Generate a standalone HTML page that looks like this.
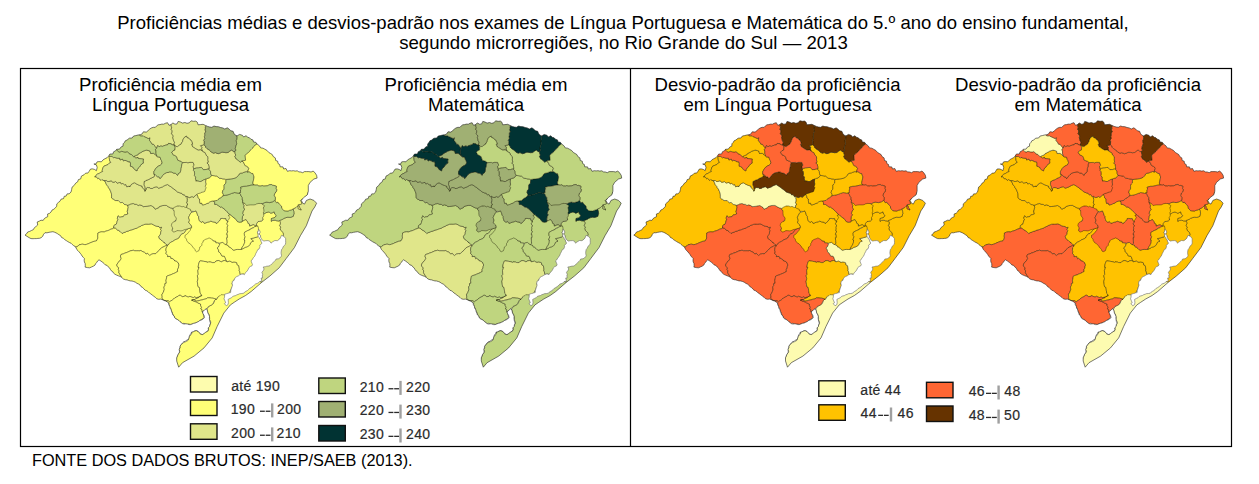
<!DOCTYPE html><html><head><meta charset="utf-8"><style>html,body{margin:0;padding:0;background:#fff;width:1259px;height:484px;overflow:hidden}svg{display:block}</style></head><body>
<svg width="1259" height="484" viewBox="0 0 1259 484">
<g font-family="Liberation Sans, sans-serif" fill="#000" font-size="18.6" text-anchor="middle">
<text x="623" y="28.8" font-size="18.5">Proficiências médias e desvios-padrão nos exames de Língua Portuguesa e Matemática do 5.º ano do ensino fundamental,</text>
<text x="623.5" y="49.4">segundo microrregiões, no Rio Grande do Sul — 2013</text>
<text x="170.5" y="90.9">Proficiência média em</text><text x="170.5" y="110.9">Língua Portuguesa</text>
<text x="476" y="90.9">Proficiência média em</text><text x="476" y="110.9">Matemática</text>
<text x="777.5" y="91">Desvio-padrão da proficiência</text><text x="777.5" y="111">em Língua Portuguesa</text>
<text x="1078" y="91">Desvio-padrão da proficiência</text><text x="1078" y="111">em Matemática</text>
</g>
<rect x="20.5" y="68.5" width="1211" height="378" fill="none" stroke="#000" stroke-width="1.2"/>
<line x1="630.5" y1="68.5" x2="630.5" y2="446.5" stroke="#000" stroke-width="1.2"/>
<clipPath id="clip1"><polygon points="25.0,235.1 26.6,233.8 27.7,232.0 29.7,231.4 31.4,230.5 33.3,229.7 34.4,227.7 36.1,226.4 37.7,225.0 37.2,222.0 39.4,221.1 41.0,220.2 43.2,220.4 44.3,218.6 45.9,217.5 47.7,216.7 47.6,214.0 49.6,213.3 51.0,212.0 52.0,210.1 53.9,209.2 55.4,207.8 56.7,206.2 56.8,203.9 58.3,202.5 60.0,201.2 61.0,199.2 63.6,198.6 64.2,196.3 66.1,196.1 67.1,193.9 69.1,193.8 71.0,192.1 71.6,189.7 72.1,187.1 74.1,185.5 75.7,183.1 77.6,181.9 78.4,179.6 80.7,178.9 81.4,176.1 84.0,174.8 85.7,173.1 87.8,173.1 89.0,171.5 90.6,169.0 92.7,168.9 94.7,169.5 96.4,170.7 97.2,167.4 96.4,164.9 93.9,164.0 96.0,164.0 97.0,161.9 98.9,161.6 101.4,161.8 103.0,159.9 105.0,158.7 107.1,157.7 108.7,156.0 109.9,154.0 112.8,154.0 113.7,151.7 115.5,150.9 116.7,149.3 119.5,149.1 121.1,146.9 123.0,146.2 123.1,143.8 124.4,142.5 125.3,140.8 127.1,140.0 129.3,138.2 132.1,138.0 133.6,136.0 135.8,135.6 138.0,135.0 140.1,134.8 142.0,134.0 143.4,131.8 146.3,132.1 148.1,130.6 149.6,129.2 151.3,128.0 153.3,127.3 155.3,127.4 156.6,125.9 158.2,124.8 160.0,124.6 161.8,124.1 163.7,124.2 165.3,123.3 167.5,122.7 169.0,125.3 171.2,124.6 172.7,122.9 175.0,124.2 177.0,123.9 178.2,121.4 180.4,122.0 182.5,123.1 184.9,122.5 187.0,123.3 189.3,122.8 191.0,120.8 193.6,121.3 195.8,121.1 197.3,122.2 198.1,124.8 200.3,124.6 203.1,124.3 205.6,125.5 207.6,126.4 209.7,127.0 211.8,127.3 214.0,126.0 216.1,126.6 218.4,126.7 220.5,127.5 222.7,127.9 224.8,129.0 227.3,127.8 229.3,129.2 230.9,130.8 233.1,131.3 233.9,133.3 235.1,135.0 237.1,135.9 239.6,134.4 242.4,135.3 243.7,137.0 246.2,135.7 247.6,137.3 249.5,137.8 251.0,139.3 252.9,139.9 253.5,142.0 255.8,142.3 256.9,143.9 259.5,145.9 260.7,147.9 263.0,148.2 264.8,149.2 267.1,150.5 268.8,152.5 270.6,153.5 272.3,154.6 273.2,156.5 275.3,157.9 275.7,160.5 277.7,161.2 278.0,163.5 279.7,164.5 280.1,166.8 283.0,166.9 283.7,169.0 286.0,168.5 287.4,171.3 289.7,170.7 291.5,170.9 293.4,170.7 295.2,171.1 297.2,170.8 298.9,171.9 300.8,172.0 302.7,172.7 304.5,171.6 306.4,171.6 308.8,171.6 311.1,172.0 313.1,171.1 314.8,172.5 316.6,175.3 317.1,178.1 313.9,179.0 310.1,182.3 308.3,185.5 308.3,191.1 307.3,194.8 303.6,197.6 301.3,200.4 302.7,203.2 304.5,204.1 306.4,200.4 310.1,199.0 313.9,200.4 316.6,203.2 314.8,206.9 312.0,211.0 306.3,225.8 300.4,235.7 294.4,247.6 286.2,258.5 279.2,267.8 269.9,276.0 261.9,282.2 251.2,291.5 245.6,295.5 239.2,299.0 234.2,302.3 230.4,304.9 223.8,313.1 217.2,326.4 212.2,337.9 204.0,347.9 194.1,356.1 182.5,362.7 178.7,367.2 176.7,361.0 176.7,357.8 177.4,356.1 178.1,354.3 179.2,352.8 179.5,351.2 179.2,349.5 179.8,347.9 180.0,346.2 181.2,344.5 182.5,342.9 183.8,341.7 185.4,341.3 186.6,340.1 188.3,339.6 188.9,338.1 189.3,336.4 189.9,335.0 190.9,333.6 191.6,332.1 193.3,331.8 194.8,330.7 196.5,330.5 198.1,331.3 199.3,332.6 200.6,333.9 202.3,334.6 204.0,333.6 205.6,332.3 207.3,331.3 208.4,329.8 208.2,327.9 209.6,326.5 209.8,324.7 210.6,323.1 209.9,321.5 209.6,319.8 209.4,318.2 209.5,316.4 208.9,314.8 207.9,313.0 207.5,310.9 206.7,309.0 206.3,308.7 204.9,309.6 203.8,310.8 202.4,311.7 203.0,313.7 204.1,315.6 204.4,317.7 203.1,319.0 201.5,319.9 199.8,320.5 198.4,321.6 196.8,322.3 195.3,323.0 193.6,323.3 192.1,324.0 190.5,324.6 188.9,324.6 187.3,323.9 185.7,323.8 184.1,324.0 182.5,323.6 181.2,322.6 179.9,321.6 178.8,320.4 177.4,319.5 175.8,318.8 174.6,317.7 174.2,316.0 172.8,314.9 172.3,313.2 171.6,311.7 171.2,309.8 170.1,308.2 169.8,306.4 168.8,304.7 168.6,302.8 167.2,301.9 165.8,301.1 164.2,300.5 162.7,299.8 160.8,299.1 158.7,299.3 156.8,298.8 155.4,297.4 153.9,296.3 152.3,295.1 150.8,293.9 149.4,293.0 148.2,291.8 146.8,290.8 145.2,290.2 143.9,288.9 142.7,287.5 141.0,286.6 140.0,285.0 138.5,284.0 136.9,283.3 135.4,282.2 133.7,281.5 132.0,281.0 130.3,280.9 128.7,280.5 127.1,279.9 125.4,279.7 123.4,279.0 121.8,277.5 120.1,276.4 118.3,275.8 116.6,275.1 115.0,274.3 113.5,273.1 112.7,271.6 111.2,270.7 110.3,269.3 109.5,267.8 108.1,266.8 107.1,265.4 105.3,264.9 104.2,263.6 102.9,262.5 101.0,261.1 99.0,259.8 97.7,260.9 96.8,262.3 95.7,263.6 95.0,265.1 93.3,266.2 91.5,267.0 89.7,267.8 87.4,267.6 85.1,267.1 85.3,265.4 85.2,263.6 84.4,262.0 84.2,260.2 84.4,258.5 83.2,257.3 82.1,256.0 81.2,254.5 80.2,253.2 79.1,251.9 78.0,250.7 76.8,249.5 76.1,247.9 75.2,246.5 73.6,245.6 72.3,244.5 71.0,243.2 69.4,242.5 67.8,241.6 66.3,240.6 64.8,239.7 63.4,238.3 61.6,237.5 60.6,235.7 58.9,234.7 57.5,233.7 56.1,232.9 54.5,232.2 52.9,231.7 50.9,232.0 49.0,232.3 47.0,232.8 45.0,232.7 43.6,234.3 42.7,236.3 41.1,237.7 39.5,238.3 37.9,238.4 36.3,238.6 34.7,238.6 33.1,238.7 31.0,238.6 29.2,237.7"/></clipPath>
<g clip-path="url(#clip1)" stroke="#1a1a00" stroke-opacity="0.52" stroke-width="0.8" stroke-linejoin="round">
<polygon fill="#FFFF77" points="-8.7,249.5 -8.8,249.1 -9.0,246.2 -8.7,246.2 -8.4,243.2 -9.5,243.0 -8.3,240.4 -8.7,239.6 -9.4,237.8 -8.3,236.1 -8.9,235.1 -8.8,232.8 -8.9,232.3 -8.5,229.7 -8.9,229.2 -9.3,226.8 -8.0,226.0 -9.3,224.0 -8.9,222.7 -8.3,221.1 -9.2,219.4 -8.7,218.2 -8.8,216.3 -8.5,215.2 -9.2,213.3 -8.7,212.0 -8.3,210.4 -9.6,208.9 -8.3,207.4 -8.7,205.9 -9.2,204.3 -8.6,202.9 -8.8,201.1 -8.7,200.0 -9.2,198.0 -8.3,197.0 -8.9,194.9 -9.4,193.9 -8.0,192.0 -9.2,190.7 -8.9,189.3 -8.5,187.3 -8.9,186.5 -8.8,184.0 -9.0,183.7 -8.2,180.9 -9.4,180.6 -6.7,179.7 -5.7,178.9 -4.8,178.3 -3.1,178.0 -2.1,177.6 0.3,177.1 1.7,176.3 2.1,175.5 4.1,175.0 5.4,174.8 7.2,174.8 9.0,174.8 9.2,174.4 11.1,173.7 12.9,172.8 14.2,172.0 16.1,171.5 16.5,171.2 18.0,170.8 20.4,170.2 21.3,169.4 23.0,168.6 23.9,168.2 25.0,168.1 27.6,168.1 28.6,168.0 29.8,167.5 31.2,166.7 32.2,165.9 34.7,165.2 36.0,164.7 36.7,164.4 38.5,164.0 39.5,163.3 41.7,162.5 43.3,161.8 43.6,161.4 45.6,161.3 47.0,161.4 48.7,161.2 50.6,160.6 50.8,159.8 52.5,159.0 54.5,158.3 55.7,158.0 57.6,157.6 58.1,157.1 59.5,156.4 61.9,155.6 62.9,154.9 64.5,154.6 65.5,154.6 66.5,154.6 69.2,154.4 70.2,153.7 71.3,152.9 72.8,152.1 73.7,151.5 76.2,151.2 77.6,150.9 78.2,150.3 80.0,149.5 81.1,148.7 83.2,148.1 85.0,147.9 85.2,147.9 87.1,147.9 88.6,147.5 90.1,146.8 92.1,146.0 92.4,145.2 94.0,144.8 96.1,144.4 97.2,144.0 99.1,143.4 99.8,142.6 100.9,141.8 103.5,141.3 104.5,141.2 106.0,141.2 107.2,141.1 108.0,140.7 109.3,140.9 108.5,143.9 108.7,144.3 108.7,146.7 109.0,147.9 108.4,149.6 108.7,151.2 109.2,152.9 107.9,154.1 109.3,156.5 109.2,157.3 109.4,159.1 109.7,160.8 110.8,162.4 108.8,163.5 107.8,164.7 105.9,165.4 103.9,166.2 102.9,167.9 102.2,170.3 102.7,171.5 100.4,172.5 99.4,173.3 97.4,174.1 96.0,175.3 94.8,177.0 96.2,176.6 97.9,178.8 98.5,178.3 101.1,180.3 101.9,179.5 103.7,180.5 105.3,181.5 105.7,182.8 106.6,184.9 108.1,186.5 108.3,187.4 109.6,189.1 110.6,191.3 111.3,193.2 111.5,194.2 111.6,196.2 111.5,197.8 113.0,199.1 113.5,199.2 115.3,200.5 118.3,200.6 118.7,201.0 120.7,202.7 122.4,202.4 124.6,204.5 126.3,204.7 127.5,205.3 128.3,207.2 128.0,208.0 127.6,210.7 127.1,210.9 127.9,214.0 125.9,214.7 124.4,215.0 123.8,215.5 123.3,216.6 120.8,217.0 119.9,217.4 118.1,215.8 117.2,218.4 118.1,219.2 117.2,221.0 116.9,222.4 116.3,224.2 114.9,224.9 113.9,225.6 113.7,228.0 112.7,228.7 110.4,229.4 109.3,230.1 107.3,230.8 105.2,231.4 104.3,232.0 102.5,231.9 101.9,231.8 99.9,232.2 97.9,233.0 97.9,234.9 97.7,235.9 97.9,238.0 97.3,239.4 96.4,240.9 95.8,241.1 93.7,241.4 92.7,241.9 90.5,242.7 88.9,243.5 86.8,244.3 85.1,244.7 84.6,244.6 82.6,244.2 81.6,244.3 79.0,244.9 78.1,245.9 77.1,246.7 75.3,247.1 74.2,247.3 75.3,250.3 74.4,250.7 74.3,253.0 73.2,254.4 73.8,255.6 73.7,257.8 73.0,258.8 72.6,260.6 72.2,262.3 73.0,263.6 71.8,265.3 71.8,267.1 70.9,267.9 71.8,270.7 69.5,269.6 68.1,269.3 66.5,270.4 65.7,270.6 63.1,269.5 62.3,269.4 60.8,270.6 59.2,270.5 57.1,269.4 56.7,269.6 54.4,270.7 52.9,270.3 51.6,269.3 50.5,269.8 48.0,270.7 47.2,270.1 45.8,269.3 43.9,270.0 42.2,270.7 41.5,270.0 39.4,269.3 37.7,270.1 36.7,270.7 35.2,269.8 33.0,269.4 32.1,270.3 30.8,270.6 28.7,269.7 27.3,269.5 26.3,270.4 24.3,270.4 22.6,269.6 21.7,269.6 20.0,270.4 18.0,270.3 16.9,269.6 15.7,269.8 13.4,270.4 12.4,270.1 11.1,269.6 9.2,269.9 7.4,270.4 6.8,270.0 4.7,269.7 3.0,270.0 1.8,270.3 0.7,270.0 -1.8,269.8 -2.5,270.1 -4.1,270.2 -5.8,269.9 -7.7,269.9 -8.2,270.1 -8.9,268.5 -9.1,266.7 -8.6,265.8 -8.8,263.3 -8.8,262.9 -9.2,260.1 -8.2,259.9 -9.2,257.1 -9.0,256.6 -8.1,254.4 -9.4,253.0 -8.6,251.8"/>
<polygon fill="#FFFF77" points="75.3,247.1 77.1,246.7 78.1,245.9 79.0,244.9 81.6,244.3 82.6,244.2 84.6,244.6 85.1,244.7 86.8,244.3 88.9,243.5 90.5,242.7 92.7,241.9 93.7,241.4 95.8,241.1 96.4,240.9 97.3,239.4 97.9,238.0 97.7,235.9 97.9,234.9 97.9,233.0 99.9,232.2 101.9,231.8 102.5,231.9 104.3,232.0 105.2,231.4 107.3,230.8 109.3,230.1 110.4,229.4 112.7,228.7 113.7,228.0 115.3,228.0 117.6,230.1 118.1,230.1 120.1,231.4 122.2,233.5 123.1,232.8 125.4,232.1 126.3,231.5 128.2,231.1 129.3,230.6 130.5,230.1 133.0,229.5 134.1,228.9 136.4,228.3 137.6,227.7 138.6,227.0 140.6,226.3 141.4,225.6 143.3,224.9 145.1,224.2 146.8,224.1 148.7,224.2 149.0,224.1 151.4,223.8 153.9,225.0 154.8,225.6 156.5,226.2 159.0,226.6 159.6,227.7 161.7,227.2 160.6,229.6 161.4,230.7 160.7,232.0 160.6,234.1 159.8,235.1 158.8,236.6 159.4,238.7 160.0,239.0 161.4,240.1 162.4,241.1 164.4,242.7 164.3,242.3 166.0,244.4 167.7,245.1 165.7,245.8 164.4,246.4 163.2,247.0 161.6,247.7 160.2,249.2 159.4,250.2 158.5,251.0 157.1,252.2 155.4,253.9 153.9,253.6 151.8,254.1 150.5,255.0 149.8,255.6 147.5,253.4 146.0,254.1 144.1,251.8 143.6,252.1 140.7,250.5 139.7,250.9 138.5,250.8 136.4,250.8 134.7,250.8 133.2,250.2 132.2,250.5 130.3,250.9 128.6,251.7 126.8,252.5 124.7,253.2 123.5,253.8 121.0,254.5 120.4,256.1 121.2,258.5 120.5,259.8 119.3,261.5 118.0,262.5 116.8,264.9 117.0,266.3 118.7,267.7 118.3,269.5 119.1,270.8 118.9,272.7 120.3,275.0 121.5,276.8 120.5,278.9 120.7,279.5 120.5,282.3 121.1,282.4 120.2,285.5 120.4,285.4 121.2,288.5 119.9,288.6 120.6,291.3 120.4,292.0 120.6,294.1 119.8,295.4 120.5,296.8 120.6,298.7 119.5,299.8 118.9,299.6 117.2,300.3 115.9,300.3 113.4,299.7 113.3,299.8 110.9,300.2 109.6,300.2 107.9,299.8 107.2,299.9 104.4,300.2 103.8,300.1 102.1,299.9 100.7,300.0 98.4,300.1 98.2,300.0 95.8,300.0 94.4,300.0 92.9,300.0 92.0,300.0 89.3,300.1 88.6,300.0 87.1,299.9 85.4,300.0 83.4,300.2 82.9,299.9 80.7,299.8 79.1,300.1 77.9,300.2 76.7,299.8 74.3,299.7 73.4,300.3 72.1,300.3 70.1,299.7 68.5,299.7 67.7,300.4 65.7,300.2 63.9,299.5 62.9,299.8 61.4,300.5 61.2,298.3 61.5,296.8 62.8,296.0 62.7,293.7 63.8,292.6 63.1,291.2 63.6,289.5 64.3,287.9 64.6,287.2 65.9,284.4 65.2,284.3 65.8,281.8 65.8,280.7 66.5,279.2 67.7,278.0 67.4,275.7 68.2,275.5 67.5,272.7 68.4,272.0 69.2,270.4 69.5,268.6 70.4,267.4 69.6,266.0 70.4,264.0 70.6,263.1 71.5,261.5 72.3,259.4 71.8,259.0 72.6,256.4 72.2,255.6 73.4,254.0 74.1,252.5 74.1,250.6 74.7,250.2 74.0,247.2"/>
<polygon fill="#FFFF77" points="121.5,276.8 120.3,275.0 118.9,272.7 119.1,270.8 118.3,269.5 118.7,267.7 117.0,266.3 116.8,264.9 118.0,262.5 119.3,261.5 120.5,259.8 121.2,258.5 120.4,256.1 121.0,254.5 123.5,253.8 124.7,253.2 126.8,252.5 128.6,251.7 130.3,250.9 132.2,250.5 133.2,250.2 134.7,250.8 136.4,250.8 138.5,250.8 139.7,250.9 140.7,250.5 143.6,252.1 144.1,251.8 146.0,254.1 147.5,253.4 149.8,255.6 150.5,255.0 151.8,254.1 153.9,253.6 155.4,253.9 157.1,252.2 158.5,251.0 159.4,250.2 160.2,249.2 161.6,247.7 163.2,247.0 164.4,246.4 165.7,245.8 167.7,245.1 167.0,246.9 166.2,247.7 165.9,250.3 166.4,251.7 166.0,253.5 167.7,255.3 167.6,256.6 170.3,256.4 171.1,258.7 171.8,258.1 174.5,260.0 174.5,260.6 176.3,261.1 178.3,262.8 178.2,262.8 179.1,265.0 178.6,266.4 178.4,268.0 177.5,269.5 177.6,271.6 176.1,272.2 175.4,272.9 173.4,273.6 171.8,274.3 170.6,274.9 168.1,275.6 166.7,276.4 166.6,277.7 166.1,280.0 166.0,280.2 166.3,283.2 164.9,283.6 164.9,285.6 163.9,287.0 164.2,288.7 164.3,289.4 163.3,292.3 163.2,292.4 161.8,294.9 162.2,296.1 162.1,297.6 162.8,300.2 162.7,300.9 162.8,303.3 162.2,304.1 162.7,306.3 163.0,307.5 161.7,309.0 162.9,310.9 162.3,311.8 162.3,314.3 162.1,314.8 162.7,317.5 162.2,317.9 161.7,320.4 160.8,320.7 159.3,319.5 157.9,319.4 155.6,320.6 155.3,320.5 153.0,319.3 151.6,319.6 150.1,320.7 149.2,320.3 146.6,319.2 146.0,319.8 144.3,320.8 142.7,320.1 140.7,319.2 140.4,320.0 137.8,320.8 136.7,319.9 135.2,319.2 134.1,320.2 131.5,320.7 131.2,319.6 129.2,319.3 127.6,320.4 125.9,320.6 125.4,319.5 122.6,319.5 121.8,320.6 120.3,320.5 118.9,319.3 116.6,319.6 116.3,320.7 114.0,320.3 112.6,319.2 111.1,319.8 110.9,318.4 112.3,317.3 112.2,315.3 113.1,314.2 112.2,312.8 113.1,310.6 113.5,310.3 114.2,307.5 114.5,307.1 114.0,305.0 114.8,303.7 114.8,302.2 116.3,300.9 115.7,298.8 116.2,298.4 116.0,295.5 116.8,295.5 117.6,292.8 117.5,292.0 118.0,290.3 117.4,288.8 118.8,287.3 118.8,286.2 119.7,283.8 119.2,283.6 119.5,280.9 120.1,280.3 120.6,278.5"/>
<polygon fill="#E0E68A" points="127.5,205.3 129.9,204.5 130.8,203.9 133.3,203.5 134.9,204.3 136.8,204.4 138.2,205.5 139.8,204.8 142.1,205.6 143.3,206.6 144.9,206.5 147.5,206.2 148.0,206.0 149.4,205.8 151.1,205.5 152.5,206.4 153.8,207.1 155.2,209.2 156.7,208.5 158.8,207.6 159.2,206.7 161.0,206.0 162.4,205.6 164.2,205.4 166.4,205.4 167.1,206.0 168.9,207.0 170.4,207.8 172.9,208.4 173.6,210.4 175.5,210.1 176.6,212.3 177.6,213.7 177.6,215.6 177.2,216.8 178.3,219.7 175.1,220.6 175.2,222.4 175.3,224.4 174.2,224.6 174.2,227.1 172.9,228.1 172.3,229.6 172.3,230.7 174.7,229.9 175.3,229.3 177.2,228.8 178.2,228.4 179.7,228.2 182.0,228.6 183.4,228.5 184.9,227.8 185.5,227.1 188.3,227.2 189.3,227.7 191.1,227.6 190.0,228.1 188.4,228.6 186.9,229.5 185.8,230.7 184.9,232.1 183.8,233.3 182.1,233.9 180.8,234.8 179.9,236.4 179.0,238.0 177.3,239.0 175.3,239.7 174.1,240.5 172.9,241.3 170.8,242.3 169.4,243.3 169.0,244.2 167.7,245.1 166.0,244.4 164.3,242.3 164.4,242.7 162.4,241.1 161.4,240.1 160.0,239.0 159.4,238.7 158.8,236.6 159.8,235.1 160.6,234.1 160.7,232.0 161.4,230.7 160.6,229.6 161.7,227.2 159.6,227.7 159.0,226.6 156.5,226.2 154.8,225.6 153.9,225.0 151.4,223.8 149.0,224.1 148.7,224.2 146.8,224.1 145.1,224.2 143.3,224.9 141.4,225.6 140.6,226.3 138.6,227.0 137.6,227.7 136.4,228.3 134.1,228.9 133.0,229.5 130.5,230.1 129.3,230.6 128.2,231.1 126.3,231.5 125.4,232.1 123.1,232.8 122.2,233.5 120.1,231.4 118.1,230.1 117.6,230.1 115.3,228.0 113.7,228.0 113.9,225.6 114.9,224.9 116.3,224.2 116.9,222.4 117.2,221.0 118.1,219.2 117.2,218.4 118.1,215.8 119.9,217.4 120.8,217.0 123.3,216.6 123.8,215.5 124.4,215.0 125.9,214.7 127.9,214.0 127.1,210.9 127.6,210.7 128.0,208.0 128.3,207.2"/>
<polygon fill="#FFFF77" points="261.8,281.9 263.5,283.1 264.7,282.5 266.4,283.7 267.7,283.8 269.2,283.9 270.7,285.0 272.1,284.5 273.7,285.6 275.0,285.7 276.6,285.8 278.0,286.9 279.5,286.5 281.0,287.5 282.4,287.7 284.0,287.8 285.3,288.8 286.9,288.5 288.2,289.4 289.8,289.7 291.2,289.7 289.8,291.3 288.7,292.5 288.0,293.3 287.3,293.9 285.9,294.8 284.0,295.9 282.6,297.1 282.1,298.1 281.8,299.1 280.6,300.1 278.6,301.3 276.9,302.4 276.2,303.2 275.9,303.8 275.0,304.7 273.3,306.0 271.7,307.5 270.6,308.9 269.9,309.6 269.0,309.9 267.7,310.5 266.5,311.7 265.4,313.4 264.3,315.0 262.9,315.9 261.7,316.3 261.0,316.7 260.3,317.7 259.0,319.2 257.1,320.8 255.7,321.9 255.1,322.5 254.8,323.1 253.7,324.0 251.7,325.3 250.0,326.5 249.2,327.5 248.9,328.4 248.0,329.5 246.4,330.6 244.7,331.6 243.6,332.5 242.9,333.2 242.0,334.1 240.7,335.4 239.5,337.0 238.5,338.1 237.3,338.7 235.9,339.1 234.7,339.8 234.0,341.2 233.3,343.0 232.0,344.4 230.2,345.1 228.7,345.4 228.1,345.9 227.8,347.1 226.7,348.7 224.8,350.2 223.0,351.2 222.2,351.7 221.9,352.3 221.1,353.3 219.5,354.6 217.8,355.9 216.7,356.9 216.0,357.8 215.0,358.8 213.8,359.9 212.5,360.9 211.5,361.7 210.3,362.5 209.0,363.5 207.7,364.9 207.0,366.3 206.3,367.4 205.1,367.9 203.3,368.3 201.7,369.2 201.1,370.7 200.8,372.4 199.8,373.7 197.9,374.3 196.1,374.5 195.2,375.2 194.9,376.5 194.1,378.2 192.5,379.7 190.8,380.5 190.4,378.8 187.6,379.1 187.5,377.3 185.2,377.7 183.9,375.9 183.0,376.3 180.9,374.4 179.9,374.9 178.5,373.0 176.8,373.4 175.5,371.6 174.4,372.0 172.0,370.2 172.0,370.5 172.2,368.6 172.4,367.2 173.4,365.1 174.1,363.5 174.0,362.8 174.7,360.9 176.0,359.8 176.7,357.1 177.3,356.1 178.1,353.9 179.3,352.8 179.9,351.2 178.9,349.5 180.1,347.8 180.0,346.4 181.2,344.3 182.3,343.6 183.2,342.8 185.3,341.9 187.2,341.0 188.3,340.1 188.9,337.4 189.2,336.7 190.5,335.1 191.7,334.1 191.8,332.0 192.5,331.6 194.7,331.1 196.2,330.6 198.3,331.7 199.5,332.1 200.2,334.1 203.0,334.3 204.0,332.8 206.0,331.8 208.0,331.2 208.6,329.2 208.5,327.8 208.9,326.6 209.9,325.1 210.5,323.3 210.9,322.0 209.2,319.0 209.9,318.4 209.4,317.0 208.9,314.0 207.8,313.3 207.6,312.2 207.2,310.5 207.0,309.6 207.5,308.4 208.4,306.9 210.1,305.8 211.8,304.9 213.3,303.8 214.1,302.2 214.6,300.6 215.4,299.5 216.3,299.3 217.7,297.8 218.0,296.1 218.4,295.0 219.8,293.1 222.0,292.1 223.6,291.1 224.7,290.2 226.9,291.0 227.4,291.7 229.6,291.1 231.6,290.8 233.2,291.0 234.7,290.6 235.8,290.0 237.8,289.9 239.6,290.3 241.3,289.5 243.5,288.7 244.5,287.9 246.9,287.1 248.0,286.4 248.4,285.6 249.7,284.7 251.6,283.7 252.9,282.6 254.4,281.9 256.7,281.2 257.7,280.5 259.7,279.8 260.1,281.6"/>
<polygon fill="#FFFF77" points="167.7,245.1 169.0,244.2 169.4,243.3 170.8,242.3 172.9,241.3 174.1,240.5 175.3,239.7 177.3,239.0 179.0,238.0 179.9,236.4 180.8,234.8 182.1,233.9 183.8,233.3 184.9,232.1 185.8,230.7 186.9,229.5 188.4,228.6 190.0,228.1 191.1,227.6 192.5,227.9 193.4,229.0 196.0,230.0 197.2,231.3 198.3,231.7 200.0,233.0 200.4,233.9 201.7,235.5 204.0,235.3 204.1,236.8 206.5,236.6 207.9,236.0 209.2,237.2 211.7,238.2 212.8,240.0 213.1,240.7 215.8,241.3 215.9,242.7 217.7,242.7 219.6,244.1 219.4,245.5 218.2,246.9 217.2,248.0 218.6,249.9 218.7,251.9 220.2,252.9 221.0,254.2 221.9,256.0 224.3,256.2 224.9,257.1 225.7,259.3 227.1,261.8 226.8,261.5 224.7,260.5 223.1,260.9 221.3,261.9 220.6,261.5 218.4,260.5 216.7,260.9 215.0,261.9 214.5,262.6 212.2,262.6 210.9,262.1 208.5,261.9 208.1,262.4 205.9,261.7 203.6,261.3 202.9,261.2 200.6,260.9 199.6,261.3 198.6,264.1 198.6,264.2 198.1,267.3 199.1,267.3 198.0,270.3 197.9,270.5 198.1,273.1 198.3,274.3 197.3,275.8 197.9,278.2 198.0,278.7 197.3,281.6 197.4,282.1 197.7,284.6 198.0,286.6 199.4,287.4 199.6,288.5 199.9,290.8 200.3,293.4 201.0,294.0 201.9,295.7 199.8,296.5 198.6,297.2 196.2,297.6 194.5,297.0 193.3,297.6 191.8,297.2 189.9,296.3 188.7,297.0 187.5,296.8 184.9,295.6 184.6,296.3 182.2,296.7 180.4,295.3 179.0,295.3 178.4,296.1 176.6,297.0 174.8,297.9 173.7,299.0 172.4,300.0 170.7,301.0 169.7,301.9 168.1,300.7 166.3,300.7 164.3,300.4 162.8,300.2 162.1,297.6 162.2,296.1 161.8,294.9 163.2,292.4 163.3,292.3 164.3,289.4 164.2,288.7 163.9,287.0 164.9,285.6 164.9,283.6 166.3,283.2 166.0,280.2 166.1,280.0 166.6,277.7 166.7,276.4 168.1,275.6 170.6,274.9 171.8,274.3 173.4,273.6 175.4,272.9 176.1,272.2 177.6,271.6 177.5,269.5 178.4,268.0 178.6,266.4 179.1,265.0 178.2,262.8 178.3,262.8 176.3,261.1 174.5,260.6 174.5,260.0 171.8,258.1 171.1,258.7 170.3,256.4 167.6,256.6 167.7,255.3 166.0,253.5 166.4,251.7 165.9,250.3 166.2,247.7 167.0,246.9"/>
<polygon fill="#FFFF77" points="169.7,301.9 170.7,301.0 172.4,300.0 173.7,299.0 174.8,297.9 176.6,297.0 178.4,296.1 179.0,295.3 180.4,295.3 182.2,296.7 184.6,296.3 184.9,295.6 187.5,296.8 188.7,297.0 189.9,296.3 191.8,297.2 193.3,297.6 194.5,297.0 196.2,297.6 198.6,297.2 199.8,296.5 201.9,295.7 199.6,296.7 198.6,297.7 196.1,298.7 194.6,299.7 191.7,300.2 193.8,301.1 196.5,302.0 198.1,303.0 200.6,304.0 200.6,305.4 201.6,307.4 200.8,308.8 202.0,309.4 202.3,312.0 203.5,313.8 203.4,314.4 203.8,316.2 203.9,317.4 202.9,318.6 200.8,319.9 199.3,321.0 198.5,322.0 196.6,322.5 195.4,323.0 194.3,323.5 192.0,324.0 191.0,324.4 188.1,323.9 187.8,324.9 185.8,324.1 183.7,323.1 182.7,324.1 180.4,321.9 180.5,322.3 178.5,320.5 176.6,319.2 176.7,319.4 174.3,317.1 173.9,316.4 173.4,315.1 172.4,313.2 172.3,312.2 171.1,310.5 170.8,308.0 169.5,307.3 169.5,305.9 169.1,304.4 169.1,303.3 166.4,301.6 166.4,301.8 163.7,300.1 162.8,300.2 164.3,300.4 166.3,300.7 168.1,300.7"/>
<polygon fill="#FFFF77" points="199.6,261.3 200.6,260.9 202.9,261.2 203.6,261.3 205.9,261.7 208.1,262.4 208.5,261.9 210.9,262.1 212.2,262.6 214.5,262.6 215.0,261.9 216.7,260.9 218.4,260.5 220.6,261.5 221.3,261.9 223.1,260.9 224.7,260.5 226.8,261.5 227.1,261.8 229.9,260.9 230.8,261.6 232.4,262.3 234.0,261.9 235.7,262.3 236.8,262.7 237.3,265.0 238.8,265.7 239.0,266.9 239.4,269.2 239.2,270.6 239.8,271.8 240.2,274.3 241.3,274.2 243.2,275.0 242.5,275.6 240.3,276.4 238.4,277.1 237.3,277.9 235.2,278.8 233.9,279.6 233.7,281.0 232.7,282.8 232.0,283.5 232.9,286.0 231.8,287.3 231.2,289.0 230.8,289.9 229.6,292.1 228.4,293.9 227.4,294.4 224.9,295.0 223.5,294.8 221.1,294.7 220.2,295.6 218.7,296.3 217.3,297.6 216.4,299.4 214.3,298.5 212.9,298.2 211.4,298.1 210.0,297.9 207.7,297.8 206.1,298.9 203.6,299.4 202.3,299.9 199.9,300.3 198.9,300.7 196.9,301.1 196.1,301.1 193.9,299.7 191.7,300.2 194.6,299.7 196.1,298.7 198.6,297.7 199.6,296.7 201.9,295.7 201.0,294.0 200.3,293.4 199.9,290.8 199.6,288.5 199.4,287.4 198.0,286.6 197.7,284.6 197.4,282.1 197.3,281.6 198.0,278.7 197.9,278.2 197.3,275.8 198.3,274.3 198.1,273.1 197.9,270.5 198.0,270.3 199.1,267.3 198.1,267.3 198.6,264.2 198.6,264.1"/>
<polygon fill="#FFFF77" points="191.7,300.2 193.9,299.7 196.1,301.1 196.9,301.1 198.9,300.7 199.9,300.3 202.3,299.9 203.6,299.4 206.1,298.9 207.7,297.8 210.0,297.9 211.4,298.1 212.9,298.2 214.3,298.5 216.4,299.4 215.4,299.5 214.2,300.9 213.3,303.0 212.4,304.4 211.0,305.3 209.4,305.9 208.2,306.7 207.4,307.7 205.8,309.4 203.8,310.9 202.3,312.0 202.0,309.4 200.8,308.8 201.6,307.4 200.6,305.4 200.6,304.0 198.1,303.0 196.5,302.0 193.8,301.1"/>
<polygon fill="#FFFF77" points="217.2,248.0 218.6,246.9 219.6,244.5 219.8,243.2 220.5,242.8 222.9,242.4 224.3,243.7 225.7,244.5 227.7,245.0 229.1,247.2 229.7,247.0 231.6,248.5 232.8,249.8 233.8,250.2 235.9,249.6 237.6,249.4 239.9,249.5 241.3,249.3 243.7,248.3 245.0,247.4 247.3,246.7 248.8,245.9 249.9,244.5 250.6,242.7 251.8,241.7 253.4,241.1 250.7,238.7 253.4,238.0 254.9,237.6 257.4,236.9 258.5,236.1 259.9,238.1 260.1,238.7 261.2,240.4 261.6,241.9 262.3,242.4 263.0,244.2 263.5,245.5 264.7,246.3 264.9,248.5 266.4,249.8 265.5,251.2 265.4,252.4 264.4,254.4 263.2,255.4 263.0,255.7 262.4,258.0 261.0,259.7 260.5,260.1 260.2,261.6 258.8,263.0 258.0,264.3 257.8,266.1 256.7,266.6 255.5,267.6 255.3,270.2 254.5,271.0 253.1,271.6 252.7,273.5 252.3,274.7 250.9,276.1 249.3,275.4 248.7,275.4 245.7,275.1 244.9,275.1 243.5,273.9 241.0,274.3 240.2,274.3 239.8,271.8 239.2,270.6 239.4,269.2 239.0,266.9 238.8,265.7 237.3,265.0 236.8,262.7 235.7,262.3 234.0,261.9 232.4,262.3 230.8,261.6 229.9,260.9 227.1,261.8 225.7,259.3 224.9,257.1 224.3,256.2 221.9,256.0 221.0,254.2 220.2,252.9 218.7,251.9 218.6,249.9"/>
<polygon fill="#E0E68A" points="292.9,209.0 295.8,207.6 297.2,206.2 298.2,205.3 298.2,207.3 298.2,208.7 301.2,210.0 299.7,207.6 299.3,206.2 298.2,204.7 300.5,204.3 301.8,203.7 301.2,201.8 300.3,200.8 301.8,199.3 304.7,198.4 305.2,196.8 306.2,196.2 307.6,194.7 307.8,193.6 308.3,192.0 309.6,191.9 311.9,191.7 312.2,191.6 314.4,191.6 315.9,191.4 317.9,191.0 318.4,190.9 320.5,191.1 322.2,191.1 323.9,190.6 324.6,190.1 326.5,190.2 328.5,190.6 329.8,190.5 330.9,189.8 331.1,191.8 331.4,192.7 331.2,194.9 331.1,195.7 330.9,197.9 331.9,198.8 330.7,200.7 331.1,202.1 331.9,203.4 330.6,205.3 331.4,206.2 331.4,208.6 331.1,209.1 331.1,211.6 331.2,212.1 331.7,214.5 330.5,215.4 331.5,217.2 331.5,218.7 330.5,219.9 331.7,222.1 331.2,222.6 331.1,225.3 331.1,225.5 331.4,228.3 331.4,228.7 330.6,231.0 331.9,232.0 331.1,233.7 330.7,235.5 331.8,236.3 330.9,238.8 331.1,239.0 331.2,242.0 331.4,242.0 331.1,244.9 330.9,245.3 331.9,247.5 330.6,248.7 331.1,250.1 331.8,252.2 330.7,252.7 331.3,255.5 331.3,255.5 331.3,258.6 330.9,258.6 331.2,261.4 331.7,261.9 330.4,264.0 331.6,265.4 331.5,266.5 330.6,268.9 331.6,269.2 331.2,272.1 331.2,272.1 331.0,275.1 331.5,275.3 331.4,277.9 330.5,278.7 331.9,280.4 331.0,282.1 330.8,283.0 331.7,285.5 331.0,285.7 331.2,288.7 331.1,288.7 331.6,291.6 331.0,292.0 330.9,294.3 332.0,295.4 330.6,296.9 331.2,298.8 331.7,299.5 329.5,299.8 328.2,299.4 327.1,298.5 324.8,299.0 324.4,297.8 321.8,297.8 321.2,297.6 319.3,296.6 317.8,296.9 316.8,296.0 314.5,295.8 314.0,295.7 311.6,294.8 310.8,294.9 309.0,294.3 307.5,293.9 306.4,293.7 304.3,293.0 303.6,292.9 301.4,292.4 300.4,292.0 298.8,291.7 297.1,291.3 296.1,290.9 294.1,290.5 293.1,290.2 291.2,289.7 290.0,289.5 288.5,289.0 286.8,288.6 285.7,288.4 283.9,287.7 282.7,287.6 281.0,287.1 279.6,286.6 278.1,286.6 276.6,285.7 275.2,285.7 273.7,285.3 272.2,284.5 270.7,284.9 269.3,283.8 267.8,283.8 266.4,283.6 264.8,282.5 263.5,283.0 261.8,281.9 260.3,281.8 258.5,280.4 257.9,280.4 257.0,278.1 257.0,277.3 257.3,275.3 257.3,274.1 257.2,272.5 256.8,270.9 257.9,269.7 256.9,267.7 258.9,266.5 260.4,265.6 260.9,265.1 261.3,264.6 262.6,263.8 264.6,262.4 266.4,260.8 267.2,259.3 267.6,258.3 268.5,257.7 269.7,257.0 271.1,255.3 271.8,254.4 272.2,253.0 273.2,250.6 274.7,249.7 275.7,248.9 276.2,247.2 276.9,246.4 278.2,245.1 279.2,242.7 279.5,241.9 280.3,241.3 281.7,239.5 282.4,238.2 282.6,236.8 283.4,234.7 283.0,232.6 281.5,231.2 280.6,230.3 280.0,228.1 280.6,227.4 279.4,225.2 280.4,224.0 280.2,222.2 279.4,220.6 281.1,219.9 282.9,219.2 283.9,218.4 286.1,217.6 287.8,217.2 290.2,217.4 291.0,217.2 293.3,216.3 293.5,215.0 294.0,213.8 293.8,211.5"/>
<polygon fill="#FFFF77" points="262.0,215.2 263.1,214.3 265.0,213.4 265.9,212.7 268.3,212.0 269.7,212.4 270.8,213.2 272.2,212.9 274.2,211.8 274.8,214.1 276.3,215.5 275.2,217.1 274.0,217.9 271.4,218.5 271.3,221.3 272.8,220.4 275.2,220.2 276.8,220.8 278.9,221.0 279.4,220.6 280.2,222.2 280.4,224.0 279.4,225.2 280.6,227.4 280.0,228.1 280.6,230.3 281.5,231.2 283.0,232.6 283.4,234.7 282.6,236.8 281.1,238.0 279.9,238.7 279.2,239.7 278.5,241.2 277.2,242.8 275.4,243.9 273.6,244.3 271.6,243.6 271.3,243.5 268.3,243.4 267.5,243.2 265.9,243.4 264.3,242.9 263.5,241.6 262.3,240.2 261.9,239.9 259.9,238.2 260.6,235.9 258.9,235.0 259.5,233.2 259.2,230.9 258.6,230.2 257.5,228.2 257.1,227.3 256.0,226.2 256.7,223.4 258.2,221.5 259.6,221.4 261.7,220.9 262.9,220.0 263.0,218.8 261.8,217.7"/>
<polygon fill="#BFD57F" points="260.9,204.3 263.1,203.5 264.5,202.7 266.7,202.1 268.2,202.4 269.7,202.6 271.8,202.0 272.8,201.7 274.9,200.4 276.5,202.7 277.8,202.0 279.3,204.0 280.4,205.0 281.6,206.2 281.8,208.3 283.5,209.9 284.1,210.7 286.0,210.9 288.1,211.0 289.3,210.4 291.8,209.7 292.9,209.0 293.8,211.5 294.0,213.8 293.5,215.0 293.3,216.3 291.0,217.2 290.2,217.4 287.8,217.2 286.1,217.6 283.9,218.4 282.9,219.2 281.1,219.9 279.4,220.6 278.9,221.0 276.8,220.8 275.2,220.2 272.8,220.4 271.3,221.3 271.4,218.5 274.0,217.9 275.2,217.1 276.3,215.5 274.8,214.1 274.2,211.8 272.2,212.9 270.8,213.2 269.7,212.4 268.3,212.0 265.9,212.7 265.0,213.4 263.1,214.3 262.0,215.2 262.4,213.3 262.6,212.5 262.1,210.1 262.6,209.7 263.3,207.0 261.7,205.9"/>
<polygon fill="#E0E68A" points="242.5,202.3 245.3,203.4 247.8,203.6 248.7,203.1 250.4,203.0 251.2,202.8 253.6,202.4 255.2,201.9 257.9,202.7 259.0,203.1 260.5,202.5 262.1,204.3 262.7,204.5 264.5,205.7 263.2,208.2 263.7,208.6 264.0,211.7 263.4,212.2 263.7,214.6 263.8,216.0 262.7,217.4 262.9,220.0 261.7,220.9 259.6,221.4 258.2,221.5 256.7,223.4 256.0,226.2 255.4,225.8 253.5,224.8 252.1,225.2 249.6,226.2 249.5,224.2 247.8,223.3 247.7,222.0 246.3,220.2 246.0,219.6 244.0,220.5 242.7,221.2 241.9,221.9 242.4,220.3 242.1,219.3 242.5,216.4 243.6,214.9 242.6,213.4 243.2,211.2 244.5,209.5 243.6,207.5 243.9,205.2 243.5,204.8"/>
<polygon fill="#FFFF77" points="227.8,221.5 227.2,220.8 227.6,218.3 227.4,216.9 228.7,215.4 227.8,213.2 229.8,214.6 230.9,215.3 231.6,215.8 234.0,217.8 234.9,218.2 235.7,219.2 237.5,221.6 239.6,222.2 241.9,221.9 242.7,221.2 244.0,220.5 246.0,219.6 246.3,220.2 247.7,222.0 247.8,223.3 249.5,224.2 249.6,226.2 252.1,225.2 253.5,224.8 255.4,225.8 256.0,226.2 257.9,226.1 256.9,226.3 254.7,226.8 253.5,227.5 251.6,228.3 250.1,229.2 249.8,229.9 247.6,230.6 246.3,231.4 244.7,232.1 244.3,233.6 244.5,235.7 245.2,236.7 244.1,239.8 244.8,240.0 244.6,242.9 244.2,243.7 243.3,245.7 242.4,246.8 241.3,249.3 239.9,249.5 237.6,249.4 235.9,249.6 233.8,250.2 232.8,249.8 231.6,248.5 229.7,247.0 229.1,247.2 227.7,245.0 225.7,244.5 227.0,243.3 226.8,241.2 226.8,240.5 226.5,237.7 227.3,237.5 227.1,234.4 226.4,234.3 227.7,231.4 226.9,230.9 227.1,228.6 227.0,227.4 227.7,225.5 226.5,223.9"/>
<polygon fill="#FFFF77" points="244.7,232.1 246.3,231.4 247.6,230.6 249.8,229.9 250.3,229.2 251.9,228.4 253.5,227.7 254.4,226.9 256.8,226.1 258.2,226.6 258.5,229.1 258.4,230.6 257.5,232.5 258.2,234.1 258.5,236.1 257.4,236.9 254.9,237.6 253.4,238.0 250.7,238.7 253.4,241.1 251.8,241.7 250.6,242.7 249.9,244.5 248.8,245.9 247.3,246.7 245.0,247.4 243.7,248.3 241.3,249.3 242.4,246.8 243.3,245.7 244.2,243.7 244.6,242.9 244.8,240.0 244.1,239.8 245.2,236.7 244.5,235.7 244.3,233.6"/>
<polygon fill="#E0E68A" points="172.5,205.0 174.7,204.8 175.3,204.7 177.5,205.9 178.6,205.8 181.3,204.9 182.0,203.9 183.4,203.3 184.8,204.1 187.3,204.8 188.0,204.0 189.9,205.8 190.2,206.4 191.8,208.1 191.9,208.7 192.8,209.4 191.7,212.4 190.6,213.3 189.6,215.3 188.6,217.3 188.9,218.6 189.5,220.1 188.8,222.5 190.2,224.4 191.2,225.2 191.8,227.1 190.9,227.7 189.8,228.3 188.1,228.7 187.1,229.1 184.5,229.6 183.3,230.2 182.2,230.7 180.9,230.9 179.2,230.7 176.9,230.6 176.6,231.1 174.6,231.8 173.4,232.1 172.1,230.4 172.8,228.0 172.6,227.8 171.4,225.7 171.7,223.8 172.7,222.5 173.8,221.8 175.0,221.4 176.0,220.6 176.3,218.1 174.9,216.2 174.5,215.6 174.2,213.8 174.2,212.6 174.1,210.5 172.6,209.2 173.2,208.6 172.8,205.7"/>
<polygon fill="#FFFF77" points="191.7,212.4 194.4,211.5 195.9,210.8 197.0,213.1 197.6,215.3 198.6,216.3 198.6,217.9 199.0,219.4 199.3,220.7 201.4,222.3 202.9,221.4 204.3,223.3 206.0,222.8 207.6,222.2 209.7,221.7 210.8,221.1 212.6,221.8 215.5,222.3 216.2,223.5 217.6,222.6 219.2,221.1 220.3,219.5 220.6,218.5 222.5,218.4 223.6,218.6 225.9,218.6 226.4,220.5 227.8,221.5 226.5,223.9 227.7,225.5 227.0,227.4 227.1,228.6 226.9,230.9 227.7,231.4 226.4,234.3 227.1,234.4 227.3,237.5 226.5,237.7 226.8,240.5 226.8,241.2 227.0,243.3 225.7,244.5 224.3,243.7 222.9,242.4 220.5,242.8 219.8,243.2 217.7,242.7 215.9,242.7 215.8,241.3 213.1,240.7 212.8,240.0 211.0,238.9 209.1,237.9 207.5,238.7 205.1,239.5 204.2,240.2 202.8,241.0 203.3,241.8 201.9,243.5 201.9,245.2 200.8,246.4 199.8,247.0 199.5,248.9 198.7,250.9 197.3,251.4 196.6,251.8 195.4,250.9 195.0,249.6 193.3,247.5 192.7,247.2 192.3,246.2 190.2,243.8 189.0,243.2 188.0,242.5 186.6,240.3 186.5,239.1 185.0,237.5 185.0,235.3 186.1,234.7 187.4,233.8 188.7,232.1 189.6,231.0 190.1,230.5 190.7,229.0 191.8,227.1 191.2,225.2 190.2,224.4 188.8,222.5 189.5,220.1 188.9,218.6 188.6,217.3 189.6,215.3 190.6,213.3"/>
<polygon fill="#E0E68A" points="186.9,196.3 189.1,197.5 189.4,197.6 192.1,196.5 193.4,197.3 195.7,195.3 197.0,194.3 198.0,196.6 198.1,197.8 199.6,199.0 199.6,201.0 200.0,203.4 201.7,203.1 202.5,205.0 205.3,204.4 206.1,203.8 208.5,203.0 209.7,201.9 212.2,201.0 213.7,200.9 214.7,202.7 214.7,204.4 216.5,204.4 218.8,205.9 220.4,207.2 221.4,206.9 224.4,209.1 225.1,209.7 225.4,210.1 227.1,211.8 227.9,212.5 229.9,214.7 228.4,215.3 229.8,217.5 228.7,219.5 227.9,220.3 227.8,221.5 226.4,220.5 225.9,218.6 223.6,218.6 222.5,218.4 220.6,218.5 220.3,219.5 219.2,221.1 217.6,222.6 216.2,223.5 215.5,222.3 212.6,221.8 210.8,221.1 209.7,221.7 207.6,222.2 206.0,222.8 204.3,223.3 202.9,221.4 201.4,222.3 199.3,220.7 199.0,219.4 198.6,217.9 198.6,216.3 197.6,215.3 197.0,213.1 195.9,210.8 194.4,211.5 191.9,211.3 190.7,211.0 190.4,209.3 187.9,208.4 186.7,207.5 186.6,205.6 187.7,204.9 186.5,202.3 187.0,202.1 187.2,199.2 187.0,199.1"/>
<polygon fill="#BFD57F" points="213.7,200.9 217.2,200.4 218.0,199.4 219.1,198.5 221.0,197.5 222.0,196.6 223.2,195.7 225.8,195.2 226.9,195.0 229.4,194.4 230.4,193.9 231.6,193.4 233.2,193.0 234.1,192.5 237.1,192.9 238.2,193.4 239.1,192.9 240.8,194.8 241.0,195.9 242.3,197.5 242.3,200.0 242.8,200.1 242.5,202.3 243.5,204.8 243.9,205.2 243.6,207.5 244.5,209.5 243.2,211.2 242.6,213.4 243.6,214.9 242.5,216.4 242.1,219.3 242.4,220.3 241.9,221.9 239.6,222.2 237.5,221.6 235.7,219.2 234.9,218.2 234.0,217.8 231.5,215.8 230.4,214.6 229.9,214.7 227.9,212.5 227.1,211.8 225.4,210.1 225.1,209.7 224.4,209.1 221.4,206.9 220.4,207.2 218.8,205.9 216.5,204.4 214.7,204.4 214.7,202.7"/>
<polygon fill="#FFFF77" points="194.7,194.2 196.7,193.8 197.6,193.2 199.4,192.7 201.7,192.1 202.7,191.4 204.6,190.7 204.4,187.9 204.7,186.1 206.0,184.1 205.7,182.8 205.6,181.8 205.8,179.1 206.6,178.7 209.3,177.8 210.5,176.9 211.5,175.4 214.2,175.7 215.7,176.0 216.8,176.0 219.3,178.2 221.8,178.5 222.1,178.8 224.6,179.0 225.7,179.4 226.8,179.4 226.0,180.4 225.9,183.1 224.9,184.0 224.0,185.7 224.1,186.5 224.1,189.1 222.8,190.6 222.4,192.6 223.4,194.5 223.2,195.7 222.0,196.6 221.0,197.5 219.1,198.5 218.0,199.4 217.2,200.4 213.7,200.9 212.2,201.0 209.7,201.9 208.5,203.0 206.1,203.8 205.3,204.4 202.5,205.0 201.7,203.1 200.0,203.4 199.6,201.0 199.6,199.0 198.1,197.8 198.0,196.6 197.0,194.3"/>
<polygon fill="#BFD57F" points="226.8,179.4 229.0,179.1 230.7,178.9 231.4,178.8 233.2,178.6 234.5,178.2 236.6,177.3 238.1,175.7 239.0,174.2 240.2,173.3 242.5,172.9 244.1,172.2 246.2,171.5 247.6,172.0 249.1,171.6 251.6,173.4 252.9,173.5 253.5,175.3 254.1,176.9 253.9,178.2 253.3,181.0 252.8,183.1 253.9,185.0 252.0,185.1 250.0,185.4 249.2,185.7 247.4,186.1 246.5,186.3 243.7,186.4 242.7,186.7 240.6,187.3 241.2,189.2 240.5,189.8 240.6,192.8 239.1,192.9 238.2,193.4 237.1,192.9 234.1,192.5 233.2,193.0 231.6,193.4 230.4,193.9 229.4,194.4 226.9,195.0 225.8,195.2 223.2,195.7 223.4,194.5 222.4,192.6 222.8,190.6 224.1,189.1 224.1,186.5 224.0,185.7 224.9,184.0 225.9,183.1 226.0,180.4"/>
<polygon fill="#BFD57F" points="193.7,168.9 194.9,168.3 196.4,167.8 198.3,167.7 200.1,167.5 201.6,167.4 203.4,169.6 206.2,169.5 207.0,169.0 209.1,168.5 209.1,169.5 210.5,171.2 210.7,173.5 211.5,175.4 210.5,176.9 209.3,177.8 206.6,178.7 205.8,179.1 203.2,180.0 202.2,181.0 200.9,181.5 199.5,181.5 197.9,181.1 195.5,181.0 196.0,180.4 195.4,179.0 195.6,177.1 194.3,175.7 194.6,174.0 194.4,171.7 193.4,170.6"/>
<polygon fill="#E0E68A" points="203.8,144.7 205.6,146.2 205.6,147.2 207.1,148.7 209.5,150.2 210.5,151.1 211.3,152.1 213.6,153.2 215.4,152.6 216.2,153.0 218.1,153.7 219.9,153.2 221.4,152.4 222.4,152.2 224.2,152.4 225.9,152.7 228.1,152.5 229.7,151.2 231.8,149.9 233.4,151.7 234.8,151.4 235.2,153.8 235.8,155.1 234.9,156.4 236.2,159.1 236.5,159.0 238.4,160.5 240.2,162.2 241.8,161.1 243.2,161.9 244.0,163.2 244.9,165.4 246.7,166.2 248.2,167.3 248.9,168.8 248.2,169.9 247.6,172.0 246.2,171.5 244.1,172.2 242.5,172.9 240.2,173.3 239.0,174.2 238.1,175.7 236.6,177.3 234.5,178.2 233.2,178.6 231.4,178.8 230.7,178.9 229.0,179.1 226.8,179.4 225.7,179.4 224.6,179.0 222.1,178.8 221.8,178.5 219.3,178.2 216.8,176.0 215.7,176.0 214.2,175.7 211.5,175.4 210.7,173.5 210.5,171.2 209.1,169.5 209.1,168.5 208.9,166.4 208.4,164.4 206.9,162.9 208.2,162.2 207.6,159.8 207.8,159.1 207.7,156.7 206.1,155.2 205.6,154.0 204.9,152.5 203.3,152.1 202.4,151.0 201.5,148.9 201.8,147.3 200.3,145.7 202.7,145.1"/>
<polygon fill="#A0B073" points="205.6,110.4 207.6,109.8 208.2,109.6 210.1,110.3 211.9,110.4 213.1,109.7 214.3,109.7 216.6,110.4 217.6,110.3 218.8,109.5 220.8,109.7 222.4,110.5 223.2,110.2 225.2,109.4 227.0,109.9 227.9,110.6 229.5,110.0 231.6,109.4 232.6,110.0 233.8,110.6 236.0,109.9 237.3,109.4 236.5,112.2 237.9,112.3 236.9,115.3 237.0,115.5 237.3,118.1 237.3,118.9 237.1,120.7 236.8,122.3 237.9,123.5 236.6,125.6 237.1,126.4 237.7,128.7 236.6,129.4 237.3,131.6 237.1,132.6 237.3,134.5 236.8,135.8 237.2,137.5 237.0,139.2 236.3,140.5 236.5,142.5 236.8,143.7 236.0,145.8 235.7,146.7 235.3,148.8 236.1,150.3 234.8,151.4 233.4,151.7 231.8,149.9 229.7,151.2 228.1,152.5 225.9,152.7 224.2,152.4 222.4,152.2 221.4,152.4 219.9,153.2 218.1,153.7 216.2,153.0 215.4,152.6 213.6,153.2 211.3,152.1 210.5,151.1 209.5,150.2 207.1,148.7 205.6,147.2 205.6,146.2 203.8,144.7 204.0,143.7 204.1,141.5 203.5,140.3 204.7,138.4 204.3,136.6 204.7,135.3 204.6,132.8 205.8,132.0 204.8,129.8 205.3,128.8 205.2,126.9 206.3,125.5 204.9,124.0 205.8,122.4 205.9,120.7 205.2,119.5 205.8,117.4 205.6,116.7 205.8,114.1 205.1,113.7 206.1,111.0"/>
<polygon fill="#BFD57F" points="237.3,109.4 238.4,110.2 240.2,110.7 242.3,109.7 242.9,109.3 244.9,110.3 246.6,110.7 248.3,109.6 248.8,109.3 251.5,110.4 252.6,110.6 254.2,109.6 255.1,109.4 258.0,110.4 256.8,111.2 257.0,113.4 257.5,114.5 257.0,116.1 257.1,118.0 256.9,118.8 257.7,121.4 256.5,121.6 257.2,124.7 257.5,124.6 256.4,127.6 257.3,128.0 257.0,130.4 257.1,131.4 256.6,133.1 257.4,134.8 257.1,135.9 256.3,138.0 257.7,139.0 256.6,141.1 256.8,142.2 257.1,144.0 255.4,144.9 253.9,146.6 252.8,148.1 252.0,148.7 250.9,149.8 249.5,151.5 247.8,153.1 246.6,153.8 245.2,155.6 245.4,157.9 245.6,160.3 241.8,161.1 240.2,162.2 238.4,160.5 236.5,159.0 236.2,159.1 234.9,156.4 235.8,155.1 235.2,153.8 234.8,151.4 236.1,150.3 235.3,148.8 235.7,146.7 236.0,145.8 236.8,143.7 236.5,142.5 236.3,140.5 237.0,139.2 237.2,137.5 236.8,135.8 237.3,134.5 237.1,132.6 237.3,131.6 236.6,129.4 237.7,128.7 237.1,126.4 236.6,125.6 237.9,123.5 236.8,122.3 237.1,120.7 237.3,118.9 237.3,118.1 237.0,115.5 236.9,115.3 237.9,112.3 236.5,112.2"/>
<polygon fill="#FFFF77" points="258.0,110.4 258.3,110.5 260.3,109.5 261.6,109.6 263.8,110.5 264.0,110.3 266.7,109.5 267.7,109.7 269.4,110.5 270.3,110.2 273.1,109.5 273.3,109.9 275.4,110.5 276.8,110.1 278.8,109.6 279.1,110.0 281.9,110.4 282.8,109.9 284.4,109.6 285.4,110.1 288.2,110.3 288.3,109.9 290.5,109.7 291.9,110.1 293.8,110.2 294.2,109.9 297.1,109.9 297.9,110.1 299.5,110.1 300.7,109.9 303.2,109.9 303.4,110.1 305.6,110.0 307.1,110.0 308.8,110.0 309.4,110.0 312.1,110.0 313.0,110.1 314.5,110.0 315.9,109.9 318.2,110.0 318.6,110.2 320.7,110.0 322.3,109.8 323.7,110.0 324.6,110.2 327.2,109.9 328.1,109.7 329.5,110.1 331.2,110.3 331.7,111.0 330.8,113.6 331.3,113.9 331.2,116.7 331.5,117.0 330.8,119.5 331.3,120.2 331.7,122.2 330.4,123.6 331.7,124.9 331.4,126.9 330.8,127.7 331.5,130.1 331.2,130.6 331.3,133.1 330.8,133.8 331.6,135.9 331.3,137.0 330.5,138.7 332.0,140.3 330.9,141.5 330.9,143.5 331.6,144.4 331.1,146.5 331.2,147.5 331.0,149.5 331.7,150.6 330.8,152.4 331.0,153.7 331.9,155.3 330.5,156.9 331.3,158.2 331.5,159.9 331.0,161.2 331.2,162.9 331.2,164.3 331.6,165.9 330.6,167.4 331.4,168.9 331.6,170.4 330.4,171.9 331.7,173.3 331.2,175.0 330.9,176.3 331.3,178.1 331.3,179.3 331.3,181.1 330.7,182.3 331.8,184.1 331.1,185.4 330.6,186.9 331.9,188.6 330.9,189.8 329.8,190.5 328.5,190.6 326.5,190.2 324.6,190.1 323.9,190.6 322.2,191.1 320.5,191.1 318.4,190.9 317.9,191.0 315.9,191.4 314.4,191.6 312.2,191.6 311.9,191.7 309.6,191.9 308.3,192.0 307.8,193.6 307.6,194.7 306.2,196.2 305.2,196.8 304.7,198.4 301.8,199.3 300.3,200.8 301.2,201.8 301.8,203.7 300.5,204.3 298.2,204.7 299.3,206.2 299.7,207.6 301.2,210.0 298.2,208.7 298.2,207.3 298.2,205.3 297.2,206.2 295.8,207.6 292.9,209.0 291.8,209.7 289.3,210.4 288.1,211.0 286.0,210.9 284.1,210.7 283.5,209.9 281.8,208.3 281.6,206.2 280.4,205.0 279.3,204.0 277.8,202.0 276.5,202.7 274.9,200.4 275.2,200.4 275.4,197.7 274.6,196.3 274.1,195.3 275.0,192.9 276.0,192.1 276.9,189.9 276.0,188.6 276.4,186.3 273.8,185.4 272.9,185.5 271.4,184.5 269.3,184.8 268.4,185.3 267.3,185.8 265.1,186.0 263.7,186.1 262.1,185.6 261.0,186.1 258.8,186.0 257.0,184.8 256.3,185.2 253.9,185.0 252.8,183.1 253.3,181.0 253.9,178.2 254.1,176.9 253.5,175.3 252.9,173.5 251.6,173.4 249.1,171.6 247.6,172.0 248.2,169.9 248.9,168.8 248.2,167.3 246.7,166.2 244.9,165.4 244.0,163.2 243.2,161.9 241.8,161.1 245.6,160.3 245.4,157.9 245.2,155.6 246.6,153.8 247.8,153.1 249.5,151.5 250.9,149.8 252.0,148.7 252.8,148.1 253.9,146.6 255.4,144.9 257.1,144.0 256.8,142.2 256.6,141.1 257.7,139.0 256.3,138.0 257.1,135.9 257.4,134.8 256.6,133.1 257.1,131.4 257.0,130.4 257.3,128.0 256.4,127.6 257.5,124.6 257.2,124.7 256.5,121.6 257.7,121.4 256.9,118.8 257.1,118.0 257.0,116.1 257.5,114.5 257.0,113.4 256.8,111.2"/>
<polygon fill="#BFD57F" points="240.6,187.3 242.7,186.7 243.7,186.4 246.5,186.3 247.4,186.1 249.2,185.7 250.0,185.4 252.0,185.1 253.9,185.0 256.3,185.2 257.0,184.8 258.8,186.0 261.0,186.1 262.1,185.6 263.7,186.1 265.1,186.0 267.3,185.8 268.4,185.3 269.3,184.8 271.4,184.5 272.9,185.5 273.8,185.4 276.4,186.3 276.0,188.6 276.9,189.9 276.0,192.1 275.0,192.9 274.1,195.3 274.6,196.3 275.4,197.7 275.2,200.4 274.9,200.4 272.8,201.7 271.8,202.0 269.7,202.6 268.2,202.4 266.7,202.1 264.2,202.7 262.9,203.5 260.1,203.5 258.9,203.4 256.6,203.9 255.3,204.7 253.6,204.9 252.3,204.9 250.4,204.9 248.6,205.1 246.5,205.5 245.6,204.4 244.8,203.4 242.5,202.3 242.8,200.1 242.3,200.0 242.3,197.5 241.0,195.9 240.8,194.8 239.1,192.9 240.6,192.8 240.5,189.8 241.2,189.2"/>
<polygon fill="#E0E68A" points="103.7,180.5 106.7,180.6 107.5,181.4 108.9,181.5 111.4,180.7 112.5,182.2 114.1,182.2 115.5,181.5 117.3,183.1 118.1,182.8 120.5,182.4 121.2,183.9 123.0,183.4 124.5,184.8 125.9,184.6 126.8,186.8 129.4,186.0 129.7,186.9 131.1,184.7 132.7,183.5 134.4,182.7 135.8,183.5 136.9,184.2 139.6,185.4 142.1,186.1 142.4,187.8 143.6,188.8 144.4,189.2 145.0,191.2 146.1,188.4 147.2,187.5 150.0,187.7 150.6,188.5 152.5,188.4 153.2,187.8 155.7,186.9 157.0,186.8 158.6,188.2 160.2,187.7 162.5,186.9 163.5,186.2 165.1,185.4 166.9,184.7 167.4,184.5 169.7,186.0 171.1,186.9 172.7,187.9 173.7,189.1 175.0,189.8 176.2,190.8 177.4,191.9 180.3,193.0 181.6,193.2 183.0,195.0 184.2,194.5 185.8,196.8 186.9,196.3 187.0,199.1 187.2,199.2 187.0,202.1 186.5,202.3 187.7,204.9 186.6,205.6 186.7,207.5 185.2,207.4 183.1,206.3 182.1,206.9 180.0,206.0 177.5,205.9 176.0,206.6 174.7,207.2 174.0,207.7 172.9,208.4 170.4,207.8 168.9,207.0 167.1,206.0 166.4,205.4 164.2,205.4 162.4,205.6 161.0,206.0 159.2,206.7 158.8,207.6 156.7,208.5 155.2,209.2 153.8,207.1 152.5,206.4 151.1,205.5 149.4,205.8 148.0,206.0 147.5,206.2 144.9,206.5 143.3,206.6 142.1,205.6 139.8,204.8 138.2,205.5 136.8,204.4 134.9,204.3 133.3,203.5 130.8,203.9 129.9,204.5 127.5,205.3 126.3,204.7 124.6,204.5 122.4,202.4 120.7,202.7 118.7,201.0 118.3,200.6 115.3,200.5 113.5,199.2 113.0,199.1 111.5,197.8 111.6,196.2 111.5,194.2 111.3,193.2 110.6,191.3 109.6,189.1 108.3,187.4 108.1,186.5 106.6,184.9 105.7,182.8 105.3,181.5"/>
<polygon fill="#E0E68A" points="145.0,191.2 145.9,189.7 145.0,188.6 144.6,186.1 143.8,185.0 143.9,184.4 144.1,181.5 145.4,181.1 145.8,180.6 147.3,180.0 149.0,179.4 150.1,178.6 151.8,177.8 153.9,176.9 155.0,174.4 155.7,175.2 157.6,176.8 158.9,176.8 160.1,178.6 161.5,177.0 162.7,175.4 163.7,174.3 164.7,173.6 166.3,172.7 168.8,172.3 169.4,171.9 171.3,171.9 173.3,173.0 175.4,173.3 177.6,175.3 178.2,173.7 179.6,173.0 180.6,171.2 180.8,169.0 180.8,168.5 181.5,166.4 181.7,163.9 182.8,162.6 186.8,162.4 187.9,162.8 190.0,162.3 193.1,162.4 194.2,165.3 193.1,166.3 193.7,168.9 193.4,170.6 194.4,171.7 194.6,174.0 194.3,175.7 195.6,177.1 195.4,179.0 196.0,180.4 195.5,181.0 197.9,181.1 199.5,181.5 200.9,181.5 202.2,181.0 203.2,180.0 205.8,179.1 205.6,181.8 205.7,182.8 206.0,184.1 205.3,186.6 206.1,187.7 205.3,189.7 204.8,191.4 203.8,191.9 201.5,192.4 200.6,193.0 198.3,193.6 197.0,194.3 195.7,195.3 193.4,197.3 192.1,196.5 189.4,197.6 189.1,197.5 186.9,196.3 185.8,196.8 184.2,194.5 183.0,195.0 181.6,193.2 180.3,193.0 177.4,191.9 176.2,190.8 175.0,189.8 173.7,189.1 172.7,187.9 171.1,186.9 169.7,186.0 167.4,184.5 166.9,184.7 165.1,185.4 163.5,186.2 162.5,186.9 160.2,187.7 158.6,188.2 157.0,186.8 155.7,186.9 153.2,187.8 152.5,188.4 150.6,188.5 150.0,187.7 147.2,187.5 146.1,188.4"/>
<polygon fill="#E0E68A" points="109.3,156.5 109.7,156.4 112.1,156.4 113.9,158.0 114.5,157.4 117.2,158.2 119.8,158.3 120.1,160.0 122.5,159.0 123.6,161.0 124.8,160.3 127.5,161.0 127.9,161.7 130.0,161.8 130.5,163.1 130.4,166.2 132.1,166.7 133.0,167.1 134.3,169.2 134.8,169.7 137.0,170.9 137.3,169.5 138.0,168.2 139.4,167.1 140.4,165.6 141.6,164.0 143.3,163.1 143.1,160.9 143.5,159.1 142.2,159.0 141.4,158.8 138.3,158.5 138.0,157.4 135.9,158.2 134.3,156.8 133.7,156.8 134.6,156.1 136.3,155.4 138.1,154.6 138.5,153.7 140.3,152.8 141.8,152.0 143.0,151.2 145.5,150.4 146.5,150.1 149.0,150.7 150.1,151.2 150.7,153.5 153.5,153.3 155.2,154.5 157.0,156.3 157.6,156.8 160.1,157.2 160.8,159.5 161.4,160.4 162.1,162.6 161.5,164.2 160.4,165.2 158.8,165.9 156.9,167.2 155.6,168.7 154.6,170.5 153.9,171.6 153.9,174.3 155.0,174.4 153.9,176.9 151.8,177.8 150.1,178.6 149.0,179.4 147.3,180.0 145.8,180.6 145.4,181.1 144.1,181.5 143.9,184.4 143.8,185.0 144.6,186.1 145.0,188.6 145.9,189.7 145.0,191.2 144.4,189.2 143.6,188.8 142.4,187.8 142.1,186.1 139.6,185.4 136.9,184.2 135.8,183.5 134.4,182.7 132.7,183.5 131.1,184.7 129.7,186.9 129.4,186.0 126.8,186.8 125.9,184.6 124.5,184.8 123.0,183.4 121.2,183.9 120.5,182.4 118.1,182.8 117.3,183.1 115.5,181.5 114.1,182.2 112.5,182.2 111.4,180.7 108.9,181.5 107.5,181.4 106.7,180.6 103.7,180.5 101.9,179.5 101.1,180.3 98.5,178.3 97.9,178.8 96.2,176.6 94.8,177.0 96.0,175.3 97.4,174.1 99.4,173.3 100.4,172.5 102.7,171.5 102.2,170.3 102.9,167.9 103.9,166.2 105.9,165.4 107.8,164.7 108.8,163.5 110.8,162.4 109.7,160.8 109.4,159.1 109.2,157.3"/>
<polygon fill="#BFD57F" points="109.3,156.5 107.9,154.1 109.2,152.9 108.7,151.2 108.4,149.6 109.0,147.9 108.7,146.7 108.7,144.3 108.5,143.9 109.3,140.9 108.0,140.7 111.0,139.9 111.8,139.2 113.4,140.0 114.7,140.8 117.2,140.0 116.1,141.6 117.0,143.0 117.1,144.7 116.0,146.3 117.2,147.5 116.6,149.7 118.4,151.7 119.8,152.0 121.5,151.3 124.2,151.9 125.8,152.0 127.2,151.6 129.4,153.4 129.3,153.7 131.5,154.5 133.7,156.8 134.3,156.8 135.9,158.2 138.0,157.4 138.3,158.5 141.4,158.8 142.2,159.0 143.5,159.1 143.1,160.9 143.3,163.1 141.6,164.0 140.4,165.6 139.4,167.1 138.0,168.2 137.3,169.5 137.0,170.9 134.8,169.7 134.3,169.2 133.0,167.1 132.1,166.7 130.4,166.2 130.5,163.1 130.0,161.8 127.9,161.7 127.5,161.0 124.8,160.3 123.6,161.0 122.5,159.0 120.1,160.0 119.8,158.3 117.2,158.2 114.5,157.4 113.9,158.0 112.1,156.4 109.7,156.4"/>
<polygon fill="#BFD57F" points="116.6,149.7 117.2,147.6 116.0,146.4 116.9,144.8 117.1,143.1 116.0,142.0 117.1,139.9 116.7,139.0 116.6,136.9 116.6,136.0 116.8,134.0 116.9,132.8 116.0,131.1 117.3,129.7 116.6,128.2 116.2,126.6 117.3,125.2 116.4,123.5 116.6,122.1 116.7,120.6 116.9,119.1 116.6,117.6 116.3,116.0 117.4,114.5 116.1,113.0 116.6,111.5 117.3,110.1 118.1,109.5 119.7,110.0 120.8,110.5 123.5,110.0 123.6,109.5 125.9,110.1 127.2,110.5 129.0,109.8 129.5,109.5 132.4,110.2 132.9,110.4 134.7,109.7 136.0,109.6 138.4,110.3 138.4,110.3 139.6,111.4 139.4,113.1 138.7,114.7 139.6,116.1 139.1,117.8 139.2,119.3 138.9,120.8 139.6,122.6 139.0,123.7 138.8,125.7 140.0,126.9 138.6,128.6 139.3,130.3 139.5,131.4 139.0,133.8 139.2,134.1 140.3,135.8 143.3,135.8 143.9,136.4 145.4,137.0 148.5,138.5 150.0,137.7 149.5,140.3 151.4,142.8 152.1,144.2 153.5,144.2 155.2,146.4 156.7,148.3 155.4,149.4 156.0,151.1 156.0,153.4 157.0,156.3 155.2,154.5 153.5,153.3 150.7,153.5 150.1,151.2 149.0,150.7 146.5,150.1 145.5,150.4 143.0,151.2 141.8,152.0 140.3,152.8 138.5,153.7 138.1,154.6 136.3,155.4 134.6,156.1 133.7,156.8 131.5,154.5 129.3,153.7 129.4,153.4 127.2,151.6 125.8,152.0 124.2,151.9 121.5,151.3 119.8,152.0 118.4,151.7"/>
<polygon fill="#E0E68A" points="171.1,110.4 171.1,111.1 171.1,113.8 171.7,114.5 170.5,116.7 171.7,118.1 171.2,119.6 170.8,121.5 171.7,123.0 171.0,124.3 171.4,126.6 171.8,127.0 171.2,129.5 172.0,130.5 172.2,132.0 171.5,133.8 172.9,135.2 173.2,136.5 172.8,137.5 173.5,140.2 173.6,140.9 174.6,142.1 173.8,144.9 174.4,145.0 173.8,145.3 171.6,144.5 171.4,143.9 168.5,143.4 167.8,144.7 165.7,145.2 163.7,145.8 162.8,146.4 160.9,146.0 159.1,146.7 157.6,145.6 156.7,148.3 155.2,146.4 153.5,144.2 152.1,144.2 151.4,142.8 149.5,140.3 150.0,137.7 148.5,138.5 145.4,137.0 143.9,136.4 143.3,135.8 140.3,135.8 139.2,134.1 139.0,133.8 139.5,131.4 139.3,130.3 138.6,128.6 140.0,126.9 138.8,125.7 139.0,123.7 139.6,122.6 138.9,120.8 139.2,119.3 139.1,117.8 139.6,116.1 138.7,114.7 139.4,113.1 139.6,111.4 138.4,110.3 141.1,109.7 142.2,109.8 144.0,110.3 144.6,110.2 147.5,109.8 148.1,109.9 149.8,110.2 151.2,110.0 153.6,109.9 153.8,110.0 156.1,110.0 157.6,110.0 159.2,110.1 159.9,110.0 162.6,109.8 163.5,110.0 164.9,110.3 166.5,110.0 168.7,109.6 169.3,110.1"/>
<polygon fill="#E0E68A" points="171.0,124.3 171.7,123.0 170.8,121.5 171.2,119.6 171.7,118.1 170.5,116.7 171.7,114.5 171.1,113.8 171.1,111.1 171.1,110.4 173.1,109.8 174.4,109.4 175.5,110.2 177.4,110.7 179.6,109.8 180.2,109.2 182.1,110.3 183.7,110.7 185.8,109.7 186.1,109.3 188.7,110.2 190.0,110.6 191.9,109.8 192.3,109.6 195.2,110.1 196.2,110.2 197.8,110.0 198.9,110.0 201.6,110.0 202.3,109.8 203.8,110.1 205.6,110.4 206.1,111.0 205.1,113.7 205.8,114.1 205.6,116.7 205.8,117.4 205.2,119.5 205.9,120.7 205.8,122.4 204.9,124.0 206.3,125.5 205.2,126.9 205.3,128.8 204.8,129.8 205.8,132.0 204.6,132.8 204.7,135.3 204.3,136.6 204.7,138.4 203.5,140.3 204.1,141.5 204.0,143.7 203.8,144.7 202.7,145.1 200.3,145.7 201.8,147.3 201.5,148.9 202.4,151.0 200.5,149.9 198.2,150.2 195.6,148.7 193.9,147.6 192.8,147.0 191.5,144.4 192.6,144.2 192.0,142.0 191.0,140.1 190.4,140.1 189.1,138.4 186.9,137.5 186.6,136.2 184.9,136.9 183.6,138.5 182.8,140.2 182.6,141.5 181.4,143.2 181.3,144.0 179.0,145.4 177.7,146.6 176.0,146.5 174.4,145.0 173.8,144.9 174.6,142.1 173.6,140.9 173.5,140.2 172.8,137.5 173.2,136.5 172.9,135.2 171.5,133.8 172.2,132.0 172.0,130.5 171.2,129.5 171.8,127.0 171.4,126.6"/>
<polygon fill="#BFD57F" points="156.7,148.3 157.6,145.6 159.1,146.7 160.9,146.0 162.8,146.4 163.7,145.8 165.7,145.2 167.8,144.7 168.5,143.4 171.4,143.9 171.6,144.5 173.8,145.3 174.4,145.0 175.2,147.5 174.9,150.1 173.2,150.7 171.8,152.3 173.2,154.8 175.8,155.9 176.7,156.9 177.8,160.2 181.0,161.3 181.6,161.8 182.8,162.6 181.7,163.9 181.5,166.4 180.8,168.5 180.8,169.0 180.6,171.2 179.6,173.0 178.2,173.7 177.6,175.3 175.4,173.3 173.3,173.0 171.3,171.9 169.4,171.9 168.8,172.3 166.3,172.7 164.7,173.6 163.7,174.3 162.7,175.4 161.5,177.0 160.1,178.6 158.9,176.8 157.6,176.8 155.7,175.2 155.0,174.4 153.9,174.3 153.9,171.6 154.6,170.5 155.6,168.7 156.9,167.2 158.8,165.9 160.4,165.2 161.5,164.2 162.1,162.6 161.4,160.4 160.8,159.5 160.1,157.2 157.6,156.8 157.0,156.3 156.0,153.4 156.0,151.1 155.4,149.4"/>
<polygon fill="#E0E68A" points="174.4,145.0 176.0,146.5 177.7,146.6 179.0,145.4 181.3,144.0 181.4,143.2 182.6,141.5 182.8,140.2 183.6,138.5 184.9,136.9 186.6,136.2 186.9,137.5 189.1,138.4 190.4,140.1 191.0,140.1 192.0,142.0 192.6,144.2 191.5,144.4 192.8,147.0 193.9,147.6 195.6,148.7 198.2,150.2 200.5,149.9 202.4,151.0 203.3,152.1 204.9,152.5 205.6,154.0 206.1,155.2 207.7,156.7 207.8,159.1 207.6,159.8 208.2,162.2 206.9,162.9 208.4,164.4 208.9,166.4 209.1,168.5 207.0,169.0 206.2,169.5 203.4,169.6 201.6,167.4 200.1,167.5 198.3,167.7 196.4,167.8 194.9,168.3 193.7,168.9 193.1,166.3 194.2,165.3 193.1,162.4 190.0,162.3 187.9,162.8 186.8,162.4 182.8,162.6 181.6,161.8 181.0,161.3 177.8,160.2 176.7,156.9 175.8,155.9 173.2,154.8 171.8,152.3 173.2,150.7 174.9,150.1 175.2,147.5"/>
</g>
<polygon fill="#fff" stroke="#6a6a6a" stroke-width="0.6" points="258.5,229.1 259.5,230.3 260.3,232.2 258.8,234.1 260.4,235.2 260.7,237.4 261.7,239.2 263.5,241.1 265.8,240.7 268.0,240.6 269.7,241.1 271.0,243.2 272.3,242.0 274.9,240.5 277.4,240.7 279.6,239.0 280.4,237.9 281.5,235.3 284.1,236.5 285.7,238.7 285.6,240.7 285.7,242.3 285.5,244.3 283.5,246.2 282.5,248.4 281.5,249.7 281.1,252.3 281.1,253.3 281.5,255.5 281.1,256.6 279.8,258.0 278.4,258.8 276.1,259.0 275.4,260.4 274.5,261.3 273.3,262.4 271.6,264.0 270.0,265.6 269.0,266.0 266.4,266.3 265.4,266.7 263.2,267.0 264.1,269.0 263.3,270.6 261.9,272.3 262.8,274.8 262.3,275.1 262.6,278.0 261.1,278.0 261.9,281.0 261.5,281.1 259.6,281.6 259.1,282.3 257.8,283.2 255.3,284.1 254.3,285.0 253.1,286.3 251.1,287.6 249.2,288.7 248.4,289.7 247.5,290.5 246.0,291.3 244.6,292.2 243.8,293.2 241.9,293.5 239.7,293.7 239.0,294.1 236.7,294.9 235.9,295.5 233.6,296.1 232.6,296.5 231.6,297.7 230.0,298.4 228.1,299.4 228.4,302.5 228.1,304.5 226.3,305.8 224.4,303.6 225.7,302.8 224.9,300.8 224.0,298.8 224.5,297.2 224.6,296.1 224.6,294.3 226.7,293.6 228.7,293.1 229.2,292.8 230.6,292.6 230.8,290.2 231.5,288.3 231.8,287.2 232.5,285.2 232.1,283.4 232.4,281.2 233.9,280.6 234.8,278.4 235.3,277.5 236.7,276.6 238.5,275.8 239.4,275.0 241.7,274.1 243.3,274.1 244.3,274.7 245.4,272.7 246.6,271.7 247.8,270.1 249.0,267.6 250.3,266.5 251.8,266.0 252.5,264.4 251.9,263.2 251.0,260.8 252.1,259.9 253.3,257.7 254.5,256.5 255.4,254.7 255.7,253.7 256.8,251.7 257.8,249.5 259.0,249.1 260.0,246.8 259.7,245.3 261.2,244.2 262.0,243.0 261.2,241.9 260.7,239.9 259.1,238.0 259.1,237.4 258.0,236.2 258.2,234.1 257.5,232.5 258.4,230.6"/>
<polygon fill="none" stroke="#222" stroke-opacity="0.75" stroke-width="0.8" stroke-linejoin="round" points="25.0,235.1 26.6,233.8 27.7,232.0 29.7,231.4 31.4,230.5 33.3,229.7 34.4,227.7 36.1,226.4 37.7,225.0 37.2,222.0 39.4,221.1 41.0,220.2 43.2,220.4 44.3,218.6 45.9,217.5 47.7,216.7 47.6,214.0 49.6,213.3 51.0,212.0 52.0,210.1 53.9,209.2 55.4,207.8 56.7,206.2 56.8,203.9 58.3,202.5 60.0,201.2 61.0,199.2 63.6,198.6 64.2,196.3 66.1,196.1 67.1,193.9 69.1,193.8 71.0,192.1 71.6,189.7 72.1,187.1 74.1,185.5 75.7,183.1 77.6,181.9 78.4,179.6 80.7,178.9 81.4,176.1 84.0,174.8 85.7,173.1 87.8,173.1 89.0,171.5 90.6,169.0 92.7,168.9 94.7,169.5 96.4,170.7 97.2,167.4 96.4,164.9 93.9,164.0 96.0,164.0 97.0,161.9 98.9,161.6 101.4,161.8 103.0,159.9 105.0,158.7 107.1,157.7 108.7,156.0 109.9,154.0 112.8,154.0 113.7,151.7 115.5,150.9 116.7,149.3 119.5,149.1 121.1,146.9 123.0,146.2 123.1,143.8 124.4,142.5 125.3,140.8 127.1,140.0 129.3,138.2 132.1,138.0 133.6,136.0 135.8,135.6 138.0,135.0 140.1,134.8 142.0,134.0 143.4,131.8 146.3,132.1 148.1,130.6 149.6,129.2 151.3,128.0 153.3,127.3 155.3,127.4 156.6,125.9 158.2,124.8 160.0,124.6 161.8,124.1 163.7,124.2 165.3,123.3 167.5,122.7 169.0,125.3 171.2,124.6 172.7,122.9 175.0,124.2 177.0,123.9 178.2,121.4 180.4,122.0 182.5,123.1 184.9,122.5 187.0,123.3 189.3,122.8 191.0,120.8 193.6,121.3 195.8,121.1 197.3,122.2 198.1,124.8 200.3,124.6 203.1,124.3 205.6,125.5 207.6,126.4 209.7,127.0 211.8,127.3 214.0,126.0 216.1,126.6 218.4,126.7 220.5,127.5 222.7,127.9 224.8,129.0 227.3,127.8 229.3,129.2 230.9,130.8 233.1,131.3 233.9,133.3 235.1,135.0 237.1,135.9 239.6,134.4 242.4,135.3 243.7,137.0 246.2,135.7 247.6,137.3 249.5,137.8 251.0,139.3 252.9,139.9 253.5,142.0 255.8,142.3 256.9,143.9 259.5,145.9 260.7,147.9 263.0,148.2 264.8,149.2 267.1,150.5 268.8,152.5 270.6,153.5 272.3,154.6 273.2,156.5 275.3,157.9 275.7,160.5 277.7,161.2 278.0,163.5 279.7,164.5 280.1,166.8 283.0,166.9 283.7,169.0 286.0,168.5 287.4,171.3 289.7,170.7 291.5,170.9 293.4,170.7 295.2,171.1 297.2,170.8 298.9,171.9 300.8,172.0 302.7,172.7 304.5,171.6 306.4,171.6 308.8,171.6 311.1,172.0 313.1,171.1 314.8,172.5 316.6,175.3 317.1,178.1 313.9,179.0 310.1,182.3 308.3,185.5 308.3,191.1 307.3,194.8 303.6,197.6 301.3,200.4 302.7,203.2 304.5,204.1 306.4,200.4 310.1,199.0 313.9,200.4 316.6,203.2 314.8,206.9 312.0,211.0 306.3,225.8 300.4,235.7 294.4,247.6 286.2,258.5 279.2,267.8 269.9,276.0 261.9,282.2 251.2,291.5 245.6,295.5 239.2,299.0 234.2,302.3 230.4,304.9 223.8,313.1 217.2,326.4 212.2,337.9 204.0,347.9 194.1,356.1 182.5,362.7 178.7,367.2 176.7,361.0 176.7,357.8 177.4,356.1 178.1,354.3 179.2,352.8 179.5,351.2 179.2,349.5 179.8,347.9 180.0,346.2 181.2,344.5 182.5,342.9 183.8,341.7 185.4,341.3 186.6,340.1 188.3,339.6 188.9,338.1 189.3,336.4 189.9,335.0 190.9,333.6 191.6,332.1 193.3,331.8 194.8,330.7 196.5,330.5 198.1,331.3 199.3,332.6 200.6,333.9 202.3,334.6 204.0,333.6 205.6,332.3 207.3,331.3 208.4,329.8 208.2,327.9 209.6,326.5 209.8,324.7 210.6,323.1 209.9,321.5 209.6,319.8 209.4,318.2 209.5,316.4 208.9,314.8 207.9,313.0 207.5,310.9 206.7,309.0 206.3,308.7 204.9,309.6 203.8,310.8 202.4,311.7 203.0,313.7 204.1,315.6 204.4,317.7 203.1,319.0 201.5,319.9 199.8,320.5 198.4,321.6 196.8,322.3 195.3,323.0 193.6,323.3 192.1,324.0 190.5,324.6 188.9,324.6 187.3,323.9 185.7,323.8 184.1,324.0 182.5,323.6 181.2,322.6 179.9,321.6 178.8,320.4 177.4,319.5 175.8,318.8 174.6,317.7 174.2,316.0 172.8,314.9 172.3,313.2 171.6,311.7 171.2,309.8 170.1,308.2 169.8,306.4 168.8,304.7 168.6,302.8 167.2,301.9 165.8,301.1 164.2,300.5 162.7,299.8 160.8,299.1 158.7,299.3 156.8,298.8 155.4,297.4 153.9,296.3 152.3,295.1 150.8,293.9 149.4,293.0 148.2,291.8 146.8,290.8 145.2,290.2 143.9,288.9 142.7,287.5 141.0,286.6 140.0,285.0 138.5,284.0 136.9,283.3 135.4,282.2 133.7,281.5 132.0,281.0 130.3,280.9 128.7,280.5 127.1,279.9 125.4,279.7 123.4,279.0 121.8,277.5 120.1,276.4 118.3,275.8 116.6,275.1 115.0,274.3 113.5,273.1 112.7,271.6 111.2,270.7 110.3,269.3 109.5,267.8 108.1,266.8 107.1,265.4 105.3,264.9 104.2,263.6 102.9,262.5 101.0,261.1 99.0,259.8 97.7,260.9 96.8,262.3 95.7,263.6 95.0,265.1 93.3,266.2 91.5,267.0 89.7,267.8 87.4,267.6 85.1,267.1 85.3,265.4 85.2,263.6 84.4,262.0 84.2,260.2 84.4,258.5 83.2,257.3 82.1,256.0 81.2,254.5 80.2,253.2 79.1,251.9 78.0,250.7 76.8,249.5 76.1,247.9 75.2,246.5 73.6,245.6 72.3,244.5 71.0,243.2 69.4,242.5 67.8,241.6 66.3,240.6 64.8,239.7 63.4,238.3 61.6,237.5 60.6,235.7 58.9,234.7 57.5,233.7 56.1,232.9 54.5,232.2 52.9,231.7 50.9,232.0 49.0,232.3 47.0,232.8 45.0,232.7 43.6,234.3 42.7,236.3 41.1,237.7 39.5,238.3 37.9,238.4 36.3,238.6 34.7,238.6 33.1,238.7 31.0,238.6 29.2,237.7"/>
<clipPath id="clip2"><polygon points="329.6,235.1 331.2,233.8 332.3,232.0 334.3,231.4 336.0,230.5 337.9,229.7 339.0,227.7 340.7,226.4 342.3,225.0 341.8,222.0 344.0,221.1 345.6,220.2 347.8,220.4 348.9,218.6 350.5,217.5 352.3,216.7 352.2,214.0 354.2,213.3 355.6,212.0 356.6,210.1 358.5,209.2 360.0,207.8 361.3,206.2 361.4,203.9 362.9,202.5 364.6,201.2 365.6,199.2 368.2,198.6 368.8,196.3 370.7,196.1 371.7,193.9 373.7,193.8 375.6,192.1 376.2,189.7 376.7,187.1 378.7,185.5 380.3,183.1 382.2,181.9 383.0,179.6 385.3,178.9 386.0,176.1 388.6,174.8 390.3,173.1 392.4,173.1 393.6,171.5 395.2,169.0 397.3,168.9 399.3,169.5 401.0,170.7 401.8,167.4 401.0,164.9 398.5,164.0 400.6,164.0 401.6,161.9 403.5,161.6 406.0,161.8 407.6,159.9 409.6,158.7 411.7,157.7 413.3,156.0 414.5,154.0 417.4,154.0 418.3,151.7 420.1,150.9 421.3,149.3 424.1,149.1 425.7,146.9 427.6,146.2 427.7,143.8 429.0,142.5 429.9,140.8 431.7,140.0 433.9,138.2 436.7,138.0 438.2,136.0 440.4,135.6 442.6,135.0 444.7,134.8 446.6,134.0 448.0,131.8 450.9,132.1 452.7,130.6 454.2,129.2 455.9,128.0 457.9,127.3 459.9,127.4 461.2,125.9 462.8,124.8 464.6,124.6 466.4,124.1 468.3,124.2 469.9,123.3 472.1,122.7 473.6,125.3 475.8,124.6 477.3,122.9 479.6,124.2 481.6,123.9 482.8,121.4 485.0,122.0 487.1,123.1 489.5,122.5 491.6,123.3 493.9,122.8 495.6,120.8 498.2,121.3 500.4,121.1 501.9,122.2 502.7,124.8 504.9,124.6 507.7,124.3 510.2,125.5 512.2,126.4 514.3,127.0 516.4,127.3 518.6,126.0 520.7,126.6 523.0,126.7 525.1,127.5 527.3,127.9 529.4,129.0 531.9,127.8 533.9,129.2 535.5,130.8 537.7,131.3 538.5,133.3 539.7,135.0 541.7,135.9 544.2,134.4 547.0,135.3 548.3,137.0 550.8,135.7 552.2,137.3 554.1,137.8 555.6,139.3 557.5,139.9 558.1,142.0 560.4,142.3 561.5,143.9 564.1,145.9 565.3,147.9 567.6,148.2 569.4,149.2 571.7,150.5 573.4,152.5 575.2,153.5 576.9,154.6 577.8,156.5 579.9,157.9 580.3,160.5 582.3,161.2 582.6,163.5 584.3,164.5 584.7,166.8 587.6,166.9 588.3,169.0 590.6,168.5 592.0,171.3 594.3,170.7 596.1,170.9 598.0,170.7 599.8,171.1 601.8,170.8 603.5,171.9 605.4,172.0 607.3,172.7 609.1,171.6 611.0,171.6 613.4,171.6 615.7,172.0 617.7,171.1 619.4,172.5 621.2,175.3 621.7,178.1 618.5,179.0 614.7,182.3 612.9,185.5 612.9,191.1 611.9,194.8 608.2,197.6 605.9,200.4 607.3,203.2 609.1,204.1 611.0,200.4 614.7,199.0 618.5,200.4 621.2,203.2 619.4,206.9 616.6,211.0 610.9,225.8 605.0,235.7 599.0,247.6 590.8,258.5 583.8,267.8 574.5,276.0 566.5,282.2 555.8,291.5 550.2,295.5 543.8,299.0 538.8,302.3 535.0,304.9 528.4,313.1 521.8,326.4 516.8,337.9 508.6,347.9 498.7,356.1 487.1,362.7 483.3,367.2 481.3,361.0 481.3,357.8 482.0,356.1 482.7,354.3 483.8,352.8 484.1,351.2 483.8,349.5 484.4,347.9 484.6,346.2 485.8,344.5 487.1,342.9 488.4,341.7 490.0,341.3 491.2,340.1 492.9,339.6 493.5,338.1 493.9,336.4 494.5,335.0 495.5,333.6 496.2,332.1 497.9,331.8 499.4,330.7 501.1,330.5 502.7,331.3 503.9,332.6 505.2,333.9 506.9,334.6 508.6,333.6 510.2,332.3 511.9,331.3 513.0,329.8 512.8,327.9 514.2,326.5 514.4,324.7 515.2,323.1 514.5,321.5 514.2,319.8 514.0,318.2 514.1,316.4 513.5,314.8 512.5,313.0 512.1,310.9 511.3,309.0 510.9,308.7 509.5,309.6 508.4,310.8 507.0,311.7 507.6,313.7 508.7,315.6 509.0,317.7 507.7,319.0 506.1,319.9 504.4,320.5 503.0,321.6 501.4,322.3 499.9,323.0 498.2,323.3 496.7,324.0 495.1,324.6 493.5,324.6 491.9,323.9 490.3,323.8 488.7,324.0 487.1,323.6 485.8,322.6 484.5,321.6 483.4,320.4 482.0,319.5 480.4,318.8 479.2,317.7 478.8,316.0 477.4,314.9 476.9,313.2 476.2,311.7 475.8,309.8 474.7,308.2 474.4,306.4 473.4,304.7 473.2,302.8 471.8,301.9 470.4,301.1 468.8,300.5 467.3,299.8 465.4,299.1 463.3,299.3 461.4,298.8 460.0,297.4 458.5,296.3 456.9,295.1 455.4,293.9 454.0,293.0 452.8,291.8 451.4,290.8 449.8,290.2 448.5,288.9 447.3,287.5 445.6,286.6 444.6,285.0 443.1,284.0 441.5,283.3 440.0,282.2 438.3,281.5 436.6,281.0 434.9,280.9 433.3,280.5 431.7,279.9 430.0,279.7 428.0,279.0 426.4,277.5 424.7,276.4 422.9,275.8 421.2,275.1 419.6,274.3 418.1,273.1 417.3,271.6 415.8,270.7 414.9,269.3 414.1,267.8 412.7,266.8 411.7,265.4 409.9,264.9 408.8,263.6 407.5,262.5 405.6,261.1 403.6,259.8 402.3,260.9 401.4,262.3 400.3,263.6 399.6,265.1 397.9,266.2 396.1,267.0 394.3,267.8 392.0,267.6 389.7,267.1 389.9,265.4 389.8,263.6 389.0,262.0 388.8,260.2 389.0,258.5 387.8,257.3 386.7,256.0 385.8,254.5 384.8,253.2 383.7,251.9 382.6,250.7 381.4,249.5 380.7,247.9 379.8,246.5 378.2,245.6 376.9,244.5 375.6,243.2 374.0,242.5 372.4,241.6 370.9,240.6 369.4,239.7 368.0,238.3 366.2,237.5 365.2,235.7 363.5,234.7 362.1,233.7 360.7,232.9 359.1,232.2 357.5,231.7 355.5,232.0 353.6,232.3 351.6,232.8 349.6,232.7 348.2,234.3 347.3,236.3 345.7,237.7 344.1,238.3 342.5,238.4 340.9,238.6 339.3,238.6 337.7,238.7 335.6,238.6 333.8,237.7"/></clipPath>
<g clip-path="url(#clip2)" stroke="#1a1a00" stroke-opacity="0.52" stroke-width="0.8" stroke-linejoin="round">
<polygon fill="#BFD57F" points="295.9,249.5 295.8,249.1 295.6,246.2 295.9,246.2 296.2,243.2 295.1,243.0 296.3,240.4 295.9,239.6 295.2,237.8 296.3,236.1 295.7,235.1 295.8,232.8 295.7,232.3 296.1,229.7 295.7,229.2 295.3,226.8 296.6,226.0 295.3,224.0 295.7,222.7 296.3,221.1 295.4,219.4 295.9,218.2 295.8,216.3 296.1,215.2 295.4,213.3 295.9,212.0 296.3,210.4 295.0,208.9 296.3,207.4 295.9,205.9 295.4,204.3 296.0,202.9 295.8,201.1 295.9,200.0 295.4,198.0 296.3,197.0 295.7,194.9 295.2,193.9 296.6,192.0 295.4,190.7 295.7,189.3 296.1,187.3 295.7,186.5 295.8,184.0 295.6,183.7 296.4,180.9 295.2,180.6 297.9,179.7 298.9,178.9 299.8,178.3 301.5,178.0 302.5,177.6 304.9,177.1 306.3,176.3 306.7,175.5 308.7,175.0 310.0,174.8 311.8,174.8 313.6,174.8 313.8,174.4 315.7,173.7 317.5,172.8 318.8,172.0 320.7,171.5 321.1,171.2 322.6,170.8 325.0,170.2 325.9,169.4 327.6,168.6 328.5,168.2 329.6,168.1 332.2,168.1 333.2,168.0 334.4,167.5 335.8,166.7 336.8,165.9 339.3,165.2 340.6,164.7 341.3,164.4 343.1,164.0 344.1,163.3 346.3,162.5 347.9,161.8 348.2,161.4 350.2,161.3 351.6,161.4 353.3,161.2 355.2,160.6 355.4,159.8 357.1,159.0 359.1,158.3 360.3,158.0 362.2,157.6 362.7,157.1 364.1,156.4 366.5,155.6 367.5,154.9 369.1,154.6 370.1,154.6 371.1,154.6 373.8,154.4 374.8,153.7 375.9,152.9 377.4,152.1 378.3,151.5 380.8,151.2 382.2,150.9 382.8,150.3 384.6,149.5 385.7,148.7 387.8,148.1 389.6,147.9 389.8,147.9 391.7,147.9 393.2,147.5 394.7,146.8 396.7,146.0 397.0,145.2 398.6,144.8 400.7,144.4 401.8,144.0 403.7,143.4 404.4,142.6 405.5,141.8 408.1,141.3 409.1,141.2 410.6,141.2 411.8,141.1 412.6,140.7 413.9,140.9 413.1,143.9 413.3,144.3 413.3,146.7 413.6,147.9 413.0,149.6 413.3,151.2 413.8,152.9 412.5,154.1 413.9,156.5 413.8,157.3 414.0,159.1 414.3,160.8 415.4,162.4 413.4,163.5 412.4,164.7 410.5,165.4 408.5,166.2 407.5,167.9 406.8,170.3 407.3,171.5 405.0,172.5 404.0,173.3 402.0,174.1 400.6,175.3 399.4,177.0 400.8,176.6 402.5,178.8 403.1,178.3 405.7,180.3 406.5,179.5 408.3,180.5 409.9,181.5 410.3,182.8 411.2,184.9 412.7,186.5 412.9,187.4 414.2,189.1 415.2,191.3 415.9,193.2 416.1,194.2 416.2,196.2 416.1,197.8 417.6,199.1 418.1,199.2 419.9,200.5 422.9,200.6 423.3,201.0 425.3,202.7 427.0,202.4 429.2,204.5 430.9,204.7 432.1,205.3 432.9,207.2 432.6,208.0 432.2,210.7 431.7,210.9 432.5,214.0 430.5,214.7 429.0,215.0 428.4,215.5 427.9,216.6 425.4,217.0 424.5,217.4 422.7,215.8 421.8,218.4 422.7,219.2 421.8,221.0 421.5,222.4 420.9,224.2 419.5,224.9 418.5,225.6 418.3,228.0 417.3,228.7 415.0,229.4 413.9,230.1 411.9,230.8 409.8,231.4 408.9,232.0 407.1,231.9 406.5,231.8 404.5,232.2 402.5,233.0 402.5,234.9 402.3,235.9 402.5,238.0 401.9,239.4 401.0,240.9 400.4,241.1 398.3,241.4 397.3,241.9 395.1,242.7 393.5,243.5 391.4,244.3 389.7,244.7 389.2,244.6 387.2,244.2 386.2,244.3 383.6,244.9 382.7,245.9 381.7,246.7 379.9,247.1 378.8,247.3 379.9,250.3 379.0,250.7 378.9,253.0 377.8,254.4 378.4,255.6 378.3,257.8 377.6,258.8 377.2,260.6 376.8,262.3 377.6,263.6 376.4,265.3 376.4,267.1 375.5,267.9 376.4,270.7 374.1,269.6 372.7,269.3 371.1,270.4 370.3,270.6 367.7,269.5 366.9,269.4 365.4,270.6 363.8,270.5 361.7,269.4 361.3,269.6 359.0,270.7 357.5,270.3 356.2,269.3 355.1,269.8 352.6,270.7 351.8,270.1 350.4,269.3 348.5,270.0 346.8,270.7 346.1,270.0 344.0,269.3 342.3,270.1 341.3,270.7 339.8,269.8 337.6,269.4 336.7,270.3 335.4,270.6 333.3,269.7 331.9,269.5 330.9,270.4 328.9,270.4 327.2,269.6 326.3,269.6 324.6,270.4 322.6,270.3 321.5,269.6 320.3,269.8 318.0,270.4 317.0,270.1 315.7,269.6 313.8,269.9 312.0,270.4 311.4,270.0 309.3,269.7 307.6,270.0 306.4,270.3 305.3,270.0 302.8,269.8 302.1,270.1 300.5,270.2 298.8,269.9 296.9,269.9 296.4,270.1 295.7,268.5 295.5,266.7 296.0,265.8 295.8,263.3 295.8,262.9 295.4,260.1 296.4,259.9 295.4,257.1 295.6,256.6 296.5,254.4 295.2,253.0 296.0,251.8"/>
<polygon fill="#E0E68A" points="379.9,247.1 381.7,246.7 382.7,245.9 383.6,244.9 386.2,244.3 387.2,244.2 389.2,244.6 389.7,244.7 391.4,244.3 393.5,243.5 395.1,242.7 397.3,241.9 398.3,241.4 400.4,241.1 401.0,240.9 401.9,239.4 402.5,238.0 402.3,235.9 402.5,234.9 402.5,233.0 404.5,232.2 406.5,231.8 407.1,231.9 408.9,232.0 409.8,231.4 411.9,230.8 413.9,230.1 415.0,229.4 417.3,228.7 418.3,228.0 419.9,228.0 422.2,230.1 422.7,230.1 424.7,231.4 426.8,233.5 427.7,232.8 430.0,232.1 430.9,231.5 432.8,231.1 433.9,230.6 435.1,230.1 437.6,229.5 438.7,228.9 441.0,228.3 442.2,227.7 443.2,227.0 445.2,226.3 446.0,225.6 447.9,224.9 449.7,224.2 451.4,224.1 453.3,224.2 453.6,224.1 456.0,223.8 458.5,225.0 459.4,225.6 461.1,226.2 463.6,226.6 464.2,227.7 466.3,227.2 465.2,229.6 466.0,230.7 465.3,232.0 465.2,234.1 464.4,235.1 463.4,236.6 464.0,238.7 464.6,239.0 466.0,240.1 467.0,241.1 469.0,242.7 468.9,242.3 470.6,244.4 472.3,245.1 470.3,245.8 469.0,246.4 467.8,247.0 466.2,247.7 464.8,249.2 464.0,250.2 463.1,251.0 461.7,252.2 460.0,253.9 458.5,253.6 456.4,254.1 455.1,255.0 454.4,255.6 452.1,253.4 450.6,254.1 448.7,251.8 448.2,252.1 445.3,250.5 444.3,250.9 443.1,250.8 441.0,250.8 439.3,250.8 437.8,250.2 436.8,250.5 434.9,250.9 433.2,251.7 431.4,252.5 429.3,253.2 428.1,253.8 425.6,254.5 425.0,256.1 425.8,258.5 425.1,259.8 423.9,261.5 422.6,262.5 421.4,264.9 421.6,266.3 423.3,267.7 422.9,269.5 423.7,270.8 423.5,272.7 424.9,275.0 426.1,276.8 425.1,278.9 425.3,279.5 425.1,282.3 425.7,282.4 424.8,285.5 425.0,285.4 425.8,288.5 424.5,288.6 425.2,291.3 425.0,292.0 425.2,294.1 424.4,295.4 425.1,296.8 425.2,298.7 424.1,299.8 423.5,299.6 421.8,300.3 420.5,300.3 418.0,299.7 417.9,299.8 415.5,300.2 414.2,300.2 412.5,299.8 411.8,299.9 409.0,300.2 408.4,300.1 406.7,299.9 405.3,300.0 403.0,300.1 402.8,300.0 400.4,300.0 399.0,300.0 397.5,300.0 396.6,300.0 393.9,300.1 393.2,300.0 391.7,299.9 390.0,300.0 388.0,300.2 387.5,299.9 385.3,299.8 383.7,300.1 382.5,300.2 381.3,299.8 378.9,299.7 378.0,300.3 376.7,300.3 374.7,299.7 373.1,299.7 372.3,300.4 370.3,300.2 368.5,299.5 367.5,299.8 366.0,300.5 365.8,298.3 366.1,296.8 367.4,296.0 367.3,293.7 368.4,292.6 367.7,291.2 368.2,289.5 368.9,287.9 369.2,287.2 370.5,284.4 369.8,284.3 370.4,281.8 370.4,280.7 371.1,279.2 372.3,278.0 372.0,275.7 372.8,275.5 372.1,272.7 373.0,272.0 373.8,270.4 374.1,268.6 375.0,267.4 374.2,266.0 375.0,264.0 375.2,263.1 376.1,261.5 376.9,259.4 376.4,259.0 377.2,256.4 376.8,255.6 378.0,254.0 378.7,252.5 378.7,250.6 379.3,250.2 378.6,247.2"/>
<polygon fill="#E0E68A" points="426.1,276.8 424.9,275.0 423.5,272.7 423.7,270.8 422.9,269.5 423.3,267.7 421.6,266.3 421.4,264.9 422.6,262.5 423.9,261.5 425.1,259.8 425.8,258.5 425.0,256.1 425.6,254.5 428.1,253.8 429.3,253.2 431.4,252.5 433.2,251.7 434.9,250.9 436.8,250.5 437.8,250.2 439.3,250.8 441.0,250.8 443.1,250.8 444.3,250.9 445.3,250.5 448.2,252.1 448.7,251.8 450.6,254.1 452.1,253.4 454.4,255.6 455.1,255.0 456.4,254.1 458.5,253.6 460.0,253.9 461.7,252.2 463.1,251.0 464.0,250.2 464.8,249.2 466.2,247.7 467.8,247.0 469.0,246.4 470.3,245.8 472.3,245.1 471.6,246.9 470.8,247.7 470.5,250.3 471.0,251.7 470.6,253.5 472.3,255.3 472.2,256.6 474.9,256.4 475.7,258.7 476.4,258.1 479.1,260.0 479.1,260.6 480.9,261.1 482.9,262.8 482.8,262.8 483.7,265.0 483.2,266.4 483.0,268.0 482.1,269.5 482.2,271.6 480.7,272.2 480.0,272.9 478.0,273.6 476.4,274.3 475.2,274.9 472.7,275.6 471.3,276.4 471.2,277.7 470.7,280.0 470.6,280.2 470.9,283.2 469.5,283.6 469.5,285.6 468.5,287.0 468.8,288.7 468.9,289.4 467.9,292.3 467.8,292.4 466.4,294.9 466.8,296.1 466.7,297.6 467.4,300.2 467.3,300.9 467.4,303.3 466.8,304.1 467.3,306.3 467.6,307.5 466.3,309.0 467.5,310.9 466.9,311.8 466.9,314.3 466.7,314.8 467.3,317.5 466.8,317.9 466.3,320.4 465.4,320.7 463.9,319.5 462.5,319.4 460.2,320.6 459.9,320.5 457.6,319.3 456.2,319.6 454.7,320.7 453.8,320.3 451.2,319.2 450.6,319.8 448.9,320.8 447.3,320.1 445.3,319.2 445.0,320.0 442.4,320.8 441.3,319.9 439.8,319.2 438.7,320.2 436.1,320.7 435.8,319.6 433.8,319.3 432.2,320.4 430.5,320.6 430.0,319.5 427.2,319.5 426.4,320.6 424.9,320.5 423.5,319.3 421.2,319.6 420.9,320.7 418.6,320.3 417.2,319.2 415.7,319.8 415.5,318.4 416.9,317.3 416.8,315.3 417.7,314.2 416.8,312.8 417.7,310.6 418.1,310.3 418.8,307.5 419.1,307.1 418.6,305.0 419.4,303.7 419.4,302.2 420.9,300.9 420.3,298.8 420.8,298.4 420.6,295.5 421.4,295.5 422.2,292.8 422.1,292.0 422.6,290.3 422.0,288.8 423.4,287.3 423.4,286.2 424.3,283.8 423.8,283.6 424.1,280.9 424.7,280.3 425.2,278.5"/>
<polygon fill="#BFD57F" points="432.1,205.3 434.5,204.5 435.4,203.9 437.9,203.5 439.5,204.3 441.4,204.4 442.8,205.5 444.4,204.8 446.7,205.6 447.9,206.6 449.5,206.5 452.1,206.2 452.6,206.0 454.0,205.8 455.7,205.5 457.1,206.4 458.4,207.1 459.8,209.2 461.3,208.5 463.4,207.6 463.8,206.7 465.6,206.0 467.0,205.6 468.8,205.4 471.0,205.4 471.7,206.0 473.5,207.0 475.0,207.8 477.5,208.4 478.2,210.4 480.1,210.1 481.2,212.3 482.2,213.7 482.2,215.6 481.8,216.8 482.9,219.7 479.7,220.6 479.8,222.4 479.9,224.4 478.8,224.6 478.8,227.1 477.5,228.1 476.9,229.6 476.9,230.7 479.3,229.9 479.9,229.3 481.8,228.8 482.8,228.4 484.3,228.2 486.6,228.6 488.0,228.5 489.5,227.8 490.1,227.1 492.9,227.2 493.9,227.7 495.7,227.6 494.6,228.1 493.0,228.6 491.5,229.5 490.4,230.7 489.5,232.1 488.4,233.3 486.7,233.9 485.4,234.8 484.5,236.4 483.6,238.0 481.9,239.0 479.9,239.7 478.7,240.5 477.5,241.3 475.4,242.3 474.0,243.3 473.6,244.2 472.3,245.1 470.6,244.4 468.9,242.3 469.0,242.7 467.0,241.1 466.0,240.1 464.6,239.0 464.0,238.7 463.4,236.6 464.4,235.1 465.2,234.1 465.3,232.0 466.0,230.7 465.2,229.6 466.3,227.2 464.2,227.7 463.6,226.6 461.1,226.2 459.4,225.6 458.5,225.0 456.0,223.8 453.6,224.1 453.3,224.2 451.4,224.1 449.7,224.2 447.9,224.9 446.0,225.6 445.2,226.3 443.2,227.0 442.2,227.7 441.0,228.3 438.7,228.9 437.6,229.5 435.1,230.1 433.9,230.6 432.8,231.1 430.9,231.5 430.0,232.1 427.7,232.8 426.8,233.5 424.7,231.4 422.7,230.1 422.2,230.1 419.9,228.0 418.3,228.0 418.5,225.6 419.5,224.9 420.9,224.2 421.5,222.4 421.8,221.0 422.7,219.2 421.8,218.4 422.7,215.8 424.5,217.4 425.4,217.0 427.9,216.6 428.4,215.5 429.0,215.0 430.5,214.7 432.5,214.0 431.7,210.9 432.2,210.7 432.6,208.0 432.9,207.2"/>
<polygon fill="#BFD57F" points="566.4,281.9 568.1,283.1 569.3,282.5 571.0,283.7 572.3,283.8 573.8,283.9 575.3,285.0 576.7,284.5 578.3,285.6 579.6,285.7 581.2,285.8 582.6,286.9 584.1,286.5 585.6,287.5 587.0,287.7 588.6,287.8 589.9,288.8 591.5,288.5 592.8,289.4 594.4,289.7 595.8,289.7 594.4,291.3 593.3,292.5 592.6,293.3 591.9,293.9 590.5,294.8 588.6,295.9 587.2,297.1 586.7,298.1 586.4,299.1 585.2,300.1 583.2,301.3 581.5,302.4 580.8,303.2 580.5,303.8 579.6,304.7 577.9,306.0 576.3,307.5 575.2,308.9 574.5,309.6 573.6,309.9 572.3,310.5 571.1,311.7 570.0,313.4 568.9,315.0 567.5,315.9 566.3,316.3 565.6,316.7 564.9,317.7 563.6,319.2 561.7,320.8 560.3,321.9 559.7,322.5 559.4,323.1 558.3,324.0 556.3,325.3 554.6,326.5 553.8,327.5 553.5,328.4 552.6,329.5 551.0,330.6 549.3,331.6 548.2,332.5 547.5,333.2 546.6,334.1 545.3,335.4 544.1,337.0 543.1,338.1 541.9,338.7 540.5,339.1 539.3,339.8 538.6,341.2 537.9,343.0 536.6,344.4 534.8,345.1 533.3,345.4 532.7,345.9 532.4,347.1 531.3,348.7 529.4,350.2 527.6,351.2 526.8,351.7 526.5,352.3 525.7,353.3 524.1,354.6 522.4,355.9 521.3,356.9 520.6,357.8 519.6,358.8 518.4,359.9 517.1,360.9 516.1,361.7 514.9,362.5 513.6,363.5 512.3,364.9 511.6,366.3 510.9,367.4 509.7,367.9 507.9,368.3 506.3,369.2 505.7,370.7 505.4,372.4 504.4,373.7 502.5,374.3 500.7,374.5 499.8,375.2 499.5,376.5 498.7,378.2 497.1,379.7 495.4,380.5 495.0,378.8 492.2,379.1 492.1,377.3 489.8,377.7 488.5,375.9 487.6,376.3 485.5,374.4 484.5,374.9 483.1,373.0 481.4,373.4 480.1,371.6 479.0,372.0 476.6,370.2 476.6,370.5 476.8,368.6 477.0,367.2 478.0,365.1 478.7,363.5 478.6,362.8 479.3,360.9 480.6,359.8 481.3,357.1 481.9,356.1 482.7,353.9 483.9,352.8 484.5,351.2 483.5,349.5 484.7,347.8 484.6,346.4 485.8,344.3 486.9,343.6 487.8,342.8 489.9,341.9 491.8,341.0 492.9,340.1 493.5,337.4 493.8,336.7 495.1,335.1 496.3,334.1 496.4,332.0 497.1,331.6 499.3,331.1 500.8,330.6 502.9,331.7 504.1,332.1 504.8,334.1 507.6,334.3 508.6,332.8 510.6,331.8 512.6,331.2 513.2,329.2 513.1,327.8 513.5,326.6 514.5,325.1 515.1,323.3 515.5,322.0 513.8,319.0 514.5,318.4 514.0,317.0 513.5,314.0 512.4,313.3 512.2,312.2 511.8,310.5 511.6,309.6 512.1,308.4 513.0,306.9 514.7,305.8 516.4,304.9 517.9,303.8 518.7,302.2 519.2,300.6 520.0,299.5 520.9,299.3 522.3,297.8 522.6,296.1 523.0,295.0 524.4,293.1 526.6,292.1 528.2,291.1 529.3,290.2 531.5,291.0 532.0,291.7 534.2,291.1 536.2,290.8 537.8,291.0 539.3,290.6 540.4,290.0 542.4,289.9 544.2,290.3 545.9,289.5 548.1,288.7 549.1,287.9 551.5,287.1 552.6,286.4 553.0,285.6 554.3,284.7 556.2,283.7 557.5,282.6 559.0,281.9 561.3,281.2 562.3,280.5 564.3,279.8 564.7,281.6"/>
<polygon fill="#BFD57F" points="472.3,245.1 473.6,244.2 474.0,243.3 475.4,242.3 477.5,241.3 478.7,240.5 479.9,239.7 481.9,239.0 483.6,238.0 484.5,236.4 485.4,234.8 486.7,233.9 488.4,233.3 489.5,232.1 490.4,230.7 491.5,229.5 493.0,228.6 494.6,228.1 495.7,227.6 497.1,227.9 498.0,229.0 500.6,230.0 501.8,231.3 502.9,231.7 504.6,233.0 505.0,233.9 506.3,235.5 508.6,235.3 508.7,236.8 511.1,236.6 512.5,236.0 513.8,237.2 516.3,238.2 517.4,240.0 517.7,240.7 520.4,241.3 520.5,242.7 522.3,242.7 524.2,244.1 524.0,245.5 522.8,246.9 521.8,248.0 523.2,249.9 523.3,251.9 524.8,252.9 525.6,254.2 526.5,256.0 528.9,256.2 529.5,257.1 530.3,259.3 531.7,261.8 531.4,261.5 529.3,260.5 527.7,260.9 525.9,261.9 525.2,261.5 523.0,260.5 521.3,260.9 519.6,261.9 519.1,262.6 516.8,262.6 515.5,262.1 513.1,261.9 512.7,262.4 510.5,261.7 508.2,261.3 507.5,261.2 505.2,260.9 504.2,261.3 503.2,264.1 503.2,264.2 502.7,267.3 503.7,267.3 502.6,270.3 502.5,270.5 502.7,273.1 502.9,274.3 501.9,275.8 502.5,278.2 502.6,278.7 501.9,281.6 502.0,282.1 502.3,284.6 502.6,286.6 504.0,287.4 504.2,288.5 504.5,290.8 504.9,293.4 505.6,294.0 506.5,295.7 504.4,296.5 503.2,297.2 500.8,297.6 499.1,297.0 497.9,297.6 496.4,297.2 494.5,296.3 493.3,297.0 492.1,296.8 489.5,295.6 489.2,296.3 486.8,296.7 485.0,295.3 483.6,295.3 483.0,296.1 481.2,297.0 479.4,297.9 478.3,299.0 477.0,300.0 475.3,301.0 474.3,301.9 472.7,300.7 470.9,300.7 468.9,300.4 467.4,300.2 466.7,297.6 466.8,296.1 466.4,294.9 467.8,292.4 467.9,292.3 468.9,289.4 468.8,288.7 468.5,287.0 469.5,285.6 469.5,283.6 470.9,283.2 470.6,280.2 470.7,280.0 471.2,277.7 471.3,276.4 472.7,275.6 475.2,274.9 476.4,274.3 478.0,273.6 480.0,272.9 480.7,272.2 482.2,271.6 482.1,269.5 483.0,268.0 483.2,266.4 483.7,265.0 482.8,262.8 482.9,262.8 480.9,261.1 479.1,260.6 479.1,260.0 476.4,258.1 475.7,258.7 474.9,256.4 472.2,256.6 472.3,255.3 470.6,253.5 471.0,251.7 470.5,250.3 470.8,247.7 471.6,246.9"/>
<polygon fill="#BFD57F" points="474.3,301.9 475.3,301.0 477.0,300.0 478.3,299.0 479.4,297.9 481.2,297.0 483.0,296.1 483.6,295.3 485.0,295.3 486.8,296.7 489.2,296.3 489.5,295.6 492.1,296.8 493.3,297.0 494.5,296.3 496.4,297.2 497.9,297.6 499.1,297.0 500.8,297.6 503.2,297.2 504.4,296.5 506.5,295.7 504.2,296.7 503.2,297.7 500.7,298.7 499.2,299.7 496.3,300.2 498.4,301.1 501.1,302.0 502.7,303.0 505.2,304.0 505.2,305.4 506.2,307.4 505.4,308.8 506.6,309.4 506.9,312.0 508.1,313.8 508.0,314.4 508.4,316.2 508.5,317.4 507.5,318.6 505.4,319.9 503.9,321.0 503.1,322.0 501.2,322.5 500.0,323.0 498.9,323.5 496.6,324.0 495.6,324.4 492.7,323.9 492.4,324.9 490.4,324.1 488.3,323.1 487.3,324.1 485.0,321.9 485.1,322.3 483.1,320.5 481.2,319.2 481.3,319.4 478.9,317.1 478.5,316.4 478.0,315.1 477.0,313.2 476.9,312.2 475.7,310.5 475.4,308.0 474.1,307.3 474.1,305.9 473.7,304.4 473.7,303.3 471.0,301.6 471.0,301.8 468.3,300.1 467.4,300.2 468.9,300.4 470.9,300.7 472.7,300.7"/>
<polygon fill="#E0E68A" points="504.2,261.3 505.2,260.9 507.5,261.2 508.2,261.3 510.5,261.7 512.7,262.4 513.1,261.9 515.5,262.1 516.8,262.6 519.1,262.6 519.6,261.9 521.3,260.9 523.0,260.5 525.2,261.5 525.9,261.9 527.7,260.9 529.3,260.5 531.4,261.5 531.7,261.8 534.5,260.9 535.4,261.6 537.0,262.3 538.6,261.9 540.3,262.3 541.4,262.7 541.9,265.0 543.4,265.7 543.6,266.9 544.0,269.2 543.8,270.6 544.4,271.8 544.8,274.3 545.9,274.2 547.8,275.0 547.1,275.6 544.9,276.4 543.0,277.1 541.9,277.9 539.8,278.8 538.5,279.6 538.3,281.0 537.3,282.8 536.6,283.5 537.5,286.0 536.4,287.3 535.8,289.0 535.4,289.9 534.2,292.1 533.0,293.9 532.0,294.4 529.5,295.0 528.1,294.8 525.7,294.7 524.8,295.6 523.3,296.3 521.9,297.6 521.0,299.4 518.9,298.5 517.5,298.2 516.0,298.1 514.6,297.9 512.3,297.8 510.7,298.9 508.2,299.4 506.9,299.9 504.5,300.3 503.5,300.7 501.5,301.1 500.7,301.1 498.5,299.7 496.3,300.2 499.2,299.7 500.7,298.7 503.2,297.7 504.2,296.7 506.5,295.7 505.6,294.0 504.9,293.4 504.5,290.8 504.2,288.5 504.0,287.4 502.6,286.6 502.3,284.6 502.0,282.1 501.9,281.6 502.6,278.7 502.5,278.2 501.9,275.8 502.9,274.3 502.7,273.1 502.5,270.5 502.6,270.3 503.7,267.3 502.7,267.3 503.2,264.2 503.2,264.1"/>
<polygon fill="#BFD57F" points="496.3,300.2 498.5,299.7 500.7,301.1 501.5,301.1 503.5,300.7 504.5,300.3 506.9,299.9 508.2,299.4 510.7,298.9 512.3,297.8 514.6,297.9 516.0,298.1 517.5,298.2 518.9,298.5 521.0,299.4 520.0,299.5 518.8,300.9 517.9,303.0 517.0,304.4 515.6,305.3 514.0,305.9 512.8,306.7 512.0,307.7 510.4,309.4 508.4,310.9 506.9,312.0 506.6,309.4 505.4,308.8 506.2,307.4 505.2,305.4 505.2,304.0 502.7,303.0 501.1,302.0 498.4,301.1"/>
<polygon fill="#BFD57F" points="521.8,248.0 523.2,246.9 524.2,244.5 524.4,243.2 525.1,242.8 527.5,242.4 528.9,243.7 530.3,244.5 532.3,245.0 533.7,247.2 534.3,247.0 536.2,248.5 537.4,249.8 538.4,250.2 540.5,249.6 542.2,249.4 544.5,249.5 545.9,249.3 548.3,248.3 549.6,247.4 551.9,246.7 553.4,245.9 554.5,244.5 555.2,242.7 556.4,241.7 558.0,241.1 555.3,238.7 558.0,238.0 559.5,237.6 562.0,236.9 563.1,236.1 564.5,238.1 564.7,238.7 565.8,240.4 566.2,241.9 566.9,242.4 567.6,244.2 568.1,245.5 569.3,246.3 569.5,248.5 571.0,249.8 570.1,251.2 570.0,252.4 569.0,254.4 567.8,255.4 567.6,255.7 567.0,258.0 565.6,259.7 565.1,260.1 564.8,261.6 563.4,263.0 562.6,264.3 562.4,266.1 561.3,266.6 560.1,267.6 559.9,270.2 559.1,271.0 557.7,271.6 557.3,273.5 556.9,274.7 555.5,276.1 553.9,275.4 553.3,275.4 550.3,275.1 549.5,275.1 548.1,273.9 545.6,274.3 544.8,274.3 544.4,271.8 543.8,270.6 544.0,269.2 543.6,266.9 543.4,265.7 541.9,265.0 541.4,262.7 540.3,262.3 538.6,261.9 537.0,262.3 535.4,261.6 534.5,260.9 531.7,261.8 530.3,259.3 529.5,257.1 528.9,256.2 526.5,256.0 525.6,254.2 524.8,252.9 523.3,251.9 523.2,249.9"/>
<polygon fill="#BFD57F" points="597.5,209.0 600.4,207.6 601.8,206.2 602.8,205.3 602.8,207.3 602.8,208.7 605.8,210.0 604.3,207.6 603.9,206.2 602.8,204.7 605.1,204.3 606.4,203.7 605.8,201.8 604.9,200.8 606.4,199.3 609.3,198.4 609.8,196.8 610.8,196.2 612.2,194.7 612.4,193.6 612.9,192.0 614.2,191.9 616.5,191.7 616.8,191.6 619.0,191.6 620.5,191.4 622.5,191.0 623.0,190.9 625.1,191.1 626.8,191.1 628.5,190.6 629.2,190.1 631.1,190.2 633.1,190.6 634.4,190.5 635.5,189.8 635.7,191.8 636.0,192.7 635.8,194.9 635.7,195.7 635.5,197.9 636.5,198.8 635.3,200.7 635.7,202.1 636.5,203.4 635.2,205.3 636.0,206.2 636.0,208.6 635.7,209.1 635.7,211.6 635.8,212.1 636.3,214.5 635.1,215.4 636.1,217.2 636.1,218.7 635.1,219.9 636.3,222.1 635.8,222.6 635.7,225.3 635.7,225.5 636.0,228.3 636.0,228.7 635.2,231.0 636.5,232.0 635.7,233.7 635.3,235.5 636.4,236.3 635.5,238.8 635.7,239.0 635.8,242.0 636.0,242.0 635.7,244.9 635.5,245.3 636.5,247.5 635.2,248.7 635.7,250.1 636.4,252.2 635.3,252.7 635.9,255.5 635.9,255.5 635.9,258.6 635.5,258.6 635.8,261.4 636.3,261.9 635.0,264.0 636.2,265.4 636.1,266.5 635.2,268.9 636.2,269.2 635.8,272.1 635.8,272.1 635.6,275.1 636.1,275.3 636.0,277.9 635.1,278.7 636.5,280.4 635.6,282.1 635.4,283.0 636.3,285.5 635.6,285.7 635.8,288.7 635.7,288.7 636.2,291.6 635.6,292.0 635.5,294.3 636.6,295.4 635.2,296.9 635.8,298.8 636.3,299.5 634.1,299.8 632.8,299.4 631.7,298.5 629.4,299.0 629.0,297.8 626.4,297.8 625.8,297.6 623.9,296.6 622.4,296.9 621.4,296.0 619.1,295.8 618.6,295.7 616.2,294.8 615.4,294.9 613.6,294.3 612.1,293.9 611.0,293.7 608.9,293.0 608.2,292.9 606.0,292.4 605.0,292.0 603.4,291.7 601.7,291.3 600.7,290.9 598.7,290.5 597.7,290.2 595.8,289.7 594.6,289.5 593.1,289.0 591.4,288.6 590.3,288.4 588.5,287.7 587.3,287.6 585.6,287.1 584.2,286.6 582.7,286.6 581.2,285.7 579.8,285.7 578.3,285.3 576.8,284.5 575.3,284.9 573.9,283.8 572.4,283.8 571.0,283.6 569.4,282.5 568.1,283.0 566.4,281.9 564.9,281.8 563.1,280.4 562.5,280.4 561.6,278.1 561.6,277.3 561.9,275.3 561.9,274.1 561.8,272.5 561.4,270.9 562.5,269.7 561.5,267.7 563.5,266.5 565.0,265.6 565.5,265.1 565.9,264.6 567.2,263.8 569.2,262.4 571.0,260.8 571.8,259.3 572.2,258.3 573.1,257.7 574.3,257.0 575.7,255.3 576.4,254.4 576.8,253.0 577.8,250.6 579.3,249.7 580.3,248.9 580.8,247.2 581.5,246.4 582.8,245.1 583.8,242.7 584.1,241.9 584.9,241.3 586.3,239.5 587.0,238.2 587.2,236.8 588.0,234.7 587.6,232.6 586.1,231.2 585.2,230.3 584.6,228.1 585.2,227.4 584.0,225.2 585.0,224.0 584.8,222.2 584.0,220.6 585.7,219.9 587.5,219.2 588.5,218.4 590.7,217.6 592.4,217.2 594.8,217.4 595.6,217.2 597.9,216.3 598.1,215.0 598.6,213.8 598.4,211.5"/>
<polygon fill="#BFD57F" points="566.6,215.2 567.7,214.3 569.6,213.4 570.5,212.7 572.9,212.0 574.3,212.4 575.4,213.2 576.8,212.9 578.8,211.8 579.4,214.1 580.9,215.5 579.8,217.1 578.6,217.9 576.0,218.5 575.9,221.3 577.4,220.4 579.8,220.2 581.4,220.8 583.5,221.0 584.0,220.6 584.8,222.2 585.0,224.0 584.0,225.2 585.2,227.4 584.6,228.1 585.2,230.3 586.1,231.2 587.6,232.6 588.0,234.7 587.2,236.8 585.7,238.0 584.5,238.7 583.8,239.7 583.1,241.2 581.8,242.8 580.0,243.9 578.2,244.3 576.2,243.6 575.9,243.5 572.9,243.4 572.1,243.2 570.5,243.4 568.9,242.9 568.1,241.6 566.9,240.2 566.5,239.9 564.5,238.2 565.2,235.9 563.5,235.0 564.1,233.2 563.8,230.9 563.2,230.2 562.1,228.2 561.7,227.3 560.6,226.2 561.3,223.4 562.8,221.5 564.2,221.4 566.3,220.9 567.5,220.0 567.6,218.8 566.4,217.7"/>
<polygon fill="#013333" points="565.5,204.3 567.7,203.5 569.1,202.7 571.3,202.1 572.8,202.4 574.3,202.6 576.4,202.0 577.4,201.7 579.5,200.4 581.1,202.7 582.4,202.0 583.9,204.0 585.0,205.0 586.2,206.2 586.4,208.3 588.1,209.9 588.7,210.7 590.6,210.9 592.7,211.0 593.9,210.4 596.4,209.7 597.5,209.0 598.4,211.5 598.6,213.8 598.1,215.0 597.9,216.3 595.6,217.2 594.8,217.4 592.4,217.2 590.7,217.6 588.5,218.4 587.5,219.2 585.7,219.9 584.0,220.6 583.5,221.0 581.4,220.8 579.8,220.2 577.4,220.4 575.9,221.3 576.0,218.5 578.6,217.9 579.8,217.1 580.9,215.5 579.4,214.1 578.8,211.8 576.8,212.9 575.4,213.2 574.3,212.4 572.9,212.0 570.5,212.7 569.6,213.4 567.7,214.3 566.6,215.2 567.0,213.3 567.2,212.5 566.7,210.1 567.2,209.7 567.9,207.0 566.3,205.9"/>
<polygon fill="#A0B073" points="547.1,202.3 549.9,203.4 552.4,203.6 553.3,203.1 555.0,203.0 555.8,202.8 558.2,202.4 559.8,201.9 562.5,202.7 563.6,203.1 565.1,202.5 566.7,204.3 567.3,204.5 569.1,205.7 567.8,208.2 568.3,208.6 568.6,211.7 568.0,212.2 568.3,214.6 568.4,216.0 567.3,217.4 567.5,220.0 566.3,220.9 564.2,221.4 562.8,221.5 561.3,223.4 560.6,226.2 560.0,225.8 558.1,224.8 556.7,225.2 554.2,226.2 554.1,224.2 552.4,223.3 552.3,222.0 550.9,220.2 550.6,219.6 548.6,220.5 547.3,221.2 546.5,221.9 547.0,220.3 546.7,219.3 547.1,216.4 548.2,214.9 547.2,213.4 547.8,211.2 549.1,209.5 548.2,207.5 548.5,205.2 548.1,204.8"/>
<polygon fill="#BFD57F" points="532.4,221.5 531.8,220.8 532.2,218.3 532.0,216.9 533.3,215.4 532.4,213.2 534.4,214.6 535.5,215.3 536.2,215.8 538.6,217.8 539.5,218.2 540.3,219.2 542.1,221.6 544.2,222.2 546.5,221.9 547.3,221.2 548.6,220.5 550.6,219.6 550.9,220.2 552.3,222.0 552.4,223.3 554.1,224.2 554.2,226.2 556.7,225.2 558.1,224.8 560.0,225.8 560.6,226.2 562.5,226.1 561.5,226.3 559.3,226.8 558.1,227.5 556.2,228.3 554.7,229.2 554.4,229.9 552.2,230.6 550.9,231.4 549.3,232.1 548.9,233.6 549.1,235.7 549.8,236.7 548.7,239.8 549.4,240.0 549.2,242.9 548.8,243.7 547.9,245.7 547.0,246.8 545.9,249.3 544.5,249.5 542.2,249.4 540.5,249.6 538.4,250.2 537.4,249.8 536.2,248.5 534.3,247.0 533.7,247.2 532.3,245.0 530.3,244.5 531.6,243.3 531.4,241.2 531.4,240.5 531.1,237.7 531.9,237.5 531.7,234.4 531.0,234.3 532.3,231.4 531.5,230.9 531.7,228.6 531.6,227.4 532.3,225.5 531.1,223.9"/>
<polygon fill="#BFD57F" points="549.3,232.1 550.9,231.4 552.2,230.6 554.4,229.9 554.9,229.2 556.5,228.4 558.1,227.7 559.0,226.9 561.4,226.1 562.8,226.6 563.1,229.1 563.0,230.6 562.1,232.5 562.8,234.1 563.1,236.1 562.0,236.9 559.5,237.6 558.0,238.0 555.3,238.7 558.0,241.1 556.4,241.7 555.2,242.7 554.5,244.5 553.4,245.9 551.9,246.7 549.6,247.4 548.3,248.3 545.9,249.3 547.0,246.8 547.9,245.7 548.8,243.7 549.2,242.9 549.4,240.0 548.7,239.8 549.8,236.7 549.1,235.7 548.9,233.6"/>
<polygon fill="#A0B073" points="477.1,205.0 479.3,204.8 479.9,204.7 482.1,205.9 483.2,205.8 485.9,204.9 486.6,203.9 488.0,203.3 489.4,204.1 491.9,204.8 492.6,204.0 494.5,205.8 494.8,206.4 496.4,208.1 496.5,208.7 497.4,209.4 496.3,212.4 495.2,213.3 494.2,215.3 493.2,217.3 493.5,218.6 494.1,220.1 493.4,222.5 494.8,224.4 495.8,225.2 496.4,227.1 495.5,227.7 494.4,228.3 492.7,228.7 491.7,229.1 489.1,229.6 487.9,230.2 486.8,230.7 485.5,230.9 483.8,230.7 481.5,230.6 481.2,231.1 479.2,231.8 478.0,232.1 476.7,230.4 477.4,228.0 477.2,227.8 476.0,225.7 476.3,223.8 477.3,222.5 478.4,221.8 479.6,221.4 480.6,220.6 480.9,218.1 479.5,216.2 479.1,215.6 478.8,213.8 478.8,212.6 478.7,210.5 477.2,209.2 477.8,208.6 477.4,205.7"/>
<polygon fill="#BFD57F" points="496.3,212.4 499.0,211.5 500.5,210.8 501.6,213.1 502.2,215.3 503.2,216.3 503.2,217.9 503.6,219.4 503.9,220.7 506.0,222.3 507.5,221.4 508.9,223.3 510.6,222.8 512.2,222.2 514.3,221.7 515.4,221.1 517.2,221.8 520.1,222.3 520.8,223.5 522.2,222.6 523.8,221.1 524.9,219.5 525.2,218.5 527.1,218.4 528.2,218.6 530.5,218.6 531.0,220.5 532.4,221.5 531.1,223.9 532.3,225.5 531.6,227.4 531.7,228.6 531.5,230.9 532.3,231.4 531.0,234.3 531.7,234.4 531.9,237.5 531.1,237.7 531.4,240.5 531.4,241.2 531.6,243.3 530.3,244.5 528.9,243.7 527.5,242.4 525.1,242.8 524.4,243.2 522.3,242.7 520.5,242.7 520.4,241.3 517.7,240.7 517.4,240.0 515.6,238.9 513.7,237.9 512.1,238.7 509.7,239.5 508.8,240.2 507.4,241.0 507.9,241.8 506.5,243.5 506.5,245.2 505.4,246.4 504.4,247.0 504.1,248.9 503.3,250.9 501.9,251.4 501.2,251.8 500.0,250.9 499.6,249.6 497.9,247.5 497.3,247.2 496.9,246.2 494.8,243.8 493.6,243.2 492.6,242.5 491.2,240.3 491.1,239.1 489.6,237.5 489.6,235.3 490.7,234.7 492.0,233.8 493.3,232.1 494.2,231.0 494.7,230.5 495.3,229.0 496.4,227.1 495.8,225.2 494.8,224.4 493.4,222.5 494.1,220.1 493.5,218.6 493.2,217.3 494.2,215.3 495.2,213.3"/>
<polygon fill="#A0B073" points="491.5,196.3 493.7,197.5 494.0,197.6 496.7,196.5 498.0,197.3 500.3,195.3 501.6,194.3 502.6,196.6 502.7,197.8 504.2,199.0 504.2,201.0 504.6,203.4 506.3,203.1 507.1,205.0 509.9,204.4 510.7,203.8 513.1,203.0 514.3,201.9 516.8,201.0 518.3,200.9 519.3,202.7 519.3,204.4 521.1,204.4 523.4,205.9 525.0,207.2 526.0,206.9 529.0,209.1 529.7,209.7 530.0,210.1 531.7,211.8 532.5,212.5 534.5,214.7 533.0,215.3 534.4,217.5 533.3,219.5 532.5,220.3 532.4,221.5 531.0,220.5 530.5,218.6 528.2,218.6 527.1,218.4 525.2,218.5 524.9,219.5 523.8,221.1 522.2,222.6 520.8,223.5 520.1,222.3 517.2,221.8 515.4,221.1 514.3,221.7 512.2,222.2 510.6,222.8 508.9,223.3 507.5,221.4 506.0,222.3 503.9,220.7 503.6,219.4 503.2,217.9 503.2,216.3 502.2,215.3 501.6,213.1 500.5,210.8 499.0,211.5 496.5,211.3 495.3,211.0 495.0,209.3 492.5,208.4 491.3,207.5 491.2,205.6 492.3,204.9 491.1,202.3 491.6,202.1 491.8,199.2 491.6,199.1"/>
<polygon fill="#013333" points="518.3,200.9 521.8,200.4 522.6,199.4 523.7,198.5 525.6,197.5 526.6,196.6 527.8,195.7 530.4,195.2 531.5,195.0 534.0,194.4 535.0,193.9 536.2,193.4 537.8,193.0 538.7,192.5 541.7,192.9 542.8,193.4 543.7,192.9 545.4,194.8 545.6,195.9 546.9,197.5 546.9,200.0 547.4,200.1 547.1,202.3 548.1,204.8 548.5,205.2 548.2,207.5 549.1,209.5 547.8,211.2 547.2,213.4 548.2,214.9 547.1,216.4 546.7,219.3 547.0,220.3 546.5,221.9 544.2,222.2 542.1,221.6 540.3,219.2 539.5,218.2 538.6,217.8 536.1,215.8 535.0,214.6 534.5,214.7 532.5,212.5 531.7,211.8 530.0,210.1 529.7,209.7 529.0,209.1 526.0,206.9 525.0,207.2 523.4,205.9 521.1,204.4 519.3,204.4 519.3,202.7"/>
<polygon fill="#BFD57F" points="499.3,194.2 501.3,193.8 502.2,193.2 504.0,192.7 506.3,192.1 507.3,191.4 509.2,190.7 509.0,187.9 509.3,186.1 510.6,184.1 510.3,182.8 510.2,181.8 510.4,179.1 511.2,178.7 513.9,177.8 515.1,176.9 516.1,175.4 518.8,175.7 520.3,176.0 521.4,176.0 523.9,178.2 526.4,178.5 526.7,178.8 529.2,179.0 530.3,179.4 531.4,179.4 530.6,180.4 530.5,183.1 529.5,184.0 528.6,185.7 528.7,186.5 528.7,189.1 527.4,190.6 527.0,192.6 528.0,194.5 527.8,195.7 526.6,196.6 525.6,197.5 523.7,198.5 522.6,199.4 521.8,200.4 518.3,200.9 516.8,201.0 514.3,201.9 513.1,203.0 510.7,203.8 509.9,204.4 507.1,205.0 506.3,203.1 504.6,203.4 504.2,201.0 504.2,199.0 502.7,197.8 502.6,196.6 501.6,194.3"/>
<polygon fill="#013333" points="531.4,179.4 533.6,179.1 535.3,178.9 536.0,178.8 537.8,178.6 539.1,178.2 541.2,177.3 542.7,175.7 543.6,174.2 544.8,173.3 547.1,172.9 548.7,172.2 550.8,171.5 552.2,172.0 553.7,171.6 556.2,173.4 557.5,173.5 558.1,175.3 558.7,176.9 558.5,178.2 557.9,181.0 557.4,183.1 558.5,185.0 556.6,185.1 554.6,185.4 553.8,185.7 552.0,186.1 551.1,186.3 548.3,186.4 547.3,186.7 545.2,187.3 545.8,189.2 545.1,189.8 545.2,192.8 543.7,192.9 542.8,193.4 541.7,192.9 538.7,192.5 537.8,193.0 536.2,193.4 535.0,193.9 534.0,194.4 531.5,195.0 530.4,195.2 527.8,195.7 528.0,194.5 527.0,192.6 527.4,190.6 528.7,189.1 528.7,186.5 528.6,185.7 529.5,184.0 530.5,183.1 530.6,180.4"/>
<polygon fill="#A0B073" points="498.3,168.9 499.5,168.3 501.0,167.8 502.9,167.7 504.7,167.5 506.2,167.4 508.0,169.6 510.8,169.5 511.6,169.0 513.7,168.5 513.7,169.5 515.1,171.2 515.3,173.5 516.1,175.4 515.1,176.9 513.9,177.8 511.2,178.7 510.4,179.1 507.8,180.0 506.8,181.0 505.5,181.5 504.1,181.5 502.5,181.1 500.1,181.0 500.6,180.4 500.0,179.0 500.2,177.1 498.9,175.7 499.2,174.0 499.0,171.7 498.0,170.6"/>
<polygon fill="#BFD57F" points="508.4,144.7 510.2,146.2 510.2,147.2 511.7,148.7 514.1,150.2 515.1,151.1 515.9,152.1 518.2,153.2 520.0,152.6 520.8,153.0 522.7,153.7 524.5,153.2 526.0,152.4 527.0,152.2 528.8,152.4 530.5,152.7 532.7,152.5 534.3,151.2 536.4,149.9 538.0,151.7 539.4,151.4 539.8,153.8 540.4,155.1 539.5,156.4 540.8,159.1 541.1,159.0 543.0,160.5 544.8,162.2 546.4,161.1 547.8,161.9 548.6,163.2 549.5,165.4 551.3,166.2 552.8,167.3 553.5,168.8 552.8,169.9 552.2,172.0 550.8,171.5 548.7,172.2 547.1,172.9 544.8,173.3 543.6,174.2 542.7,175.7 541.2,177.3 539.1,178.2 537.8,178.6 536.0,178.8 535.3,178.9 533.6,179.1 531.4,179.4 530.3,179.4 529.2,179.0 526.7,178.8 526.4,178.5 523.9,178.2 521.4,176.0 520.3,176.0 518.8,175.7 516.1,175.4 515.3,173.5 515.1,171.2 513.7,169.5 513.7,168.5 513.5,166.4 513.0,164.4 511.5,162.9 512.8,162.2 512.2,159.8 512.4,159.1 512.3,156.7 510.7,155.2 510.2,154.0 509.5,152.5 507.9,152.1 507.0,151.0 506.1,148.9 506.4,147.3 504.9,145.7 507.3,145.1"/>
<polygon fill="#013333" points="510.2,110.4 512.2,109.8 512.8,109.6 514.7,110.3 516.5,110.4 517.7,109.7 518.9,109.7 521.2,110.4 522.2,110.3 523.4,109.5 525.4,109.7 527.0,110.5 527.8,110.2 529.8,109.4 531.6,109.9 532.5,110.6 534.1,110.0 536.2,109.4 537.2,110.0 538.4,110.6 540.6,109.9 541.9,109.4 541.1,112.2 542.5,112.3 541.5,115.3 541.6,115.5 541.9,118.1 541.9,118.9 541.7,120.7 541.4,122.3 542.5,123.5 541.2,125.6 541.7,126.4 542.3,128.7 541.2,129.4 541.9,131.6 541.7,132.6 541.9,134.5 541.4,135.8 541.8,137.5 541.6,139.2 540.9,140.5 541.1,142.5 541.4,143.7 540.6,145.8 540.3,146.7 539.9,148.8 540.7,150.3 539.4,151.4 538.0,151.7 536.4,149.9 534.3,151.2 532.7,152.5 530.5,152.7 528.8,152.4 527.0,152.2 526.0,152.4 524.5,153.2 522.7,153.7 520.8,153.0 520.0,152.6 518.2,153.2 515.9,152.1 515.1,151.1 514.1,150.2 511.7,148.7 510.2,147.2 510.2,146.2 508.4,144.7 508.6,143.7 508.7,141.5 508.1,140.3 509.3,138.4 508.9,136.6 509.3,135.3 509.2,132.8 510.4,132.0 509.4,129.8 509.9,128.8 509.8,126.9 510.9,125.5 509.5,124.0 510.4,122.4 510.5,120.7 509.8,119.5 510.4,117.4 510.2,116.7 510.4,114.1 509.7,113.7 510.7,111.0"/>
<polygon fill="#013333" points="541.9,109.4 543.0,110.2 544.8,110.7 546.9,109.7 547.5,109.3 549.5,110.3 551.2,110.7 552.9,109.6 553.4,109.3 556.1,110.4 557.2,110.6 558.8,109.6 559.7,109.4 562.6,110.4 561.4,111.2 561.6,113.4 562.1,114.5 561.6,116.1 561.7,118.0 561.5,118.8 562.3,121.4 561.1,121.6 561.8,124.7 562.1,124.6 561.0,127.6 561.9,128.0 561.6,130.4 561.7,131.4 561.2,133.1 562.0,134.8 561.7,135.9 560.9,138.0 562.3,139.0 561.2,141.1 561.4,142.2 561.7,144.0 560.0,144.9 558.5,146.6 557.4,148.1 556.6,148.7 555.5,149.8 554.1,151.5 552.4,153.1 551.2,153.8 549.8,155.6 550.0,157.9 550.2,160.3 546.4,161.1 544.8,162.2 543.0,160.5 541.1,159.0 540.8,159.1 539.5,156.4 540.4,155.1 539.8,153.8 539.4,151.4 540.7,150.3 539.9,148.8 540.3,146.7 540.6,145.8 541.4,143.7 541.1,142.5 540.9,140.5 541.6,139.2 541.8,137.5 541.4,135.8 541.9,134.5 541.7,132.6 541.9,131.6 541.2,129.4 542.3,128.7 541.7,126.4 541.2,125.6 542.5,123.5 541.4,122.3 541.7,120.7 541.9,118.9 541.9,118.1 541.6,115.5 541.5,115.3 542.5,112.3 541.1,112.2"/>
<polygon fill="#BFD57F" points="562.6,110.4 562.9,110.5 564.9,109.5 566.2,109.6 568.4,110.5 568.6,110.3 571.3,109.5 572.3,109.7 574.0,110.5 574.9,110.2 577.7,109.5 577.9,109.9 580.0,110.5 581.4,110.1 583.4,109.6 583.7,110.0 586.5,110.4 587.4,109.9 589.0,109.6 590.0,110.1 592.8,110.3 592.9,109.9 595.1,109.7 596.5,110.1 598.4,110.2 598.8,109.9 601.7,109.9 602.5,110.1 604.1,110.1 605.3,109.9 607.8,109.9 608.0,110.1 610.2,110.0 611.7,110.0 613.4,110.0 614.0,110.0 616.7,110.0 617.6,110.1 619.1,110.0 620.5,109.9 622.8,110.0 623.2,110.2 625.3,110.0 626.9,109.8 628.3,110.0 629.2,110.2 631.8,109.9 632.7,109.7 634.1,110.1 635.8,110.3 636.3,111.0 635.4,113.6 635.9,113.9 635.8,116.7 636.1,117.0 635.4,119.5 635.9,120.2 636.3,122.2 635.0,123.6 636.3,124.9 636.0,126.9 635.4,127.7 636.1,130.1 635.8,130.6 635.9,133.1 635.4,133.8 636.2,135.9 635.9,137.0 635.1,138.7 636.6,140.3 635.5,141.5 635.5,143.5 636.2,144.4 635.7,146.5 635.8,147.5 635.6,149.5 636.3,150.6 635.4,152.4 635.6,153.7 636.5,155.3 635.1,156.9 635.9,158.2 636.1,159.9 635.6,161.2 635.8,162.9 635.8,164.3 636.2,165.9 635.2,167.4 636.0,168.9 636.2,170.4 635.0,171.9 636.3,173.3 635.8,175.0 635.5,176.3 635.9,178.1 635.9,179.3 635.9,181.1 635.3,182.3 636.4,184.1 635.7,185.4 635.2,186.9 636.5,188.6 635.5,189.8 634.4,190.5 633.1,190.6 631.1,190.2 629.2,190.1 628.5,190.6 626.8,191.1 625.1,191.1 623.0,190.9 622.5,191.0 620.5,191.4 619.0,191.6 616.8,191.6 616.5,191.7 614.2,191.9 612.9,192.0 612.4,193.6 612.2,194.7 610.8,196.2 609.8,196.8 609.3,198.4 606.4,199.3 604.9,200.8 605.8,201.8 606.4,203.7 605.1,204.3 602.8,204.7 603.9,206.2 604.3,207.6 605.8,210.0 602.8,208.7 602.8,207.3 602.8,205.3 601.8,206.2 600.4,207.6 597.5,209.0 596.4,209.7 593.9,210.4 592.7,211.0 590.6,210.9 588.7,210.7 588.1,209.9 586.4,208.3 586.2,206.2 585.0,205.0 583.9,204.0 582.4,202.0 581.1,202.7 579.5,200.4 579.8,200.4 580.0,197.7 579.2,196.3 578.7,195.3 579.6,192.9 580.6,192.1 581.5,189.9 580.6,188.6 581.0,186.3 578.4,185.4 577.5,185.5 576.0,184.5 573.9,184.8 573.0,185.3 571.9,185.8 569.7,186.0 568.3,186.1 566.7,185.6 565.6,186.1 563.4,186.0 561.6,184.8 560.9,185.2 558.5,185.0 557.4,183.1 557.9,181.0 558.5,178.2 558.7,176.9 558.1,175.3 557.5,173.5 556.2,173.4 553.7,171.6 552.2,172.0 552.8,169.9 553.5,168.8 552.8,167.3 551.3,166.2 549.5,165.4 548.6,163.2 547.8,161.9 546.4,161.1 550.2,160.3 550.0,157.9 549.8,155.6 551.2,153.8 552.4,153.1 554.1,151.5 555.5,149.8 556.6,148.7 557.4,148.1 558.5,146.6 560.0,144.9 561.7,144.0 561.4,142.2 561.2,141.1 562.3,139.0 560.9,138.0 561.7,135.9 562.0,134.8 561.2,133.1 561.7,131.4 561.6,130.4 561.9,128.0 561.0,127.6 562.1,124.6 561.8,124.7 561.1,121.6 562.3,121.4 561.5,118.8 561.7,118.0 561.6,116.1 562.1,114.5 561.6,113.4 561.4,111.2"/>
<polygon fill="#A0B073" points="545.2,187.3 547.3,186.7 548.3,186.4 551.1,186.3 552.0,186.1 553.8,185.7 554.6,185.4 556.6,185.1 558.5,185.0 560.9,185.2 561.6,184.8 563.4,186.0 565.6,186.1 566.7,185.6 568.3,186.1 569.7,186.0 571.9,185.8 573.0,185.3 573.9,184.8 576.0,184.5 577.5,185.5 578.4,185.4 581.0,186.3 580.6,188.6 581.5,189.9 580.6,192.1 579.6,192.9 578.7,195.3 579.2,196.3 580.0,197.7 579.8,200.4 579.5,200.4 577.4,201.7 576.4,202.0 574.3,202.6 572.8,202.4 571.3,202.1 568.8,202.7 567.5,203.5 564.7,203.5 563.5,203.4 561.2,203.9 559.9,204.7 558.2,204.9 556.9,204.9 555.0,204.9 553.2,205.1 551.1,205.5 550.2,204.4 549.4,203.4 547.1,202.3 547.4,200.1 546.9,200.0 546.9,197.5 545.6,195.9 545.4,194.8 543.7,192.9 545.2,192.8 545.1,189.8 545.8,189.2"/>
<polygon fill="#A0B073" points="408.3,180.5 411.3,180.6 412.1,181.4 413.5,181.5 416.0,180.7 417.1,182.2 418.7,182.2 420.1,181.5 421.9,183.1 422.7,182.8 425.1,182.4 425.8,183.9 427.6,183.4 429.1,184.8 430.5,184.6 431.4,186.8 434.0,186.0 434.3,186.9 435.7,184.7 437.3,183.5 439.0,182.7 440.4,183.5 441.5,184.2 444.2,185.4 446.7,186.1 447.0,187.8 448.2,188.8 449.0,189.2 449.6,191.2 450.7,188.4 451.8,187.5 454.6,187.7 455.2,188.5 457.1,188.4 457.8,187.8 460.3,186.9 461.6,186.8 463.2,188.2 464.8,187.7 467.1,186.9 468.1,186.2 469.7,185.4 471.5,184.7 472.0,184.5 474.3,186.0 475.7,186.9 477.3,187.9 478.3,189.1 479.6,189.8 480.8,190.8 482.0,191.9 484.9,193.0 486.2,193.2 487.6,195.0 488.8,194.5 490.4,196.8 491.5,196.3 491.6,199.1 491.8,199.2 491.6,202.1 491.1,202.3 492.3,204.9 491.2,205.6 491.3,207.5 489.8,207.4 487.7,206.3 486.7,206.9 484.6,206.0 482.1,205.9 480.6,206.6 479.3,207.2 478.6,207.7 477.5,208.4 475.0,207.8 473.5,207.0 471.7,206.0 471.0,205.4 468.8,205.4 467.0,205.6 465.6,206.0 463.8,206.7 463.4,207.6 461.3,208.5 459.8,209.2 458.4,207.1 457.1,206.4 455.7,205.5 454.0,205.8 452.6,206.0 452.1,206.2 449.5,206.5 447.9,206.6 446.7,205.6 444.4,204.8 442.8,205.5 441.4,204.4 439.5,204.3 437.9,203.5 435.4,203.9 434.5,204.5 432.1,205.3 430.9,204.7 429.2,204.5 427.0,202.4 425.3,202.7 423.3,201.0 422.9,200.6 419.9,200.5 418.1,199.2 417.6,199.1 416.1,197.8 416.2,196.2 416.1,194.2 415.9,193.2 415.2,191.3 414.2,189.1 412.9,187.4 412.7,186.5 411.2,184.9 410.3,182.8 409.9,181.5"/>
<polygon fill="#A0B073" points="449.6,191.2 450.5,189.7 449.6,188.6 449.2,186.1 448.4,185.0 448.5,184.4 448.7,181.5 450.0,181.1 450.4,180.6 451.9,180.0 453.6,179.4 454.7,178.6 456.4,177.8 458.5,176.9 459.6,174.4 460.3,175.2 462.2,176.8 463.5,176.8 464.7,178.6 466.1,177.0 467.3,175.4 468.3,174.3 469.3,173.6 470.9,172.7 473.4,172.3 474.0,171.9 475.9,171.9 477.9,173.0 480.0,173.3 482.2,175.3 482.8,173.7 484.2,173.0 485.2,171.2 485.4,169.0 485.4,168.5 486.1,166.4 486.3,163.9 487.4,162.6 491.4,162.4 492.5,162.8 494.6,162.3 497.7,162.4 498.8,165.3 497.7,166.3 498.3,168.9 498.0,170.6 499.0,171.7 499.2,174.0 498.9,175.7 500.2,177.1 500.0,179.0 500.6,180.4 500.1,181.0 502.5,181.1 504.1,181.5 505.5,181.5 506.8,181.0 507.8,180.0 510.4,179.1 510.2,181.8 510.3,182.8 510.6,184.1 509.9,186.6 510.7,187.7 509.9,189.7 509.4,191.4 508.4,191.9 506.1,192.4 505.2,193.0 502.9,193.6 501.6,194.3 500.3,195.3 498.0,197.3 496.7,196.5 494.0,197.6 493.7,197.5 491.5,196.3 490.4,196.8 488.8,194.5 487.6,195.0 486.2,193.2 484.9,193.0 482.0,191.9 480.8,190.8 479.6,189.8 478.3,189.1 477.3,187.9 475.7,186.9 474.3,186.0 472.0,184.5 471.5,184.7 469.7,185.4 468.1,186.2 467.1,186.9 464.8,187.7 463.2,188.2 461.6,186.8 460.3,186.9 457.8,187.8 457.1,188.4 455.2,188.5 454.6,187.7 451.8,187.5 450.7,188.4"/>
<polygon fill="#A0B073" points="413.9,156.5 414.3,156.4 416.7,156.4 418.5,158.0 419.1,157.4 421.8,158.2 424.4,158.3 424.7,160.0 427.1,159.0 428.2,161.0 429.4,160.3 432.1,161.0 432.5,161.7 434.6,161.8 435.1,163.1 435.0,166.2 436.7,166.7 437.6,167.1 438.9,169.2 439.4,169.7 441.6,170.9 441.9,169.5 442.6,168.2 444.0,167.1 445.0,165.6 446.2,164.0 447.9,163.1 447.7,160.9 448.1,159.1 446.8,159.0 446.0,158.8 442.9,158.5 442.6,157.4 440.5,158.2 438.9,156.8 438.3,156.8 439.2,156.1 440.9,155.4 442.7,154.6 443.1,153.7 444.9,152.8 446.4,152.0 447.6,151.2 450.1,150.4 451.1,150.1 453.6,150.7 454.7,151.2 455.3,153.5 458.1,153.3 459.8,154.5 461.6,156.3 462.2,156.8 464.7,157.2 465.4,159.5 466.0,160.4 466.7,162.6 466.1,164.2 465.0,165.2 463.4,165.9 461.5,167.2 460.2,168.7 459.2,170.5 458.5,171.6 458.5,174.3 459.6,174.4 458.5,176.9 456.4,177.8 454.7,178.6 453.6,179.4 451.9,180.0 450.4,180.6 450.0,181.1 448.7,181.5 448.5,184.4 448.4,185.0 449.2,186.1 449.6,188.6 450.5,189.7 449.6,191.2 449.0,189.2 448.2,188.8 447.0,187.8 446.7,186.1 444.2,185.4 441.5,184.2 440.4,183.5 439.0,182.7 437.3,183.5 435.7,184.7 434.3,186.9 434.0,186.0 431.4,186.8 430.5,184.6 429.1,184.8 427.6,183.4 425.8,183.9 425.1,182.4 422.7,182.8 421.9,183.1 420.1,181.5 418.7,182.2 417.1,182.2 416.0,180.7 413.5,181.5 412.1,181.4 411.3,180.6 408.3,180.5 406.5,179.5 405.7,180.3 403.1,178.3 402.5,178.8 400.8,176.6 399.4,177.0 400.6,175.3 402.0,174.1 404.0,173.3 405.0,172.5 407.3,171.5 406.8,170.3 407.5,167.9 408.5,166.2 410.5,165.4 412.4,164.7 413.4,163.5 415.4,162.4 414.3,160.8 414.0,159.1 413.8,157.3"/>
<polygon fill="#013333" points="413.9,156.5 412.5,154.1 413.8,152.9 413.3,151.2 413.0,149.6 413.6,147.9 413.3,146.7 413.3,144.3 413.1,143.9 413.9,140.9 412.6,140.7 415.6,139.9 416.4,139.2 418.0,140.0 419.3,140.8 421.8,140.0 420.7,141.6 421.6,143.0 421.7,144.7 420.6,146.3 421.8,147.5 421.2,149.7 423.0,151.7 424.4,152.0 426.1,151.3 428.8,151.9 430.4,152.0 431.8,151.6 434.0,153.4 433.9,153.7 436.1,154.5 438.3,156.8 438.9,156.8 440.5,158.2 442.6,157.4 442.9,158.5 446.0,158.8 446.8,159.0 448.1,159.1 447.7,160.9 447.9,163.1 446.2,164.0 445.0,165.6 444.0,167.1 442.6,168.2 441.9,169.5 441.6,170.9 439.4,169.7 438.9,169.2 437.6,167.1 436.7,166.7 435.0,166.2 435.1,163.1 434.6,161.8 432.5,161.7 432.1,161.0 429.4,160.3 428.2,161.0 427.1,159.0 424.7,160.0 424.4,158.3 421.8,158.2 419.1,157.4 418.5,158.0 416.7,156.4 414.3,156.4"/>
<polygon fill="#013333" points="421.2,149.7 421.8,147.6 420.6,146.4 421.5,144.8 421.7,143.1 420.6,142.0 421.7,139.9 421.3,139.0 421.2,136.9 421.2,136.0 421.4,134.0 421.5,132.8 420.6,131.1 421.9,129.7 421.2,128.2 420.8,126.6 421.9,125.2 421.0,123.5 421.2,122.1 421.3,120.6 421.5,119.1 421.2,117.6 420.9,116.0 422.0,114.5 420.7,113.0 421.2,111.5 421.9,110.1 422.7,109.5 424.3,110.0 425.4,110.5 428.1,110.0 428.2,109.5 430.5,110.1 431.8,110.5 433.6,109.8 434.1,109.5 437.0,110.2 437.5,110.4 439.3,109.7 440.6,109.6 443.0,110.3 443.0,110.3 444.2,111.4 444.0,113.1 443.3,114.7 444.2,116.1 443.7,117.8 443.8,119.3 443.5,120.8 444.2,122.6 443.6,123.7 443.4,125.7 444.6,126.9 443.2,128.6 443.9,130.3 444.1,131.4 443.6,133.8 443.8,134.1 444.9,135.8 447.9,135.8 448.5,136.4 450.0,137.0 453.1,138.5 454.6,137.7 454.1,140.3 456.0,142.8 456.7,144.2 458.1,144.2 459.8,146.4 461.3,148.3 460.0,149.4 460.6,151.1 460.6,153.4 461.6,156.3 459.8,154.5 458.1,153.3 455.3,153.5 454.7,151.2 453.6,150.7 451.1,150.1 450.1,150.4 447.6,151.2 446.4,152.0 444.9,152.8 443.1,153.7 442.7,154.6 440.9,155.4 439.2,156.1 438.3,156.8 436.1,154.5 433.9,153.7 434.0,153.4 431.8,151.6 430.4,152.0 428.8,151.9 426.1,151.3 424.4,152.0 423.0,151.7"/>
<polygon fill="#A0B073" points="475.7,110.4 475.7,111.1 475.7,113.8 476.3,114.5 475.1,116.7 476.3,118.1 475.8,119.6 475.4,121.5 476.3,123.0 475.6,124.3 476.0,126.6 476.4,127.0 475.8,129.5 476.6,130.5 476.8,132.0 476.1,133.8 477.5,135.2 477.8,136.5 477.4,137.5 478.1,140.2 478.2,140.9 479.2,142.1 478.4,144.9 479.0,145.0 478.4,145.3 476.2,144.5 476.0,143.9 473.1,143.4 472.4,144.7 470.3,145.2 468.3,145.8 467.4,146.4 465.5,146.0 463.7,146.7 462.2,145.6 461.3,148.3 459.8,146.4 458.1,144.2 456.7,144.2 456.0,142.8 454.1,140.3 454.6,137.7 453.1,138.5 450.0,137.0 448.5,136.4 447.9,135.8 444.9,135.8 443.8,134.1 443.6,133.8 444.1,131.4 443.9,130.3 443.2,128.6 444.6,126.9 443.4,125.7 443.6,123.7 444.2,122.6 443.5,120.8 443.8,119.3 443.7,117.8 444.2,116.1 443.3,114.7 444.0,113.1 444.2,111.4 443.0,110.3 445.7,109.7 446.8,109.8 448.6,110.3 449.2,110.2 452.1,109.8 452.7,109.9 454.4,110.2 455.8,110.0 458.2,109.9 458.4,110.0 460.7,110.0 462.2,110.0 463.8,110.1 464.5,110.0 467.2,109.8 468.1,110.0 469.5,110.3 471.1,110.0 473.3,109.6 473.9,110.1"/>
<polygon fill="#A0B073" points="475.6,124.3 476.3,123.0 475.4,121.5 475.8,119.6 476.3,118.1 475.1,116.7 476.3,114.5 475.7,113.8 475.7,111.1 475.7,110.4 477.7,109.8 479.0,109.4 480.1,110.2 482.0,110.7 484.2,109.8 484.8,109.2 486.7,110.3 488.3,110.7 490.4,109.7 490.7,109.3 493.3,110.2 494.6,110.6 496.5,109.8 496.9,109.6 499.8,110.1 500.8,110.2 502.4,110.0 503.5,110.0 506.2,110.0 506.9,109.8 508.4,110.1 510.2,110.4 510.7,111.0 509.7,113.7 510.4,114.1 510.2,116.7 510.4,117.4 509.8,119.5 510.5,120.7 510.4,122.4 509.5,124.0 510.9,125.5 509.8,126.9 509.9,128.8 509.4,129.8 510.4,132.0 509.2,132.8 509.3,135.3 508.9,136.6 509.3,138.4 508.1,140.3 508.7,141.5 508.6,143.7 508.4,144.7 507.3,145.1 504.9,145.7 506.4,147.3 506.1,148.9 507.0,151.0 505.1,149.9 502.8,150.2 500.2,148.7 498.5,147.6 497.4,147.0 496.1,144.4 497.2,144.2 496.6,142.0 495.6,140.1 495.0,140.1 493.7,138.4 491.5,137.5 491.2,136.2 489.5,136.9 488.2,138.5 487.4,140.2 487.2,141.5 486.0,143.2 485.9,144.0 483.6,145.4 482.3,146.6 480.6,146.5 479.0,145.0 478.4,144.9 479.2,142.1 478.2,140.9 478.1,140.2 477.4,137.5 477.8,136.5 477.5,135.2 476.1,133.8 476.8,132.0 476.6,130.5 475.8,129.5 476.4,127.0 476.0,126.6"/>
<polygon fill="#013333" points="461.3,148.3 462.2,145.6 463.7,146.7 465.5,146.0 467.4,146.4 468.3,145.8 470.3,145.2 472.4,144.7 473.1,143.4 476.0,143.9 476.2,144.5 478.4,145.3 479.0,145.0 479.8,147.5 479.5,150.1 477.8,150.7 476.4,152.3 477.8,154.8 480.4,155.9 481.3,156.9 482.4,160.2 485.6,161.3 486.2,161.8 487.4,162.6 486.3,163.9 486.1,166.4 485.4,168.5 485.4,169.0 485.2,171.2 484.2,173.0 482.8,173.7 482.2,175.3 480.0,173.3 477.9,173.0 475.9,171.9 474.0,171.9 473.4,172.3 470.9,172.7 469.3,173.6 468.3,174.3 467.3,175.4 466.1,177.0 464.7,178.6 463.5,176.8 462.2,176.8 460.3,175.2 459.6,174.4 458.5,174.3 458.5,171.6 459.2,170.5 460.2,168.7 461.5,167.2 463.4,165.9 465.0,165.2 466.1,164.2 466.7,162.6 466.0,160.4 465.4,159.5 464.7,157.2 462.2,156.8 461.6,156.3 460.6,153.4 460.6,151.1 460.0,149.4"/>
<polygon fill="#BFD57F" points="479.0,145.0 480.6,146.5 482.3,146.6 483.6,145.4 485.9,144.0 486.0,143.2 487.2,141.5 487.4,140.2 488.2,138.5 489.5,136.9 491.2,136.2 491.5,137.5 493.7,138.4 495.0,140.1 495.6,140.1 496.6,142.0 497.2,144.2 496.1,144.4 497.4,147.0 498.5,147.6 500.2,148.7 502.8,150.2 505.1,149.9 507.0,151.0 507.9,152.1 509.5,152.5 510.2,154.0 510.7,155.2 512.3,156.7 512.4,159.1 512.2,159.8 512.8,162.2 511.5,162.9 513.0,164.4 513.5,166.4 513.7,168.5 511.6,169.0 510.8,169.5 508.0,169.6 506.2,167.4 504.7,167.5 502.9,167.7 501.0,167.8 499.5,168.3 498.3,168.9 497.7,166.3 498.8,165.3 497.7,162.4 494.6,162.3 492.5,162.8 491.4,162.4 487.4,162.6 486.2,161.8 485.6,161.3 482.4,160.2 481.3,156.9 480.4,155.9 477.8,154.8 476.4,152.3 477.8,150.7 479.5,150.1 479.8,147.5"/>
</g>
<polygon fill="#fff" stroke="#6a6a6a" stroke-width="0.6" points="563.1,229.1 564.1,230.3 564.9,232.2 563.4,234.1 565.0,235.2 565.3,237.4 566.3,239.2 568.1,241.1 570.4,240.7 572.6,240.6 574.3,241.1 575.6,243.2 576.9,242.0 579.5,240.5 582.0,240.7 584.2,239.0 585.0,237.9 586.1,235.3 588.7,236.5 590.3,238.7 590.2,240.7 590.3,242.3 590.1,244.3 588.1,246.2 587.1,248.4 586.1,249.7 585.7,252.3 585.7,253.3 586.1,255.5 585.7,256.6 584.4,258.0 583.0,258.8 580.7,259.0 580.0,260.4 579.1,261.3 577.9,262.4 576.2,264.0 574.6,265.6 573.6,266.0 571.0,266.3 570.0,266.7 567.8,267.0 568.7,269.0 567.9,270.6 566.5,272.3 567.4,274.8 566.9,275.1 567.2,278.0 565.7,278.0 566.5,281.0 566.1,281.1 564.2,281.6 563.7,282.3 562.4,283.2 559.9,284.1 558.9,285.0 557.7,286.3 555.7,287.6 553.8,288.7 553.0,289.7 552.1,290.5 550.6,291.3 549.2,292.2 548.4,293.2 546.5,293.5 544.3,293.7 543.6,294.1 541.3,294.9 540.5,295.5 538.2,296.1 537.2,296.5 536.2,297.7 534.6,298.4 532.7,299.4 533.0,302.5 532.7,304.5 530.9,305.8 529.0,303.6 530.3,302.8 529.5,300.8 528.6,298.8 529.1,297.2 529.2,296.1 529.2,294.3 531.3,293.6 533.3,293.1 533.8,292.8 535.2,292.6 535.4,290.2 536.1,288.3 536.4,287.2 537.1,285.2 536.7,283.4 537.0,281.2 538.5,280.6 539.4,278.4 539.9,277.5 541.3,276.6 543.1,275.8 544.0,275.0 546.3,274.1 547.9,274.1 548.9,274.7 550.0,272.7 551.2,271.7 552.4,270.1 553.6,267.6 554.9,266.5 556.4,266.0 557.1,264.4 556.5,263.2 555.6,260.8 556.7,259.9 557.9,257.7 559.1,256.5 560.0,254.7 560.3,253.7 561.4,251.7 562.4,249.5 563.6,249.1 564.6,246.8 564.3,245.3 565.8,244.2 566.6,243.0 565.8,241.9 565.3,239.9 563.7,238.0 563.7,237.4 562.6,236.2 562.8,234.1 562.1,232.5 563.0,230.6"/>
<polygon fill="none" stroke="#222" stroke-opacity="0.75" stroke-width="0.8" stroke-linejoin="round" points="329.6,235.1 331.2,233.8 332.3,232.0 334.3,231.4 336.0,230.5 337.9,229.7 339.0,227.7 340.7,226.4 342.3,225.0 341.8,222.0 344.0,221.1 345.6,220.2 347.8,220.4 348.9,218.6 350.5,217.5 352.3,216.7 352.2,214.0 354.2,213.3 355.6,212.0 356.6,210.1 358.5,209.2 360.0,207.8 361.3,206.2 361.4,203.9 362.9,202.5 364.6,201.2 365.6,199.2 368.2,198.6 368.8,196.3 370.7,196.1 371.7,193.9 373.7,193.8 375.6,192.1 376.2,189.7 376.7,187.1 378.7,185.5 380.3,183.1 382.2,181.9 383.0,179.6 385.3,178.9 386.0,176.1 388.6,174.8 390.3,173.1 392.4,173.1 393.6,171.5 395.2,169.0 397.3,168.9 399.3,169.5 401.0,170.7 401.8,167.4 401.0,164.9 398.5,164.0 400.6,164.0 401.6,161.9 403.5,161.6 406.0,161.8 407.6,159.9 409.6,158.7 411.7,157.7 413.3,156.0 414.5,154.0 417.4,154.0 418.3,151.7 420.1,150.9 421.3,149.3 424.1,149.1 425.7,146.9 427.6,146.2 427.7,143.8 429.0,142.5 429.9,140.8 431.7,140.0 433.9,138.2 436.7,138.0 438.2,136.0 440.4,135.6 442.6,135.0 444.7,134.8 446.6,134.0 448.0,131.8 450.9,132.1 452.7,130.6 454.2,129.2 455.9,128.0 457.9,127.3 459.9,127.4 461.2,125.9 462.8,124.8 464.6,124.6 466.4,124.1 468.3,124.2 469.9,123.3 472.1,122.7 473.6,125.3 475.8,124.6 477.3,122.9 479.6,124.2 481.6,123.9 482.8,121.4 485.0,122.0 487.1,123.1 489.5,122.5 491.6,123.3 493.9,122.8 495.6,120.8 498.2,121.3 500.4,121.1 501.9,122.2 502.7,124.8 504.9,124.6 507.7,124.3 510.2,125.5 512.2,126.4 514.3,127.0 516.4,127.3 518.6,126.0 520.7,126.6 523.0,126.7 525.1,127.5 527.3,127.9 529.4,129.0 531.9,127.8 533.9,129.2 535.5,130.8 537.7,131.3 538.5,133.3 539.7,135.0 541.7,135.9 544.2,134.4 547.0,135.3 548.3,137.0 550.8,135.7 552.2,137.3 554.1,137.8 555.6,139.3 557.5,139.9 558.1,142.0 560.4,142.3 561.5,143.9 564.1,145.9 565.3,147.9 567.6,148.2 569.4,149.2 571.7,150.5 573.4,152.5 575.2,153.5 576.9,154.6 577.8,156.5 579.9,157.9 580.3,160.5 582.3,161.2 582.6,163.5 584.3,164.5 584.7,166.8 587.6,166.9 588.3,169.0 590.6,168.5 592.0,171.3 594.3,170.7 596.1,170.9 598.0,170.7 599.8,171.1 601.8,170.8 603.5,171.9 605.4,172.0 607.3,172.7 609.1,171.6 611.0,171.6 613.4,171.6 615.7,172.0 617.7,171.1 619.4,172.5 621.2,175.3 621.7,178.1 618.5,179.0 614.7,182.3 612.9,185.5 612.9,191.1 611.9,194.8 608.2,197.6 605.9,200.4 607.3,203.2 609.1,204.1 611.0,200.4 614.7,199.0 618.5,200.4 621.2,203.2 619.4,206.9 616.6,211.0 610.9,225.8 605.0,235.7 599.0,247.6 590.8,258.5 583.8,267.8 574.5,276.0 566.5,282.2 555.8,291.5 550.2,295.5 543.8,299.0 538.8,302.3 535.0,304.9 528.4,313.1 521.8,326.4 516.8,337.9 508.6,347.9 498.7,356.1 487.1,362.7 483.3,367.2 481.3,361.0 481.3,357.8 482.0,356.1 482.7,354.3 483.8,352.8 484.1,351.2 483.8,349.5 484.4,347.9 484.6,346.2 485.8,344.5 487.1,342.9 488.4,341.7 490.0,341.3 491.2,340.1 492.9,339.6 493.5,338.1 493.9,336.4 494.5,335.0 495.5,333.6 496.2,332.1 497.9,331.8 499.4,330.7 501.1,330.5 502.7,331.3 503.9,332.6 505.2,333.9 506.9,334.6 508.6,333.6 510.2,332.3 511.9,331.3 513.0,329.8 512.8,327.9 514.2,326.5 514.4,324.7 515.2,323.1 514.5,321.5 514.2,319.8 514.0,318.2 514.1,316.4 513.5,314.8 512.5,313.0 512.1,310.9 511.3,309.0 510.9,308.7 509.5,309.6 508.4,310.8 507.0,311.7 507.6,313.7 508.7,315.6 509.0,317.7 507.7,319.0 506.1,319.9 504.4,320.5 503.0,321.6 501.4,322.3 499.9,323.0 498.2,323.3 496.7,324.0 495.1,324.6 493.5,324.6 491.9,323.9 490.3,323.8 488.7,324.0 487.1,323.6 485.8,322.6 484.5,321.6 483.4,320.4 482.0,319.5 480.4,318.8 479.2,317.7 478.8,316.0 477.4,314.9 476.9,313.2 476.2,311.7 475.8,309.8 474.7,308.2 474.4,306.4 473.4,304.7 473.2,302.8 471.8,301.9 470.4,301.1 468.8,300.5 467.3,299.8 465.4,299.1 463.3,299.3 461.4,298.8 460.0,297.4 458.5,296.3 456.9,295.1 455.4,293.9 454.0,293.0 452.8,291.8 451.4,290.8 449.8,290.2 448.5,288.9 447.3,287.5 445.6,286.6 444.6,285.0 443.1,284.0 441.5,283.3 440.0,282.2 438.3,281.5 436.6,281.0 434.9,280.9 433.3,280.5 431.7,279.9 430.0,279.7 428.0,279.0 426.4,277.5 424.7,276.4 422.9,275.8 421.2,275.1 419.6,274.3 418.1,273.1 417.3,271.6 415.8,270.7 414.9,269.3 414.1,267.8 412.7,266.8 411.7,265.4 409.9,264.9 408.8,263.6 407.5,262.5 405.6,261.1 403.6,259.8 402.3,260.9 401.4,262.3 400.3,263.6 399.6,265.1 397.9,266.2 396.1,267.0 394.3,267.8 392.0,267.6 389.7,267.1 389.9,265.4 389.8,263.6 389.0,262.0 388.8,260.2 389.0,258.5 387.8,257.3 386.7,256.0 385.8,254.5 384.8,253.2 383.7,251.9 382.6,250.7 381.4,249.5 380.7,247.9 379.8,246.5 378.2,245.6 376.9,244.5 375.6,243.2 374.0,242.5 372.4,241.6 370.9,240.6 369.4,239.7 368.0,238.3 366.2,237.5 365.2,235.7 363.5,234.7 362.1,233.7 360.7,232.9 359.1,232.2 357.5,231.7 355.5,232.0 353.6,232.3 351.6,232.8 349.6,232.7 348.2,234.3 347.3,236.3 345.7,237.7 344.1,238.3 342.5,238.4 340.9,238.6 339.3,238.6 337.7,238.7 335.6,238.6 333.8,237.7"/>
<clipPath id="clip3"><polygon points="633.8,235.1 635.4,233.8 636.5,232.0 638.5,231.4 640.2,230.5 642.1,229.7 643.2,227.7 644.9,226.4 646.5,225.0 646.0,222.0 648.2,221.1 649.8,220.2 652.0,220.4 653.1,218.6 654.7,217.5 656.5,216.7 656.4,214.0 658.4,213.3 659.8,212.0 660.8,210.1 662.7,209.2 664.2,207.8 665.5,206.2 665.6,203.9 667.1,202.5 668.8,201.2 669.8,199.2 672.4,198.6 673.0,196.3 674.9,196.1 675.9,193.9 677.9,193.8 679.8,192.1 680.4,189.7 680.9,187.1 682.9,185.5 684.5,183.1 686.4,181.9 687.2,179.6 689.5,178.9 690.2,176.1 692.8,174.8 694.5,173.1 696.6,173.1 697.8,171.5 699.4,169.0 701.5,168.9 703.5,169.5 705.2,170.7 706.0,167.4 705.2,164.9 702.7,164.0 704.8,164.0 705.8,161.9 707.7,161.6 710.2,161.8 711.8,159.9 713.8,158.7 715.9,157.7 717.5,156.0 718.7,154.0 721.6,154.0 722.5,151.7 724.3,150.9 725.5,149.3 728.3,149.1 729.9,146.9 731.8,146.2 731.9,143.8 733.2,142.5 734.1,140.8 735.9,140.0 738.1,138.2 740.9,138.0 742.4,136.0 744.6,135.6 746.8,135.0 748.9,134.8 750.8,134.0 752.2,131.8 755.1,132.1 756.9,130.6 758.4,129.2 760.1,128.0 762.1,127.3 764.1,127.4 765.4,125.9 767.0,124.8 768.8,124.6 770.6,124.1 772.5,124.2 774.1,123.3 776.3,122.7 777.8,125.3 780.0,124.6 781.5,122.9 783.8,124.2 785.8,123.9 787.0,121.4 789.2,122.0 791.3,123.1 793.7,122.5 795.8,123.3 798.1,122.8 799.8,120.8 802.4,121.3 804.6,121.1 806.1,122.2 806.9,124.8 809.1,124.6 811.9,124.3 814.4,125.5 816.4,126.4 818.5,127.0 820.6,127.3 822.8,126.0 824.9,126.6 827.2,126.7 829.3,127.5 831.5,127.9 833.6,129.0 836.1,127.8 838.1,129.2 839.7,130.8 841.9,131.3 842.7,133.3 843.9,135.0 845.9,135.9 848.4,134.4 851.2,135.3 852.5,137.0 855.0,135.7 856.4,137.3 858.3,137.8 859.8,139.3 861.7,139.9 862.3,142.0 864.6,142.3 865.7,143.9 868.3,145.9 869.5,147.9 871.8,148.2 873.6,149.2 875.9,150.5 877.6,152.5 879.4,153.5 881.1,154.6 882.0,156.5 884.1,157.9 884.5,160.5 886.5,161.2 886.8,163.5 888.5,164.5 888.9,166.8 891.8,166.9 892.5,169.0 894.8,168.5 896.2,171.3 898.5,170.7 900.3,170.9 902.2,170.7 904.0,171.1 906.0,170.8 907.7,171.9 909.6,172.0 911.5,172.7 913.3,171.6 915.2,171.6 917.6,171.6 919.9,172.0 921.9,171.1 923.6,172.5 925.4,175.3 925.9,178.1 922.7,179.0 918.9,182.3 917.1,185.5 917.1,191.1 916.1,194.8 912.4,197.6 910.1,200.4 911.5,203.2 913.3,204.1 915.2,200.4 918.9,199.0 922.7,200.4 925.4,203.2 923.6,206.9 920.8,211.0 915.1,225.8 909.2,235.7 903.2,247.6 895.0,258.5 888.0,267.8 878.7,276.0 870.7,282.2 860.0,291.5 854.4,295.5 848.0,299.0 843.0,302.3 839.2,304.9 832.6,313.1 826.0,326.4 821.0,337.9 812.8,347.9 802.9,356.1 791.3,362.7 787.5,367.2 785.5,361.0 785.5,357.8 786.2,356.1 786.9,354.3 788.0,352.8 788.3,351.2 788.0,349.5 788.6,347.9 788.8,346.2 790.0,344.5 791.3,342.9 792.6,341.7 794.2,341.3 795.4,340.1 797.1,339.6 797.7,338.1 798.1,336.4 798.7,335.0 799.7,333.6 800.4,332.1 802.1,331.8 803.6,330.7 805.3,330.5 806.9,331.3 808.1,332.6 809.4,333.9 811.1,334.6 812.8,333.6 814.4,332.3 816.1,331.3 817.2,329.8 817.0,327.9 818.4,326.5 818.6,324.7 819.4,323.1 818.7,321.5 818.4,319.8 818.2,318.2 818.3,316.4 817.7,314.8 816.7,313.0 816.3,310.9 815.5,309.0 815.1,308.7 813.7,309.6 812.6,310.8 811.2,311.7 811.8,313.7 812.9,315.6 813.2,317.7 811.9,319.0 810.3,319.9 808.6,320.5 807.2,321.6 805.6,322.3 804.1,323.0 802.4,323.3 800.9,324.0 799.3,324.6 797.7,324.6 796.1,323.9 794.5,323.8 792.9,324.0 791.3,323.6 790.0,322.6 788.7,321.6 787.6,320.4 786.2,319.5 784.6,318.8 783.4,317.7 783.0,316.0 781.6,314.9 781.1,313.2 780.4,311.7 780.0,309.8 778.9,308.2 778.6,306.4 777.6,304.7 777.4,302.8 776.0,301.9 774.6,301.1 773.0,300.5 771.5,299.8 769.6,299.1 767.5,299.3 765.6,298.8 764.2,297.4 762.7,296.3 761.1,295.1 759.6,293.9 758.2,293.0 757.0,291.8 755.6,290.8 754.0,290.2 752.7,288.9 751.5,287.5 749.8,286.6 748.8,285.0 747.3,284.0 745.7,283.3 744.2,282.2 742.5,281.5 740.8,281.0 739.1,280.9 737.5,280.5 735.9,279.9 734.2,279.7 732.2,279.0 730.6,277.5 728.9,276.4 727.1,275.8 725.4,275.1 723.8,274.3 722.3,273.1 721.5,271.6 720.0,270.7 719.1,269.3 718.3,267.8 716.9,266.8 715.9,265.4 714.1,264.9 713.0,263.6 711.7,262.5 709.8,261.1 707.8,259.8 706.5,260.9 705.6,262.3 704.5,263.6 703.8,265.1 702.1,266.2 700.3,267.0 698.5,267.8 696.2,267.6 693.9,267.1 694.1,265.4 694.0,263.6 693.2,262.0 693.0,260.2 693.2,258.5 692.0,257.3 690.9,256.0 690.0,254.5 689.0,253.2 687.9,251.9 686.8,250.7 685.6,249.5 684.9,247.9 684.0,246.5 682.4,245.6 681.1,244.5 679.8,243.2 678.2,242.5 676.6,241.6 675.1,240.6 673.6,239.7 672.2,238.3 670.4,237.5 669.4,235.7 667.7,234.7 666.3,233.7 664.9,232.9 663.3,232.2 661.7,231.7 659.7,232.0 657.8,232.3 655.8,232.8 653.8,232.7 652.4,234.3 651.5,236.3 649.9,237.7 648.3,238.3 646.7,238.4 645.1,238.6 643.5,238.6 641.9,238.7 639.8,238.6 638.0,237.7"/></clipPath>
<g clip-path="url(#clip3)" stroke="#1a1a00" stroke-opacity="0.52" stroke-width="0.8" stroke-linejoin="round">
<polygon fill="#FFC200" points="600.1,249.5 600.0,249.1 599.8,246.2 600.1,246.2 600.4,243.2 599.3,243.0 600.5,240.4 600.1,239.6 599.4,237.8 600.5,236.1 599.9,235.1 600.0,232.8 599.9,232.3 600.3,229.7 599.9,229.2 599.5,226.8 600.8,226.0 599.5,224.0 599.9,222.7 600.5,221.1 599.6,219.4 600.1,218.2 600.0,216.3 600.3,215.2 599.6,213.3 600.1,212.0 600.5,210.4 599.2,208.9 600.5,207.4 600.1,205.9 599.6,204.3 600.2,202.9 600.0,201.1 600.1,200.0 599.6,198.0 600.5,197.0 599.9,194.9 599.4,193.9 600.8,192.0 599.6,190.7 599.9,189.3 600.3,187.3 599.9,186.5 600.0,184.0 599.8,183.7 600.6,180.9 599.4,180.6 602.1,179.7 603.1,178.9 604.0,178.3 605.7,178.0 606.7,177.6 609.1,177.1 610.5,176.3 610.9,175.5 612.9,175.0 614.2,174.8 616.0,174.8 617.8,174.8 618.0,174.4 619.9,173.7 621.7,172.8 623.0,172.0 624.9,171.5 625.3,171.2 626.8,170.8 629.2,170.2 630.1,169.4 631.8,168.6 632.7,168.2 633.8,168.1 636.4,168.1 637.4,168.0 638.6,167.5 640.0,166.7 641.0,165.9 643.5,165.2 644.8,164.7 645.5,164.4 647.3,164.0 648.3,163.3 650.5,162.5 652.1,161.8 652.4,161.4 654.4,161.3 655.8,161.4 657.5,161.2 659.4,160.6 659.6,159.8 661.3,159.0 663.3,158.3 664.5,158.0 666.4,157.6 666.9,157.1 668.3,156.4 670.7,155.6 671.7,154.9 673.3,154.6 674.3,154.6 675.3,154.6 678.0,154.4 679.0,153.7 680.1,152.9 681.6,152.1 682.5,151.5 685.0,151.2 686.4,150.9 687.0,150.3 688.8,149.5 689.9,148.7 692.0,148.1 693.8,147.9 694.0,147.9 695.9,147.9 697.4,147.5 698.9,146.8 700.9,146.0 701.2,145.2 702.8,144.8 704.9,144.4 706.0,144.0 707.9,143.4 708.6,142.6 709.7,141.8 712.3,141.3 713.3,141.2 714.8,141.2 716.0,141.1 716.8,140.7 718.1,140.9 717.3,143.9 717.5,144.3 717.5,146.7 717.8,147.9 717.2,149.6 717.5,151.2 718.0,152.9 716.7,154.1 718.1,156.5 718.0,157.3 718.2,159.1 718.5,160.8 719.6,162.4 717.6,163.5 716.6,164.7 714.7,165.4 712.7,166.2 711.7,167.9 711.0,170.3 711.5,171.5 709.2,172.5 708.2,173.3 706.2,174.1 704.8,175.3 703.6,177.0 705.0,176.6 706.7,178.8 707.3,178.3 709.9,180.3 710.7,179.5 712.5,180.5 714.1,181.5 714.5,182.8 715.4,184.9 716.9,186.5 717.1,187.4 718.4,189.1 719.4,191.3 720.1,193.2 720.3,194.2 720.4,196.2 720.3,197.8 721.8,199.1 722.3,199.2 724.1,200.5 727.1,200.6 727.5,201.0 729.5,202.7 731.2,202.4 733.4,204.5 735.1,204.7 736.3,205.3 737.1,207.2 736.8,208.0 736.4,210.7 735.9,210.9 736.7,214.0 734.7,214.7 733.2,215.0 732.6,215.5 732.1,216.6 729.6,217.0 728.7,217.4 726.9,215.8 726.0,218.4 726.9,219.2 726.0,221.0 725.7,222.4 725.1,224.2 723.7,224.9 722.7,225.6 722.5,228.0 721.5,228.7 719.2,229.4 718.1,230.1 716.1,230.8 714.0,231.4 713.1,232.0 711.3,231.9 710.7,231.8 708.7,232.2 706.7,233.0 706.7,234.9 706.5,235.9 706.7,238.0 706.1,239.4 705.2,240.9 704.6,241.1 702.5,241.4 701.5,241.9 699.3,242.7 697.7,243.5 695.6,244.3 693.9,244.7 693.4,244.6 691.4,244.2 690.4,244.3 687.8,244.9 686.9,245.9 685.9,246.7 684.1,247.1 683.0,247.3 684.1,250.3 683.2,250.7 683.1,253.0 682.0,254.4 682.6,255.6 682.5,257.8 681.8,258.8 681.4,260.6 681.0,262.3 681.8,263.6 680.6,265.3 680.6,267.1 679.7,267.9 680.6,270.7 678.3,269.6 676.9,269.3 675.3,270.4 674.5,270.6 671.9,269.5 671.1,269.4 669.6,270.6 668.0,270.5 665.9,269.4 665.5,269.6 663.2,270.7 661.7,270.3 660.4,269.3 659.3,269.8 656.8,270.7 656.0,270.1 654.6,269.3 652.7,270.0 651.0,270.7 650.3,270.0 648.2,269.3 646.5,270.1 645.5,270.7 644.0,269.8 641.8,269.4 640.9,270.3 639.6,270.6 637.5,269.7 636.1,269.5 635.1,270.4 633.1,270.4 631.4,269.6 630.5,269.6 628.8,270.4 626.8,270.3 625.7,269.6 624.5,269.8 622.2,270.4 621.2,270.1 619.9,269.6 618.0,269.9 616.2,270.4 615.6,270.0 613.5,269.7 611.8,270.0 610.6,270.3 609.5,270.0 607.0,269.8 606.3,270.1 604.7,270.2 603.0,269.9 601.1,269.9 600.6,270.1 599.9,268.5 599.7,266.7 600.2,265.8 600.0,263.3 600.0,262.9 599.6,260.1 600.6,259.9 599.6,257.1 599.8,256.6 600.7,254.4 599.4,253.0 600.2,251.8"/>
<polygon fill="#FF6633" points="684.1,247.1 685.9,246.7 686.9,245.9 687.8,244.9 690.4,244.3 691.4,244.2 693.4,244.6 693.9,244.7 695.6,244.3 697.7,243.5 699.3,242.7 701.5,241.9 702.5,241.4 704.6,241.1 705.2,240.9 706.1,239.4 706.7,238.0 706.5,235.9 706.7,234.9 706.7,233.0 708.7,232.2 710.7,231.8 711.3,231.9 713.1,232.0 714.0,231.4 716.1,230.8 718.1,230.1 719.2,229.4 721.5,228.7 722.5,228.0 724.1,228.0 726.4,230.1 726.9,230.1 728.9,231.4 731.0,233.5 731.9,232.8 734.2,232.1 735.1,231.5 737.0,231.1 738.1,230.6 739.3,230.1 741.8,229.5 742.9,228.9 745.2,228.3 746.4,227.7 747.4,227.0 749.4,226.3 750.2,225.6 752.1,224.9 753.9,224.2 755.6,224.1 757.5,224.2 757.8,224.1 760.2,223.8 762.7,225.0 763.6,225.6 765.3,226.2 767.8,226.6 768.4,227.7 770.5,227.2 769.4,229.6 770.2,230.7 769.5,232.0 769.4,234.1 768.6,235.1 767.6,236.6 768.2,238.7 768.8,239.0 770.2,240.1 771.2,241.1 773.2,242.7 773.1,242.3 774.8,244.4 776.5,245.1 774.5,245.8 773.2,246.4 772.0,247.0 770.4,247.7 769.0,249.2 768.2,250.2 767.3,251.0 765.9,252.2 764.2,253.9 762.7,253.6 760.6,254.1 759.3,255.0 758.6,255.6 756.3,253.4 754.8,254.1 752.9,251.8 752.4,252.1 749.5,250.5 748.5,250.9 747.3,250.8 745.2,250.8 743.5,250.8 742.0,250.2 741.0,250.5 739.1,250.9 737.4,251.7 735.6,252.5 733.5,253.2 732.3,253.8 729.8,254.5 729.2,256.1 730.0,258.5 729.3,259.8 728.1,261.5 726.8,262.5 725.6,264.9 725.8,266.3 727.5,267.7 727.1,269.5 727.9,270.8 727.7,272.7 729.1,275.0 730.3,276.8 729.3,278.9 729.5,279.5 729.3,282.3 729.9,282.4 729.0,285.5 729.2,285.4 730.0,288.5 728.7,288.6 729.4,291.3 729.2,292.0 729.4,294.1 728.6,295.4 729.3,296.8 729.4,298.7 728.3,299.8 727.7,299.6 726.0,300.3 724.7,300.3 722.2,299.7 722.1,299.8 719.7,300.2 718.4,300.2 716.7,299.8 716.0,299.9 713.2,300.2 712.6,300.1 710.9,299.9 709.5,300.0 707.2,300.1 707.0,300.0 704.6,300.0 703.2,300.0 701.7,300.0 700.8,300.0 698.1,300.1 697.4,300.0 695.9,299.9 694.2,300.0 692.2,300.2 691.7,299.9 689.5,299.8 687.9,300.1 686.7,300.2 685.5,299.8 683.1,299.7 682.2,300.3 680.9,300.3 678.9,299.7 677.3,299.7 676.5,300.4 674.5,300.2 672.7,299.5 671.7,299.8 670.2,300.5 670.0,298.3 670.3,296.8 671.6,296.0 671.5,293.7 672.6,292.6 671.9,291.2 672.4,289.5 673.1,287.9 673.4,287.2 674.7,284.4 674.0,284.3 674.6,281.8 674.6,280.7 675.3,279.2 676.5,278.0 676.2,275.7 677.0,275.5 676.3,272.7 677.2,272.0 678.0,270.4 678.3,268.6 679.2,267.4 678.4,266.0 679.2,264.0 679.4,263.1 680.3,261.5 681.1,259.4 680.6,259.0 681.4,256.4 681.0,255.6 682.2,254.0 682.9,252.5 682.9,250.6 683.5,250.2 682.8,247.2"/>
<polygon fill="#FF6633" points="730.3,276.8 729.1,275.0 727.7,272.7 727.9,270.8 727.1,269.5 727.5,267.7 725.8,266.3 725.6,264.9 726.8,262.5 728.1,261.5 729.3,259.8 730.0,258.5 729.2,256.1 729.8,254.5 732.3,253.8 733.5,253.2 735.6,252.5 737.4,251.7 739.1,250.9 741.0,250.5 742.0,250.2 743.5,250.8 745.2,250.8 747.3,250.8 748.5,250.9 749.5,250.5 752.4,252.1 752.9,251.8 754.8,254.1 756.3,253.4 758.6,255.6 759.3,255.0 760.6,254.1 762.7,253.6 764.2,253.9 765.9,252.2 767.3,251.0 768.2,250.2 769.0,249.2 770.4,247.7 772.0,247.0 773.2,246.4 774.5,245.8 776.5,245.1 775.8,246.9 775.0,247.7 774.7,250.3 775.2,251.7 774.8,253.5 776.5,255.3 776.4,256.6 779.1,256.4 779.9,258.7 780.6,258.1 783.3,260.0 783.3,260.6 785.1,261.1 787.1,262.8 787.0,262.8 787.9,265.0 787.4,266.4 787.2,268.0 786.3,269.5 786.4,271.6 784.9,272.2 784.2,272.9 782.2,273.6 780.6,274.3 779.4,274.9 776.9,275.6 775.5,276.4 775.4,277.7 774.9,280.0 774.8,280.2 775.1,283.2 773.7,283.6 773.7,285.6 772.7,287.0 773.0,288.7 773.1,289.4 772.1,292.3 772.0,292.4 770.6,294.9 771.0,296.1 770.9,297.6 771.6,300.2 771.5,300.9 771.6,303.3 771.0,304.1 771.5,306.3 771.8,307.5 770.5,309.0 771.7,310.9 771.1,311.8 771.1,314.3 770.9,314.8 771.5,317.5 771.0,317.9 770.5,320.4 769.6,320.7 768.1,319.5 766.7,319.4 764.4,320.6 764.1,320.5 761.8,319.3 760.4,319.6 758.9,320.7 758.0,320.3 755.4,319.2 754.8,319.8 753.1,320.8 751.5,320.1 749.5,319.2 749.2,320.0 746.6,320.8 745.5,319.9 744.0,319.2 742.9,320.2 740.3,320.7 740.0,319.6 738.0,319.3 736.4,320.4 734.7,320.6 734.2,319.5 731.4,319.5 730.6,320.6 729.1,320.5 727.7,319.3 725.4,319.6 725.1,320.7 722.8,320.3 721.4,319.2 719.9,319.8 719.7,318.4 721.1,317.3 721.0,315.3 721.9,314.2 721.0,312.8 721.9,310.6 722.3,310.3 723.0,307.5 723.3,307.1 722.8,305.0 723.6,303.7 723.6,302.2 725.1,300.9 724.5,298.8 725.0,298.4 724.8,295.5 725.6,295.5 726.4,292.8 726.3,292.0 726.8,290.3 726.2,288.8 727.6,287.3 727.6,286.2 728.5,283.8 728.0,283.6 728.3,280.9 728.9,280.3 729.4,278.5"/>
<polygon fill="#FF6633" points="736.3,205.3 738.7,204.5 739.6,203.9 742.1,203.5 743.7,204.3 745.6,204.4 747.0,205.5 748.6,204.8 750.9,205.6 752.1,206.6 753.7,206.5 756.3,206.2 756.8,206.0 758.2,205.8 759.9,205.5 761.3,206.4 762.6,207.1 764.0,209.2 765.5,208.5 767.6,207.6 768.0,206.7 769.8,206.0 771.2,205.6 773.0,205.4 775.2,205.4 775.9,206.0 777.7,207.0 779.2,207.8 781.7,208.4 782.4,210.4 784.3,210.1 785.4,212.3 786.4,213.7 786.4,215.6 786.0,216.8 787.1,219.7 783.9,220.6 784.0,222.4 784.1,224.4 783.0,224.6 783.0,227.1 781.7,228.1 781.1,229.6 781.1,230.7 783.5,229.9 784.1,229.3 786.0,228.8 787.0,228.4 788.5,228.2 790.8,228.6 792.2,228.5 793.7,227.8 794.3,227.1 797.1,227.2 798.1,227.7 799.9,227.6 798.8,228.1 797.2,228.6 795.7,229.5 794.6,230.7 793.7,232.1 792.6,233.3 790.9,233.9 789.6,234.8 788.7,236.4 787.8,238.0 786.1,239.0 784.1,239.7 782.9,240.5 781.7,241.3 779.6,242.3 778.2,243.3 777.8,244.2 776.5,245.1 774.8,244.4 773.1,242.3 773.2,242.7 771.2,241.1 770.2,240.1 768.8,239.0 768.2,238.7 767.6,236.6 768.6,235.1 769.4,234.1 769.5,232.0 770.2,230.7 769.4,229.6 770.5,227.2 768.4,227.7 767.8,226.6 765.3,226.2 763.6,225.6 762.7,225.0 760.2,223.8 757.8,224.1 757.5,224.2 755.6,224.1 753.9,224.2 752.1,224.9 750.2,225.6 749.4,226.3 747.4,227.0 746.4,227.7 745.2,228.3 742.9,228.9 741.8,229.5 739.3,230.1 738.1,230.6 737.0,231.1 735.1,231.5 734.2,232.1 731.9,232.8 731.0,233.5 728.9,231.4 726.9,230.1 726.4,230.1 724.1,228.0 722.5,228.0 722.7,225.6 723.7,224.9 725.1,224.2 725.7,222.4 726.0,221.0 726.9,219.2 726.0,218.4 726.9,215.8 728.7,217.4 729.6,217.0 732.1,216.6 732.6,215.5 733.2,215.0 734.7,214.7 736.7,214.0 735.9,210.9 736.4,210.7 736.8,208.0 737.1,207.2"/>
<polygon fill="#FDFBB0" points="870.6,281.9 872.3,283.1 873.5,282.5 875.2,283.7 876.5,283.8 878.0,283.9 879.5,285.0 880.9,284.5 882.5,285.6 883.8,285.7 885.4,285.8 886.8,286.9 888.3,286.5 889.8,287.5 891.2,287.7 892.8,287.8 894.1,288.8 895.7,288.5 897.0,289.4 898.6,289.7 900.0,289.7 898.6,291.3 897.5,292.5 896.8,293.3 896.1,293.9 894.7,294.8 892.8,295.9 891.4,297.1 890.9,298.1 890.6,299.1 889.4,300.1 887.4,301.3 885.7,302.4 885.0,303.2 884.7,303.8 883.8,304.7 882.1,306.0 880.5,307.5 879.4,308.9 878.7,309.6 877.8,309.9 876.5,310.5 875.3,311.7 874.2,313.4 873.1,315.0 871.7,315.9 870.5,316.3 869.8,316.7 869.1,317.7 867.8,319.2 865.9,320.8 864.5,321.9 863.9,322.5 863.6,323.1 862.5,324.0 860.5,325.3 858.8,326.5 858.0,327.5 857.7,328.4 856.8,329.5 855.2,330.6 853.5,331.6 852.4,332.5 851.7,333.2 850.8,334.1 849.5,335.4 848.3,337.0 847.3,338.1 846.1,338.7 844.7,339.1 843.5,339.8 842.8,341.2 842.1,343.0 840.8,344.4 839.0,345.1 837.5,345.4 836.9,345.9 836.6,347.1 835.5,348.7 833.6,350.2 831.8,351.2 831.0,351.7 830.7,352.3 829.9,353.3 828.3,354.6 826.6,355.9 825.5,356.9 824.8,357.8 823.8,358.8 822.6,359.9 821.3,360.9 820.3,361.7 819.1,362.5 817.8,363.5 816.5,364.9 815.8,366.3 815.1,367.4 813.9,367.9 812.1,368.3 810.5,369.2 809.9,370.7 809.6,372.4 808.6,373.7 806.7,374.3 804.9,374.5 804.0,375.2 803.7,376.5 802.9,378.2 801.3,379.7 799.6,380.5 799.2,378.8 796.4,379.1 796.3,377.3 794.0,377.7 792.7,375.9 791.8,376.3 789.7,374.4 788.7,374.9 787.3,373.0 785.6,373.4 784.3,371.6 783.2,372.0 780.8,370.2 780.8,370.5 781.0,368.6 781.2,367.2 782.2,365.1 782.9,363.5 782.8,362.8 783.5,360.9 784.8,359.8 785.5,357.1 786.1,356.1 786.9,353.9 788.1,352.8 788.7,351.2 787.7,349.5 788.9,347.8 788.8,346.4 790.0,344.3 791.1,343.6 792.0,342.8 794.1,341.9 796.0,341.0 797.1,340.1 797.7,337.4 798.0,336.7 799.3,335.1 800.5,334.1 800.6,332.0 801.3,331.6 803.5,331.1 805.0,330.6 807.1,331.7 808.3,332.1 809.0,334.1 811.8,334.3 812.8,332.8 814.8,331.8 816.8,331.2 817.4,329.2 817.3,327.8 817.7,326.6 818.7,325.1 819.3,323.3 819.7,322.0 818.0,319.0 818.7,318.4 818.2,317.0 817.7,314.0 816.6,313.3 816.4,312.2 816.0,310.5 815.8,309.6 816.3,308.4 817.2,306.9 818.9,305.8 820.6,304.9 822.1,303.8 822.9,302.2 823.4,300.6 824.2,299.5 825.1,299.3 826.5,297.8 826.8,296.1 827.2,295.0 828.6,293.1 830.8,292.1 832.4,291.1 833.5,290.2 835.7,291.0 836.2,291.7 838.4,291.1 840.4,290.8 842.0,291.0 843.5,290.6 844.6,290.0 846.6,289.9 848.4,290.3 850.1,289.5 852.3,288.7 853.3,287.9 855.7,287.1 856.8,286.4 857.2,285.6 858.5,284.7 860.4,283.7 861.7,282.6 863.2,281.9 865.5,281.2 866.5,280.5 868.5,279.8 868.9,281.6"/>
<polygon fill="#FF6633" points="776.5,245.1 777.8,244.2 778.2,243.3 779.6,242.3 781.7,241.3 782.9,240.5 784.1,239.7 786.1,239.0 787.8,238.0 788.7,236.4 789.6,234.8 790.9,233.9 792.6,233.3 793.7,232.1 794.6,230.7 795.7,229.5 797.2,228.6 798.8,228.1 799.9,227.6 801.3,227.9 802.2,229.0 804.8,230.0 806.0,231.3 807.1,231.7 808.8,233.0 809.2,233.9 810.5,235.5 812.8,235.3 812.9,236.8 815.3,236.6 816.7,236.0 818.0,237.2 820.5,238.2 821.6,240.0 821.9,240.7 824.6,241.3 824.7,242.7 826.5,242.7 828.4,244.1 828.2,245.5 827.0,246.9 826.0,248.0 827.4,249.9 827.5,251.9 829.0,252.9 829.8,254.2 830.7,256.0 833.1,256.2 833.7,257.1 834.5,259.3 835.9,261.8 835.6,261.5 833.5,260.5 831.9,260.9 830.1,261.9 829.4,261.5 827.2,260.5 825.5,260.9 823.8,261.9 823.3,262.6 821.0,262.6 819.7,262.1 817.3,261.9 816.9,262.4 814.7,261.7 812.4,261.3 811.7,261.2 809.4,260.9 808.4,261.3 807.4,264.1 807.4,264.2 806.9,267.3 807.9,267.3 806.8,270.3 806.7,270.5 806.9,273.1 807.1,274.3 806.1,275.8 806.7,278.2 806.8,278.7 806.1,281.6 806.2,282.1 806.5,284.6 806.8,286.6 808.2,287.4 808.4,288.5 808.7,290.8 809.1,293.4 809.8,294.0 810.7,295.7 808.6,296.5 807.4,297.2 805.0,297.6 803.3,297.0 802.1,297.6 800.6,297.2 798.7,296.3 797.5,297.0 796.3,296.8 793.7,295.6 793.4,296.3 791.0,296.7 789.2,295.3 787.8,295.3 787.2,296.1 785.4,297.0 783.6,297.9 782.5,299.0 781.2,300.0 779.5,301.0 778.5,301.9 776.9,300.7 775.1,300.7 773.1,300.4 771.6,300.2 770.9,297.6 771.0,296.1 770.6,294.9 772.0,292.4 772.1,292.3 773.1,289.4 773.0,288.7 772.7,287.0 773.7,285.6 773.7,283.6 775.1,283.2 774.8,280.2 774.9,280.0 775.4,277.7 775.5,276.4 776.9,275.6 779.4,274.9 780.6,274.3 782.2,273.6 784.2,272.9 784.9,272.2 786.4,271.6 786.3,269.5 787.2,268.0 787.4,266.4 787.9,265.0 787.0,262.8 787.1,262.8 785.1,261.1 783.3,260.6 783.3,260.0 780.6,258.1 779.9,258.7 779.1,256.4 776.4,256.6 776.5,255.3 774.8,253.5 775.2,251.7 774.7,250.3 775.0,247.7 775.8,246.9"/>
<polygon fill="#FF6633" points="778.5,301.9 779.5,301.0 781.2,300.0 782.5,299.0 783.6,297.9 785.4,297.0 787.2,296.1 787.8,295.3 789.2,295.3 791.0,296.7 793.4,296.3 793.7,295.6 796.3,296.8 797.5,297.0 798.7,296.3 800.6,297.2 802.1,297.6 803.3,297.0 805.0,297.6 807.4,297.2 808.6,296.5 810.7,295.7 808.4,296.7 807.4,297.7 804.9,298.7 803.4,299.7 800.5,300.2 802.6,301.1 805.3,302.0 806.9,303.0 809.4,304.0 809.4,305.4 810.4,307.4 809.6,308.8 810.8,309.4 811.1,312.0 812.3,313.8 812.2,314.4 812.6,316.2 812.7,317.4 811.7,318.6 809.6,319.9 808.1,321.0 807.3,322.0 805.4,322.5 804.2,323.0 803.1,323.5 800.8,324.0 799.8,324.4 796.9,323.9 796.6,324.9 794.6,324.1 792.5,323.1 791.5,324.1 789.2,321.9 789.3,322.3 787.3,320.5 785.4,319.2 785.5,319.4 783.1,317.1 782.7,316.4 782.2,315.1 781.2,313.2 781.1,312.2 779.9,310.5 779.6,308.0 778.3,307.3 778.3,305.9 777.9,304.4 777.9,303.3 775.2,301.6 775.2,301.8 772.5,300.1 771.6,300.2 773.1,300.4 775.1,300.7 776.9,300.7"/>
<polygon fill="#FFC200" points="808.4,261.3 809.4,260.9 811.7,261.2 812.4,261.3 814.7,261.7 816.9,262.4 817.3,261.9 819.7,262.1 821.0,262.6 823.3,262.6 823.8,261.9 825.5,260.9 827.2,260.5 829.4,261.5 830.1,261.9 831.9,260.9 833.5,260.5 835.6,261.5 835.9,261.8 838.7,260.9 839.6,261.6 841.2,262.3 842.8,261.9 844.5,262.3 845.6,262.7 846.1,265.0 847.6,265.7 847.8,266.9 848.2,269.2 848.0,270.6 848.6,271.8 849.0,274.3 850.1,274.2 852.0,275.0 851.3,275.6 849.1,276.4 847.2,277.1 846.1,277.9 844.0,278.8 842.7,279.6 842.5,281.0 841.5,282.8 840.8,283.5 841.7,286.0 840.6,287.3 840.0,289.0 839.6,289.9 838.4,292.1 837.2,293.9 836.2,294.4 833.7,295.0 832.3,294.8 829.9,294.7 829.0,295.6 827.5,296.3 826.1,297.6 825.2,299.4 823.1,298.5 821.7,298.2 820.2,298.1 818.8,297.9 816.5,297.8 814.9,298.9 812.4,299.4 811.1,299.9 808.7,300.3 807.7,300.7 805.7,301.1 804.9,301.1 802.7,299.7 800.5,300.2 803.4,299.7 804.9,298.7 807.4,297.7 808.4,296.7 810.7,295.7 809.8,294.0 809.1,293.4 808.7,290.8 808.4,288.5 808.2,287.4 806.8,286.6 806.5,284.6 806.2,282.1 806.1,281.6 806.8,278.7 806.7,278.2 806.1,275.8 807.1,274.3 806.9,273.1 806.7,270.5 806.8,270.3 807.9,267.3 806.9,267.3 807.4,264.2 807.4,264.1"/>
<polygon fill="#FF6633" points="800.5,300.2 802.7,299.7 804.9,301.1 805.7,301.1 807.7,300.7 808.7,300.3 811.1,299.9 812.4,299.4 814.9,298.9 816.5,297.8 818.8,297.9 820.2,298.1 821.7,298.2 823.1,298.5 825.2,299.4 824.2,299.5 823.0,300.9 822.1,303.0 821.2,304.4 819.8,305.3 818.2,305.9 817.0,306.7 816.2,307.7 814.6,309.4 812.6,310.9 811.1,312.0 810.8,309.4 809.6,308.8 810.4,307.4 809.4,305.4 809.4,304.0 806.9,303.0 805.3,302.0 802.6,301.1"/>
<polygon fill="#FDFBB0" points="826.0,248.0 827.4,246.9 828.4,244.5 828.6,243.2 829.3,242.8 831.7,242.4 833.1,243.7 834.5,244.5 836.5,245.0 837.9,247.2 838.5,247.0 840.4,248.5 841.6,249.8 842.6,250.2 844.7,249.6 846.4,249.4 848.7,249.5 850.1,249.3 852.5,248.3 853.8,247.4 856.1,246.7 857.6,245.9 858.7,244.5 859.4,242.7 860.6,241.7 862.2,241.1 859.5,238.7 862.2,238.0 863.7,237.6 866.2,236.9 867.3,236.1 868.7,238.1 868.9,238.7 870.0,240.4 870.4,241.9 871.1,242.4 871.8,244.2 872.3,245.5 873.5,246.3 873.7,248.5 875.2,249.8 874.3,251.2 874.2,252.4 873.2,254.4 872.0,255.4 871.8,255.7 871.2,258.0 869.8,259.7 869.3,260.1 869.0,261.6 867.6,263.0 866.8,264.3 866.6,266.1 865.5,266.6 864.3,267.6 864.1,270.2 863.3,271.0 861.9,271.6 861.5,273.5 861.1,274.7 859.7,276.1 858.1,275.4 857.5,275.4 854.5,275.1 853.7,275.1 852.3,273.9 849.8,274.3 849.0,274.3 848.6,271.8 848.0,270.6 848.2,269.2 847.8,266.9 847.6,265.7 846.1,265.0 845.6,262.7 844.5,262.3 842.8,261.9 841.2,262.3 839.6,261.6 838.7,260.9 835.9,261.8 834.5,259.3 833.7,257.1 833.1,256.2 830.7,256.0 829.8,254.2 829.0,252.9 827.5,251.9 827.4,249.9"/>
<polygon fill="#FFC200" points="901.7,209.0 904.6,207.6 906.0,206.2 907.0,205.3 907.0,207.3 907.0,208.7 910.0,210.0 908.5,207.6 908.1,206.2 907.0,204.7 909.3,204.3 910.6,203.7 910.0,201.8 909.1,200.8 910.6,199.3 913.5,198.4 914.0,196.8 915.0,196.2 916.4,194.7 916.6,193.6 917.1,192.0 918.4,191.9 920.7,191.7 921.0,191.6 923.2,191.6 924.7,191.4 926.7,191.0 927.2,190.9 929.3,191.1 931.0,191.1 932.7,190.6 933.4,190.1 935.3,190.2 937.3,190.6 938.6,190.5 939.7,189.8 939.9,191.8 940.2,192.7 940.0,194.9 939.9,195.7 939.7,197.9 940.7,198.8 939.5,200.7 939.9,202.1 940.7,203.4 939.4,205.3 940.2,206.2 940.2,208.6 939.9,209.1 939.9,211.6 940.0,212.1 940.5,214.5 939.3,215.4 940.3,217.2 940.3,218.7 939.3,219.9 940.5,222.1 940.0,222.6 939.9,225.3 939.9,225.5 940.2,228.3 940.2,228.7 939.4,231.0 940.7,232.0 939.9,233.7 939.5,235.5 940.6,236.3 939.7,238.8 939.9,239.0 940.0,242.0 940.2,242.0 939.9,244.9 939.7,245.3 940.7,247.5 939.4,248.7 939.9,250.1 940.6,252.2 939.5,252.7 940.1,255.5 940.1,255.5 940.1,258.6 939.7,258.6 940.0,261.4 940.5,261.9 939.2,264.0 940.4,265.4 940.3,266.5 939.4,268.9 940.4,269.2 940.0,272.1 940.0,272.1 939.8,275.1 940.3,275.3 940.2,277.9 939.3,278.7 940.7,280.4 939.8,282.1 939.6,283.0 940.5,285.5 939.8,285.7 940.0,288.7 939.9,288.7 940.4,291.6 939.8,292.0 939.7,294.3 940.8,295.4 939.4,296.9 940.0,298.8 940.5,299.5 938.3,299.8 937.0,299.4 935.9,298.5 933.6,299.0 933.2,297.8 930.6,297.8 930.0,297.6 928.1,296.6 926.6,296.9 925.6,296.0 923.3,295.8 922.8,295.7 920.4,294.8 919.6,294.9 917.8,294.3 916.3,293.9 915.2,293.7 913.1,293.0 912.4,292.9 910.2,292.4 909.2,292.0 907.6,291.7 905.9,291.3 904.9,290.9 902.9,290.5 901.9,290.2 900.0,289.7 898.8,289.5 897.3,289.0 895.6,288.6 894.5,288.4 892.7,287.7 891.5,287.6 889.8,287.1 888.4,286.6 886.9,286.6 885.4,285.7 884.0,285.7 882.5,285.3 881.0,284.5 879.5,284.9 878.1,283.8 876.6,283.8 875.2,283.6 873.6,282.5 872.3,283.0 870.6,281.9 869.1,281.8 867.3,280.4 866.7,280.4 865.8,278.1 865.8,277.3 866.1,275.3 866.1,274.1 866.0,272.5 865.6,270.9 866.7,269.7 865.7,267.7 867.7,266.5 869.2,265.6 869.7,265.1 870.1,264.6 871.4,263.8 873.4,262.4 875.2,260.8 876.0,259.3 876.4,258.3 877.3,257.7 878.5,257.0 879.9,255.3 880.6,254.4 881.0,253.0 882.0,250.6 883.5,249.7 884.5,248.9 885.0,247.2 885.7,246.4 887.0,245.1 888.0,242.7 888.3,241.9 889.1,241.3 890.5,239.5 891.2,238.2 891.4,236.8 892.2,234.7 891.8,232.6 890.3,231.2 889.4,230.3 888.8,228.1 889.4,227.4 888.2,225.2 889.2,224.0 889.0,222.2 888.2,220.6 889.9,219.9 891.7,219.2 892.7,218.4 894.9,217.6 896.6,217.2 899.0,217.4 899.8,217.2 902.1,216.3 902.3,215.0 902.8,213.8 902.6,211.5"/>
<polygon fill="#FFC200" points="870.8,215.2 871.9,214.3 873.8,213.4 874.7,212.7 877.1,212.0 878.5,212.4 879.6,213.2 881.0,212.9 883.0,211.8 883.6,214.1 885.1,215.5 884.0,217.1 882.8,217.9 880.2,218.5 880.1,221.3 881.6,220.4 884.0,220.2 885.6,220.8 887.7,221.0 888.2,220.6 889.0,222.2 889.2,224.0 888.2,225.2 889.4,227.4 888.8,228.1 889.4,230.3 890.3,231.2 891.8,232.6 892.2,234.7 891.4,236.8 889.9,238.0 888.7,238.7 888.0,239.7 887.3,241.2 886.0,242.8 884.2,243.9 882.4,244.3 880.4,243.6 880.1,243.5 877.1,243.4 876.3,243.2 874.7,243.4 873.1,242.9 872.3,241.6 871.1,240.2 870.7,239.9 868.7,238.2 869.4,235.9 867.7,235.0 868.3,233.2 868.0,230.9 867.4,230.2 866.3,228.2 865.9,227.3 864.8,226.2 865.5,223.4 867.0,221.5 868.4,221.4 870.5,220.9 871.7,220.0 871.8,218.8 870.6,217.7"/>
<polygon fill="#FFC200" points="869.7,204.3 871.9,203.5 873.3,202.7 875.5,202.1 877.0,202.4 878.5,202.6 880.6,202.0 881.6,201.7 883.7,200.4 885.3,202.7 886.6,202.0 888.1,204.0 889.2,205.0 890.4,206.2 890.6,208.3 892.3,209.9 892.9,210.7 894.8,210.9 896.9,211.0 898.1,210.4 900.6,209.7 901.7,209.0 902.6,211.5 902.8,213.8 902.3,215.0 902.1,216.3 899.8,217.2 899.0,217.4 896.6,217.2 894.9,217.6 892.7,218.4 891.7,219.2 889.9,219.9 888.2,220.6 887.7,221.0 885.6,220.8 884.0,220.2 881.6,220.4 880.1,221.3 880.2,218.5 882.8,217.9 884.0,217.1 885.1,215.5 883.6,214.1 883.0,211.8 881.0,212.9 879.6,213.2 878.5,212.4 877.1,212.0 874.7,212.7 873.8,213.4 871.9,214.3 870.8,215.2 871.2,213.3 871.4,212.5 870.9,210.1 871.4,209.7 872.1,207.0 870.5,205.9"/>
<polygon fill="#FFC200" points="851.3,202.3 854.1,203.4 856.6,203.6 857.5,203.1 859.2,203.0 860.0,202.8 862.4,202.4 864.0,201.9 866.7,202.7 867.8,203.1 869.3,202.5 870.9,204.3 871.5,204.5 873.3,205.7 872.0,208.2 872.5,208.6 872.8,211.7 872.2,212.2 872.5,214.6 872.6,216.0 871.5,217.4 871.7,220.0 870.5,220.9 868.4,221.4 867.0,221.5 865.5,223.4 864.8,226.2 864.2,225.8 862.3,224.8 860.9,225.2 858.4,226.2 858.3,224.2 856.6,223.3 856.5,222.0 855.1,220.2 854.8,219.6 852.8,220.5 851.5,221.2 850.7,221.9 851.2,220.3 850.9,219.3 851.3,216.4 852.4,214.9 851.4,213.4 852.0,211.2 853.3,209.5 852.4,207.5 852.7,205.2 852.3,204.8"/>
<polygon fill="#FFC200" points="836.6,221.5 836.0,220.8 836.4,218.3 836.2,216.9 837.5,215.4 836.6,213.2 838.6,214.6 839.7,215.3 840.4,215.8 842.8,217.8 843.7,218.2 844.5,219.2 846.3,221.6 848.4,222.2 850.7,221.9 851.5,221.2 852.8,220.5 854.8,219.6 855.1,220.2 856.5,222.0 856.6,223.3 858.3,224.2 858.4,226.2 860.9,225.2 862.3,224.8 864.2,225.8 864.8,226.2 866.7,226.1 865.7,226.3 863.5,226.8 862.3,227.5 860.4,228.3 858.9,229.2 858.6,229.9 856.4,230.6 855.1,231.4 853.5,232.1 853.1,233.6 853.3,235.7 854.0,236.7 852.9,239.8 853.6,240.0 853.4,242.9 853.0,243.7 852.1,245.7 851.2,246.8 850.1,249.3 848.7,249.5 846.4,249.4 844.7,249.6 842.6,250.2 841.6,249.8 840.4,248.5 838.5,247.0 837.9,247.2 836.5,245.0 834.5,244.5 835.8,243.3 835.6,241.2 835.6,240.5 835.3,237.7 836.1,237.5 835.9,234.4 835.2,234.3 836.5,231.4 835.7,230.9 835.9,228.6 835.8,227.4 836.5,225.5 835.3,223.9"/>
<polygon fill="#FFC200" points="853.5,232.1 855.1,231.4 856.4,230.6 858.6,229.9 859.1,229.2 860.7,228.4 862.3,227.7 863.2,226.9 865.6,226.1 867.0,226.6 867.3,229.1 867.2,230.6 866.3,232.5 867.0,234.1 867.3,236.1 866.2,236.9 863.7,237.6 862.2,238.0 859.5,238.7 862.2,241.1 860.6,241.7 859.4,242.7 858.7,244.5 857.6,245.9 856.1,246.7 853.8,247.4 852.5,248.3 850.1,249.3 851.2,246.8 852.1,245.7 853.0,243.7 853.4,242.9 853.6,240.0 852.9,239.8 854.0,236.7 853.3,235.7 853.1,233.6"/>
<polygon fill="#FFC200" points="781.3,205.0 783.5,204.8 784.1,204.7 786.3,205.9 787.4,205.8 790.1,204.9 790.8,203.9 792.2,203.3 793.6,204.1 796.1,204.8 796.8,204.0 798.7,205.8 799.0,206.4 800.6,208.1 800.7,208.7 801.6,209.4 800.5,212.4 799.4,213.3 798.4,215.3 797.4,217.3 797.7,218.6 798.3,220.1 797.6,222.5 799.0,224.4 800.0,225.2 800.6,227.1 799.7,227.7 798.6,228.3 796.9,228.7 795.9,229.1 793.3,229.6 792.1,230.2 791.0,230.7 789.7,230.9 788.0,230.7 785.7,230.6 785.4,231.1 783.4,231.8 782.2,232.1 780.9,230.4 781.6,228.0 781.4,227.8 780.2,225.7 780.5,223.8 781.5,222.5 782.6,221.8 783.8,221.4 784.8,220.6 785.1,218.1 783.7,216.2 783.3,215.6 783.0,213.8 783.0,212.6 782.9,210.5 781.4,209.2 782.0,208.6 781.6,205.7"/>
<polygon fill="#FFC200" points="800.5,212.4 803.2,211.5 804.7,210.8 805.8,213.1 806.4,215.3 807.4,216.3 807.4,217.9 807.8,219.4 808.1,220.7 810.2,222.3 811.7,221.4 813.1,223.3 814.8,222.8 816.4,222.2 818.5,221.7 819.6,221.1 821.4,221.8 824.3,222.3 825.0,223.5 826.4,222.6 828.0,221.1 829.1,219.5 829.4,218.5 831.3,218.4 832.4,218.6 834.7,218.6 835.2,220.5 836.6,221.5 835.3,223.9 836.5,225.5 835.8,227.4 835.9,228.6 835.7,230.9 836.5,231.4 835.2,234.3 835.9,234.4 836.1,237.5 835.3,237.7 835.6,240.5 835.6,241.2 835.8,243.3 834.5,244.5 833.1,243.7 831.7,242.4 829.3,242.8 828.6,243.2 826.5,242.7 824.7,242.7 824.6,241.3 821.9,240.7 821.6,240.0 819.8,238.9 817.9,237.9 816.3,238.7 813.9,239.5 813.0,240.2 811.6,241.0 812.1,241.8 810.7,243.5 810.7,245.2 809.6,246.4 808.6,247.0 808.3,248.9 807.5,250.9 806.1,251.4 805.4,251.8 804.2,250.9 803.8,249.6 802.1,247.5 801.5,247.2 801.1,246.2 799.0,243.8 797.8,243.2 796.8,242.5 795.4,240.3 795.3,239.1 793.8,237.5 793.8,235.3 794.9,234.7 796.2,233.8 797.5,232.1 798.4,231.0 798.9,230.5 799.5,229.0 800.6,227.1 800.0,225.2 799.0,224.4 797.6,222.5 798.3,220.1 797.7,218.6 797.4,217.3 798.4,215.3 799.4,213.3"/>
<polygon fill="#FFC200" points="795.7,196.3 797.9,197.5 798.2,197.6 800.9,196.5 802.2,197.3 804.5,195.3 805.8,194.3 806.8,196.6 806.9,197.8 808.4,199.0 808.4,201.0 808.8,203.4 810.5,203.1 811.3,205.0 814.1,204.4 814.9,203.8 817.3,203.0 818.5,201.9 821.0,201.0 822.5,200.9 823.5,202.7 823.5,204.4 825.3,204.4 827.6,205.9 829.2,207.2 830.2,206.9 833.2,209.1 833.9,209.7 834.2,210.1 835.9,211.8 836.7,212.5 838.7,214.7 837.2,215.3 838.6,217.5 837.5,219.5 836.7,220.3 836.6,221.5 835.2,220.5 834.7,218.6 832.4,218.6 831.3,218.4 829.4,218.5 829.1,219.5 828.0,221.1 826.4,222.6 825.0,223.5 824.3,222.3 821.4,221.8 819.6,221.1 818.5,221.7 816.4,222.2 814.8,222.8 813.1,223.3 811.7,221.4 810.2,222.3 808.1,220.7 807.8,219.4 807.4,217.9 807.4,216.3 806.4,215.3 805.8,213.1 804.7,210.8 803.2,211.5 800.7,211.3 799.5,211.0 799.2,209.3 796.7,208.4 795.5,207.5 795.4,205.6 796.5,204.9 795.3,202.3 795.8,202.1 796.0,199.2 795.8,199.1"/>
<polygon fill="#FF6633" points="822.5,200.9 826.0,200.4 826.8,199.4 827.9,198.5 829.8,197.5 830.8,196.6 832.0,195.7 834.6,195.2 835.7,195.0 838.2,194.4 839.2,193.9 840.4,193.4 842.0,193.0 842.9,192.5 845.9,192.9 847.0,193.4 847.9,192.9 849.6,194.8 849.8,195.9 851.1,197.5 851.1,200.0 851.6,200.1 851.3,202.3 852.3,204.8 852.7,205.2 852.4,207.5 853.3,209.5 852.0,211.2 851.4,213.4 852.4,214.9 851.3,216.4 850.9,219.3 851.2,220.3 850.7,221.9 848.4,222.2 846.3,221.6 844.5,219.2 843.7,218.2 842.8,217.8 840.3,215.8 839.2,214.6 838.7,214.7 836.7,212.5 835.9,211.8 834.2,210.1 833.9,209.7 833.2,209.1 830.2,206.9 829.2,207.2 827.6,205.9 825.3,204.4 823.5,204.4 823.5,202.7"/>
<polygon fill="#FFC200" points="803.5,194.2 805.5,193.8 806.4,193.2 808.2,192.7 810.5,192.1 811.5,191.4 813.4,190.7 813.2,187.9 813.5,186.1 814.8,184.1 814.5,182.8 814.4,181.8 814.6,179.1 815.4,178.7 818.1,177.8 819.3,176.9 820.3,175.4 823.0,175.7 824.5,176.0 825.6,176.0 828.1,178.2 830.6,178.5 830.9,178.8 833.4,179.0 834.5,179.4 835.6,179.4 834.8,180.4 834.7,183.1 833.7,184.0 832.8,185.7 832.9,186.5 832.9,189.1 831.6,190.6 831.2,192.6 832.2,194.5 832.0,195.7 830.8,196.6 829.8,197.5 827.9,198.5 826.8,199.4 826.0,200.4 822.5,200.9 821.0,201.0 818.5,201.9 817.3,203.0 814.9,203.8 814.1,204.4 811.3,205.0 810.5,203.1 808.8,203.4 808.4,201.0 808.4,199.0 806.9,197.8 806.8,196.6 805.8,194.3"/>
<polygon fill="#FFC200" points="835.6,179.4 837.8,179.1 839.5,178.9 840.2,178.8 842.0,178.6 843.3,178.2 845.4,177.3 846.9,175.7 847.8,174.2 849.0,173.3 851.3,172.9 852.9,172.2 855.0,171.5 856.4,172.0 857.9,171.6 860.4,173.4 861.7,173.5 862.3,175.3 862.9,176.9 862.7,178.2 862.1,181.0 861.6,183.1 862.7,185.0 860.8,185.1 858.8,185.4 858.0,185.7 856.2,186.1 855.3,186.3 852.5,186.4 851.5,186.7 849.4,187.3 850.0,189.2 849.3,189.8 849.4,192.8 847.9,192.9 847.0,193.4 845.9,192.9 842.9,192.5 842.0,193.0 840.4,193.4 839.2,193.9 838.2,194.4 835.7,195.0 834.6,195.2 832.0,195.7 832.2,194.5 831.2,192.6 831.6,190.6 832.9,189.1 832.9,186.5 832.8,185.7 833.7,184.0 834.7,183.1 834.8,180.4"/>
<polygon fill="#FFC200" points="802.5,168.9 803.7,168.3 805.2,167.8 807.1,167.7 808.9,167.5 810.4,167.4 812.2,169.6 815.0,169.5 815.8,169.0 817.9,168.5 817.9,169.5 819.3,171.2 819.5,173.5 820.3,175.4 819.3,176.9 818.1,177.8 815.4,178.7 814.6,179.1 812.0,180.0 811.0,181.0 809.7,181.5 808.3,181.5 806.7,181.1 804.3,181.0 804.8,180.4 804.2,179.0 804.4,177.1 803.1,175.7 803.4,174.0 803.2,171.7 802.2,170.6"/>
<polygon fill="#FFC200" points="812.6,144.7 814.4,146.2 814.4,147.2 815.9,148.7 818.3,150.2 819.3,151.1 820.1,152.1 822.4,153.2 824.2,152.6 825.0,153.0 826.9,153.7 828.7,153.2 830.2,152.4 831.2,152.2 833.0,152.4 834.7,152.7 836.9,152.5 838.5,151.2 840.6,149.9 842.2,151.7 843.6,151.4 844.0,153.8 844.6,155.1 843.7,156.4 845.0,159.1 845.3,159.0 847.2,160.5 849.0,162.2 850.6,161.1 852.0,161.9 852.8,163.2 853.7,165.4 855.5,166.2 857.0,167.3 857.7,168.8 857.0,169.9 856.4,172.0 855.0,171.5 852.9,172.2 851.3,172.9 849.0,173.3 847.8,174.2 846.9,175.7 845.4,177.3 843.3,178.2 842.0,178.6 840.2,178.8 839.5,178.9 837.8,179.1 835.6,179.4 834.5,179.4 833.4,179.0 830.9,178.8 830.6,178.5 828.1,178.2 825.6,176.0 824.5,176.0 823.0,175.7 820.3,175.4 819.5,173.5 819.3,171.2 817.9,169.5 817.9,168.5 817.7,166.4 817.2,164.4 815.7,162.9 817.0,162.2 816.4,159.8 816.6,159.1 816.5,156.7 814.9,155.2 814.4,154.0 813.7,152.5 812.1,152.1 811.2,151.0 810.3,148.9 810.6,147.3 809.1,145.7 811.5,145.1"/>
<polygon fill="#663300" points="814.4,110.4 816.4,109.8 817.0,109.6 818.9,110.3 820.7,110.4 821.9,109.7 823.1,109.7 825.4,110.4 826.4,110.3 827.6,109.5 829.6,109.7 831.2,110.5 832.0,110.2 834.0,109.4 835.8,109.9 836.7,110.6 838.3,110.0 840.4,109.4 841.4,110.0 842.6,110.6 844.8,109.9 846.1,109.4 845.3,112.2 846.7,112.3 845.7,115.3 845.8,115.5 846.1,118.1 846.1,118.9 845.9,120.7 845.6,122.3 846.7,123.5 845.4,125.6 845.9,126.4 846.5,128.7 845.4,129.4 846.1,131.6 845.9,132.6 846.1,134.5 845.6,135.8 846.0,137.5 845.8,139.2 845.1,140.5 845.3,142.5 845.6,143.7 844.8,145.8 844.5,146.7 844.1,148.8 844.9,150.3 843.6,151.4 842.2,151.7 840.6,149.9 838.5,151.2 836.9,152.5 834.7,152.7 833.0,152.4 831.2,152.2 830.2,152.4 828.7,153.2 826.9,153.7 825.0,153.0 824.2,152.6 822.4,153.2 820.1,152.1 819.3,151.1 818.3,150.2 815.9,148.7 814.4,147.2 814.4,146.2 812.6,144.7 812.8,143.7 812.9,141.5 812.3,140.3 813.5,138.4 813.1,136.6 813.5,135.3 813.4,132.8 814.6,132.0 813.6,129.8 814.1,128.8 814.0,126.9 815.1,125.5 813.7,124.0 814.6,122.4 814.7,120.7 814.0,119.5 814.6,117.4 814.4,116.7 814.6,114.1 813.9,113.7 814.9,111.0"/>
<polygon fill="#663300" points="846.1,109.4 847.2,110.2 849.0,110.7 851.1,109.7 851.7,109.3 853.7,110.3 855.4,110.7 857.1,109.6 857.6,109.3 860.3,110.4 861.4,110.6 863.0,109.6 863.9,109.4 866.8,110.4 865.6,111.2 865.8,113.4 866.3,114.5 865.8,116.1 865.9,118.0 865.7,118.8 866.5,121.4 865.3,121.6 866.0,124.7 866.3,124.6 865.2,127.6 866.1,128.0 865.8,130.4 865.9,131.4 865.4,133.1 866.2,134.8 865.9,135.9 865.1,138.0 866.5,139.0 865.4,141.1 865.6,142.2 865.9,144.0 864.2,144.9 862.7,146.6 861.6,148.1 860.8,148.7 859.7,149.8 858.3,151.5 856.6,153.1 855.4,153.8 854.0,155.6 854.2,157.9 854.4,160.3 850.6,161.1 849.0,162.2 847.2,160.5 845.3,159.0 845.0,159.1 843.7,156.4 844.6,155.1 844.0,153.8 843.6,151.4 844.9,150.3 844.1,148.8 844.5,146.7 844.8,145.8 845.6,143.7 845.3,142.5 845.1,140.5 845.8,139.2 846.0,137.5 845.6,135.8 846.1,134.5 845.9,132.6 846.1,131.6 845.4,129.4 846.5,128.7 845.9,126.4 845.4,125.6 846.7,123.5 845.6,122.3 845.9,120.7 846.1,118.9 846.1,118.1 845.8,115.5 845.7,115.3 846.7,112.3 845.3,112.2"/>
<polygon fill="#FF6633" points="866.8,110.4 867.1,110.5 869.1,109.5 870.4,109.6 872.6,110.5 872.8,110.3 875.5,109.5 876.5,109.7 878.2,110.5 879.1,110.2 881.9,109.5 882.1,109.9 884.2,110.5 885.6,110.1 887.6,109.6 887.9,110.0 890.7,110.4 891.6,109.9 893.2,109.6 894.2,110.1 897.0,110.3 897.1,109.9 899.3,109.7 900.7,110.1 902.6,110.2 903.0,109.9 905.9,109.9 906.7,110.1 908.3,110.1 909.5,109.9 912.0,109.9 912.2,110.1 914.4,110.0 915.9,110.0 917.6,110.0 918.2,110.0 920.9,110.0 921.8,110.1 923.3,110.0 924.7,109.9 927.0,110.0 927.4,110.2 929.5,110.0 931.1,109.8 932.5,110.0 933.4,110.2 936.0,109.9 936.9,109.7 938.3,110.1 940.0,110.3 940.5,111.0 939.6,113.6 940.1,113.9 940.0,116.7 940.3,117.0 939.6,119.5 940.1,120.2 940.5,122.2 939.2,123.6 940.5,124.9 940.2,126.9 939.6,127.7 940.3,130.1 940.0,130.6 940.1,133.1 939.6,133.8 940.4,135.9 940.1,137.0 939.3,138.7 940.8,140.3 939.7,141.5 939.7,143.5 940.4,144.4 939.9,146.5 940.0,147.5 939.8,149.5 940.5,150.6 939.6,152.4 939.8,153.7 940.7,155.3 939.3,156.9 940.1,158.2 940.3,159.9 939.8,161.2 940.0,162.9 940.0,164.3 940.4,165.9 939.4,167.4 940.2,168.9 940.4,170.4 939.2,171.9 940.5,173.3 940.0,175.0 939.7,176.3 940.1,178.1 940.1,179.3 940.1,181.1 939.5,182.3 940.6,184.1 939.9,185.4 939.4,186.9 940.7,188.6 939.7,189.8 938.6,190.5 937.3,190.6 935.3,190.2 933.4,190.1 932.7,190.6 931.0,191.1 929.3,191.1 927.2,190.9 926.7,191.0 924.7,191.4 923.2,191.6 921.0,191.6 920.7,191.7 918.4,191.9 917.1,192.0 916.6,193.6 916.4,194.7 915.0,196.2 914.0,196.8 913.5,198.4 910.6,199.3 909.1,200.8 910.0,201.8 910.6,203.7 909.3,204.3 907.0,204.7 908.1,206.2 908.5,207.6 910.0,210.0 907.0,208.7 907.0,207.3 907.0,205.3 906.0,206.2 904.6,207.6 901.7,209.0 900.6,209.7 898.1,210.4 896.9,211.0 894.8,210.9 892.9,210.7 892.3,209.9 890.6,208.3 890.4,206.2 889.2,205.0 888.1,204.0 886.6,202.0 885.3,202.7 883.7,200.4 884.0,200.4 884.2,197.7 883.4,196.3 882.9,195.3 883.8,192.9 884.8,192.1 885.7,189.9 884.8,188.6 885.2,186.3 882.6,185.4 881.7,185.5 880.2,184.5 878.1,184.8 877.2,185.3 876.1,185.8 873.9,186.0 872.5,186.1 870.9,185.6 869.8,186.1 867.6,186.0 865.8,184.8 865.1,185.2 862.7,185.0 861.6,183.1 862.1,181.0 862.7,178.2 862.9,176.9 862.3,175.3 861.7,173.5 860.4,173.4 857.9,171.6 856.4,172.0 857.0,169.9 857.7,168.8 857.0,167.3 855.5,166.2 853.7,165.4 852.8,163.2 852.0,161.9 850.6,161.1 854.4,160.3 854.2,157.9 854.0,155.6 855.4,153.8 856.6,153.1 858.3,151.5 859.7,149.8 860.8,148.7 861.6,148.1 862.7,146.6 864.2,144.9 865.9,144.0 865.6,142.2 865.4,141.1 866.5,139.0 865.1,138.0 865.9,135.9 866.2,134.8 865.4,133.1 865.9,131.4 865.8,130.4 866.1,128.0 865.2,127.6 866.3,124.6 866.0,124.7 865.3,121.6 866.5,121.4 865.7,118.8 865.9,118.0 865.8,116.1 866.3,114.5 865.8,113.4 865.6,111.2"/>
<polygon fill="#FF6633" points="849.4,187.3 851.5,186.7 852.5,186.4 855.3,186.3 856.2,186.1 858.0,185.7 858.8,185.4 860.8,185.1 862.7,185.0 865.1,185.2 865.8,184.8 867.6,186.0 869.8,186.1 870.9,185.6 872.5,186.1 873.9,186.0 876.1,185.8 877.2,185.3 878.1,184.8 880.2,184.5 881.7,185.5 882.6,185.4 885.2,186.3 884.8,188.6 885.7,189.9 884.8,192.1 883.8,192.9 882.9,195.3 883.4,196.3 884.2,197.7 884.0,200.4 883.7,200.4 881.6,201.7 880.6,202.0 878.5,202.6 877.0,202.4 875.5,202.1 873.0,202.7 871.7,203.5 868.9,203.5 867.7,203.4 865.4,203.9 864.1,204.7 862.4,204.9 861.1,204.9 859.2,204.9 857.4,205.1 855.3,205.5 854.4,204.4 853.6,203.4 851.3,202.3 851.6,200.1 851.1,200.0 851.1,197.5 849.8,195.9 849.6,194.8 847.9,192.9 849.4,192.8 849.3,189.8 850.0,189.2"/>
<polygon fill="#FDFBB0" points="712.5,180.5 715.5,180.6 716.3,181.4 717.7,181.5 720.2,180.7 721.3,182.2 722.9,182.2 724.3,181.5 726.1,183.1 726.9,182.8 729.3,182.4 730.0,183.9 731.8,183.4 733.3,184.8 734.7,184.6 735.6,186.8 738.2,186.0 738.5,186.9 739.9,184.7 741.5,183.5 743.2,182.7 744.6,183.5 745.7,184.2 748.4,185.4 750.9,186.1 751.2,187.8 752.4,188.8 753.2,189.2 753.8,191.2 754.9,188.4 756.0,187.5 758.8,187.7 759.4,188.5 761.3,188.4 762.0,187.8 764.5,186.9 765.8,186.8 767.4,188.2 769.0,187.7 771.3,186.9 772.3,186.2 773.9,185.4 775.7,184.7 776.2,184.5 778.5,186.0 779.9,186.9 781.5,187.9 782.5,189.1 783.8,189.8 785.0,190.8 786.2,191.9 789.1,193.0 790.4,193.2 791.8,195.0 793.0,194.5 794.6,196.8 795.7,196.3 795.8,199.1 796.0,199.2 795.8,202.1 795.3,202.3 796.5,204.9 795.4,205.6 795.5,207.5 794.0,207.4 791.9,206.3 790.9,206.9 788.8,206.0 786.3,205.9 784.8,206.6 783.5,207.2 782.8,207.7 781.7,208.4 779.2,207.8 777.7,207.0 775.9,206.0 775.2,205.4 773.0,205.4 771.2,205.6 769.8,206.0 768.0,206.7 767.6,207.6 765.5,208.5 764.0,209.2 762.6,207.1 761.3,206.4 759.9,205.5 758.2,205.8 756.8,206.0 756.3,206.2 753.7,206.5 752.1,206.6 750.9,205.6 748.6,204.8 747.0,205.5 745.6,204.4 743.7,204.3 742.1,203.5 739.6,203.9 738.7,204.5 736.3,205.3 735.1,204.7 733.4,204.5 731.2,202.4 729.5,202.7 727.5,201.0 727.1,200.6 724.1,200.5 722.3,199.2 721.8,199.1 720.3,197.8 720.4,196.2 720.3,194.2 720.1,193.2 719.4,191.3 718.4,189.1 717.1,187.4 716.9,186.5 715.4,184.9 714.5,182.8 714.1,181.5"/>
<polygon fill="#663300" points="753.8,191.2 754.7,189.7 753.8,188.6 753.4,186.1 752.6,185.0 752.7,184.4 752.9,181.5 754.2,181.1 754.6,180.6 756.1,180.0 757.8,179.4 758.9,178.6 760.6,177.8 762.7,176.9 763.8,174.4 764.5,175.2 766.4,176.8 767.7,176.8 768.9,178.6 770.3,177.0 771.5,175.4 772.5,174.3 773.5,173.6 775.1,172.7 777.6,172.3 778.2,171.9 780.1,171.9 782.1,173.0 784.2,173.3 786.4,175.3 787.0,173.7 788.4,173.0 789.4,171.2 789.6,169.0 789.6,168.5 790.3,166.4 790.5,163.9 791.6,162.6 795.6,162.4 796.7,162.8 798.8,162.3 801.9,162.4 803.0,165.3 801.9,166.3 802.5,168.9 802.2,170.6 803.2,171.7 803.4,174.0 803.1,175.7 804.4,177.1 804.2,179.0 804.8,180.4 804.3,181.0 806.7,181.1 808.3,181.5 809.7,181.5 811.0,181.0 812.0,180.0 814.6,179.1 814.4,181.8 814.5,182.8 814.8,184.1 814.1,186.6 814.9,187.7 814.1,189.7 813.6,191.4 812.6,191.9 810.3,192.4 809.4,193.0 807.1,193.6 805.8,194.3 804.5,195.3 802.2,197.3 800.9,196.5 798.2,197.6 797.9,197.5 795.7,196.3 794.6,196.8 793.0,194.5 791.8,195.0 790.4,193.2 789.1,193.0 786.2,191.9 785.0,190.8 783.8,189.8 782.5,189.1 781.5,187.9 779.9,186.9 778.5,186.0 776.2,184.5 775.7,184.7 773.9,185.4 772.3,186.2 771.3,186.9 769.0,187.7 767.4,188.2 765.8,186.8 764.5,186.9 762.0,187.8 761.3,188.4 759.4,188.5 758.8,187.7 756.0,187.5 754.9,188.4"/>
<polygon fill="#FFC200" points="718.1,156.5 718.5,156.4 720.9,156.4 722.7,158.0 723.3,157.4 726.0,158.2 728.6,158.3 728.9,160.0 731.3,159.0 732.4,161.0 733.6,160.3 736.3,161.0 736.7,161.7 738.8,161.8 739.3,163.1 739.2,166.2 740.9,166.7 741.8,167.1 743.1,169.2 743.6,169.7 745.8,170.9 746.1,169.5 746.8,168.2 748.2,167.1 749.2,165.6 750.4,164.0 752.1,163.1 751.9,160.9 752.3,159.1 751.0,159.0 750.2,158.8 747.1,158.5 746.8,157.4 744.7,158.2 743.1,156.8 742.5,156.8 743.4,156.1 745.1,155.4 746.9,154.6 747.3,153.7 749.1,152.8 750.6,152.0 751.8,151.2 754.3,150.4 755.3,150.1 757.8,150.7 758.9,151.2 759.5,153.5 762.3,153.3 764.0,154.5 765.8,156.3 766.4,156.8 768.9,157.2 769.6,159.5 770.2,160.4 770.9,162.6 770.3,164.2 769.2,165.2 767.6,165.9 765.7,167.2 764.4,168.7 763.4,170.5 762.7,171.6 762.7,174.3 763.8,174.4 762.7,176.9 760.6,177.8 758.9,178.6 757.8,179.4 756.1,180.0 754.6,180.6 754.2,181.1 752.9,181.5 752.7,184.4 752.6,185.0 753.4,186.1 753.8,188.6 754.7,189.7 753.8,191.2 753.2,189.2 752.4,188.8 751.2,187.8 750.9,186.1 748.4,185.4 745.7,184.2 744.6,183.5 743.2,182.7 741.5,183.5 739.9,184.7 738.5,186.9 738.2,186.0 735.6,186.8 734.7,184.6 733.3,184.8 731.8,183.4 730.0,183.9 729.3,182.4 726.9,182.8 726.1,183.1 724.3,181.5 722.9,182.2 721.3,182.2 720.2,180.7 717.7,181.5 716.3,181.4 715.5,180.6 712.5,180.5 710.7,179.5 709.9,180.3 707.3,178.3 706.7,178.8 705.0,176.6 703.6,177.0 704.8,175.3 706.2,174.1 708.2,173.3 709.2,172.5 711.5,171.5 711.0,170.3 711.7,167.9 712.7,166.2 714.7,165.4 716.6,164.7 717.6,163.5 719.6,162.4 718.5,160.8 718.2,159.1 718.0,157.3"/>
<polygon fill="#FF6633" points="718.1,156.5 716.7,154.1 718.0,152.9 717.5,151.2 717.2,149.6 717.8,147.9 717.5,146.7 717.5,144.3 717.3,143.9 718.1,140.9 716.8,140.7 719.8,139.9 720.6,139.2 722.2,140.0 723.5,140.8 726.0,140.0 724.9,141.6 725.8,143.0 725.9,144.7 724.8,146.3 726.0,147.5 725.4,149.7 727.2,151.7 728.6,152.0 730.3,151.3 733.0,151.9 734.6,152.0 736.0,151.6 738.2,153.4 738.1,153.7 740.3,154.5 742.5,156.8 743.1,156.8 744.7,158.2 746.8,157.4 747.1,158.5 750.2,158.8 751.0,159.0 752.3,159.1 751.9,160.9 752.1,163.1 750.4,164.0 749.2,165.6 748.2,167.1 746.8,168.2 746.1,169.5 745.8,170.9 743.6,169.7 743.1,169.2 741.8,167.1 740.9,166.7 739.2,166.2 739.3,163.1 738.8,161.8 736.7,161.7 736.3,161.0 733.6,160.3 732.4,161.0 731.3,159.0 728.9,160.0 728.6,158.3 726.0,158.2 723.3,157.4 722.7,158.0 720.9,156.4 718.5,156.4"/>
<polygon fill="#FFC200" points="725.4,149.7 726.0,147.6 724.8,146.4 725.7,144.8 725.9,143.1 724.8,142.0 725.9,139.9 725.5,139.0 725.4,136.9 725.4,136.0 725.6,134.0 725.7,132.8 724.8,131.1 726.1,129.7 725.4,128.2 725.0,126.6 726.1,125.2 725.2,123.5 725.4,122.1 725.5,120.6 725.7,119.1 725.4,117.6 725.1,116.0 726.2,114.5 724.9,113.0 725.4,111.5 726.1,110.1 726.9,109.5 728.5,110.0 729.6,110.5 732.3,110.0 732.4,109.5 734.7,110.1 736.0,110.5 737.8,109.8 738.3,109.5 741.2,110.2 741.7,110.4 743.5,109.7 744.8,109.6 747.2,110.3 747.2,110.3 748.4,111.4 748.2,113.1 747.5,114.7 748.4,116.1 747.9,117.8 748.0,119.3 747.7,120.8 748.4,122.6 747.8,123.7 747.6,125.7 748.8,126.9 747.4,128.6 748.1,130.3 748.3,131.4 747.8,133.8 748.0,134.1 749.1,135.8 752.1,135.8 752.7,136.4 754.2,137.0 757.3,138.5 758.8,137.7 758.3,140.3 760.2,142.8 760.9,144.2 762.3,144.2 764.0,146.4 765.5,148.3 764.2,149.4 764.8,151.1 764.8,153.4 765.8,156.3 764.0,154.5 762.3,153.3 759.5,153.5 758.9,151.2 757.8,150.7 755.3,150.1 754.3,150.4 751.8,151.2 750.6,152.0 749.1,152.8 747.3,153.7 746.9,154.6 745.1,155.4 743.4,156.1 742.5,156.8 740.3,154.5 738.1,153.7 738.2,153.4 736.0,151.6 734.6,152.0 733.0,151.9 730.3,151.3 728.6,152.0 727.2,151.7"/>
<polygon fill="#FF6633" points="779.9,110.4 779.9,111.1 779.9,113.8 780.5,114.5 779.3,116.7 780.5,118.1 780.0,119.6 779.6,121.5 780.5,123.0 779.8,124.3 780.2,126.6 780.6,127.0 780.0,129.5 780.8,130.5 781.0,132.0 780.3,133.8 781.7,135.2 782.0,136.5 781.6,137.5 782.3,140.2 782.4,140.9 783.4,142.1 782.6,144.9 783.2,145.0 782.6,145.3 780.4,144.5 780.2,143.9 777.3,143.4 776.6,144.7 774.5,145.2 772.5,145.8 771.6,146.4 769.7,146.0 767.9,146.7 766.4,145.6 765.5,148.3 764.0,146.4 762.3,144.2 760.9,144.2 760.2,142.8 758.3,140.3 758.8,137.7 757.3,138.5 754.2,137.0 752.7,136.4 752.1,135.8 749.1,135.8 748.0,134.1 747.8,133.8 748.3,131.4 748.1,130.3 747.4,128.6 748.8,126.9 747.6,125.7 747.8,123.7 748.4,122.6 747.7,120.8 748.0,119.3 747.9,117.8 748.4,116.1 747.5,114.7 748.2,113.1 748.4,111.4 747.2,110.3 749.9,109.7 751.0,109.8 752.8,110.3 753.4,110.2 756.3,109.8 756.9,109.9 758.6,110.2 760.0,110.0 762.4,109.9 762.6,110.0 764.9,110.0 766.4,110.0 768.0,110.1 768.7,110.0 771.4,109.8 772.3,110.0 773.7,110.3 775.3,110.0 777.5,109.6 778.1,110.1"/>
<polygon fill="#663300" points="779.8,124.3 780.5,123.0 779.6,121.5 780.0,119.6 780.5,118.1 779.3,116.7 780.5,114.5 779.9,113.8 779.9,111.1 779.9,110.4 781.9,109.8 783.2,109.4 784.3,110.2 786.2,110.7 788.4,109.8 789.0,109.2 790.9,110.3 792.5,110.7 794.6,109.7 794.9,109.3 797.5,110.2 798.8,110.6 800.7,109.8 801.1,109.6 804.0,110.1 805.0,110.2 806.6,110.0 807.7,110.0 810.4,110.0 811.1,109.8 812.6,110.1 814.4,110.4 814.9,111.0 813.9,113.7 814.6,114.1 814.4,116.7 814.6,117.4 814.0,119.5 814.7,120.7 814.6,122.4 813.7,124.0 815.1,125.5 814.0,126.9 814.1,128.8 813.6,129.8 814.6,132.0 813.4,132.8 813.5,135.3 813.1,136.6 813.5,138.4 812.3,140.3 812.9,141.5 812.8,143.7 812.6,144.7 811.5,145.1 809.1,145.7 810.6,147.3 810.3,148.9 811.2,151.0 809.3,149.9 807.0,150.2 804.4,148.7 802.7,147.6 801.6,147.0 800.3,144.4 801.4,144.2 800.8,142.0 799.8,140.1 799.2,140.1 797.9,138.4 795.7,137.5 795.4,136.2 793.7,136.9 792.4,138.5 791.6,140.2 791.4,141.5 790.2,143.2 790.1,144.0 787.8,145.4 786.5,146.6 784.8,146.5 783.2,145.0 782.6,144.9 783.4,142.1 782.4,140.9 782.3,140.2 781.6,137.5 782.0,136.5 781.7,135.2 780.3,133.8 781.0,132.0 780.8,130.5 780.0,129.5 780.6,127.0 780.2,126.6"/>
<polygon fill="#FF6633" points="765.5,148.3 766.4,145.6 767.9,146.7 769.7,146.0 771.6,146.4 772.5,145.8 774.5,145.2 776.6,144.7 777.3,143.4 780.2,143.9 780.4,144.5 782.6,145.3 783.2,145.0 784.0,147.5 783.7,150.1 782.0,150.7 780.6,152.3 782.0,154.8 784.6,155.9 785.5,156.9 786.6,160.2 789.8,161.3 790.4,161.8 791.6,162.6 790.5,163.9 790.3,166.4 789.6,168.5 789.6,169.0 789.4,171.2 788.4,173.0 787.0,173.7 786.4,175.3 784.2,173.3 782.1,173.0 780.1,171.9 778.2,171.9 777.6,172.3 775.1,172.7 773.5,173.6 772.5,174.3 771.5,175.4 770.3,177.0 768.9,178.6 767.7,176.8 766.4,176.8 764.5,175.2 763.8,174.4 762.7,174.3 762.7,171.6 763.4,170.5 764.4,168.7 765.7,167.2 767.6,165.9 769.2,165.2 770.3,164.2 770.9,162.6 770.2,160.4 769.6,159.5 768.9,157.2 766.4,156.8 765.8,156.3 764.8,153.4 764.8,151.1 764.2,149.4"/>
<polygon fill="#FF6633" points="783.2,145.0 784.8,146.5 786.5,146.6 787.8,145.4 790.1,144.0 790.2,143.2 791.4,141.5 791.6,140.2 792.4,138.5 793.7,136.9 795.4,136.2 795.7,137.5 797.9,138.4 799.2,140.1 799.8,140.1 800.8,142.0 801.4,144.2 800.3,144.4 801.6,147.0 802.7,147.6 804.4,148.7 807.0,150.2 809.3,149.9 811.2,151.0 812.1,152.1 813.7,152.5 814.4,154.0 814.9,155.2 816.5,156.7 816.6,159.1 816.4,159.8 817.0,162.2 815.7,162.9 817.2,164.4 817.7,166.4 817.9,168.5 815.8,169.0 815.0,169.5 812.2,169.6 810.4,167.4 808.9,167.5 807.1,167.7 805.2,167.8 803.7,168.3 802.5,168.9 801.9,166.3 803.0,165.3 801.9,162.4 798.8,162.3 796.7,162.8 795.6,162.4 791.6,162.6 790.4,161.8 789.8,161.3 786.6,160.2 785.5,156.9 784.6,155.9 782.0,154.8 780.6,152.3 782.0,150.7 783.7,150.1 784.0,147.5"/>
</g>
<polygon fill="#fff" stroke="#6a6a6a" stroke-width="0.6" points="867.3,229.1 868.3,230.3 869.1,232.2 867.6,234.1 869.2,235.2 869.5,237.4 870.5,239.2 872.3,241.1 874.6,240.7 876.8,240.6 878.5,241.1 879.8,243.2 881.1,242.0 883.7,240.5 886.2,240.7 888.4,239.0 889.2,237.9 890.3,235.3 892.9,236.5 894.5,238.7 894.4,240.7 894.5,242.3 894.3,244.3 892.3,246.2 891.3,248.4 890.3,249.7 889.9,252.3 889.9,253.3 890.3,255.5 889.9,256.6 888.6,258.0 887.2,258.8 884.9,259.0 884.2,260.4 883.3,261.3 882.1,262.4 880.4,264.0 878.8,265.6 877.8,266.0 875.2,266.3 874.2,266.7 872.0,267.0 872.9,269.0 872.1,270.6 870.7,272.3 871.6,274.8 871.1,275.1 871.4,278.0 869.9,278.0 870.7,281.0 870.3,281.1 868.4,281.6 867.9,282.3 866.6,283.2 864.1,284.1 863.1,285.0 861.9,286.3 859.9,287.6 858.0,288.7 857.2,289.7 856.3,290.5 854.8,291.3 853.4,292.2 852.6,293.2 850.7,293.5 848.5,293.7 847.8,294.1 845.5,294.9 844.7,295.5 842.4,296.1 841.4,296.5 840.4,297.7 838.8,298.4 836.9,299.4 837.2,302.5 836.9,304.5 835.1,305.8 833.2,303.6 834.5,302.8 833.7,300.8 832.8,298.8 833.3,297.2 833.4,296.1 833.4,294.3 835.5,293.6 837.5,293.1 838.0,292.8 839.4,292.6 839.6,290.2 840.3,288.3 840.6,287.2 841.3,285.2 840.9,283.4 841.2,281.2 842.7,280.6 843.6,278.4 844.1,277.5 845.5,276.6 847.3,275.8 848.2,275.0 850.5,274.1 852.1,274.1 853.1,274.7 854.2,272.7 855.4,271.7 856.6,270.1 857.8,267.6 859.1,266.5 860.6,266.0 861.3,264.4 860.7,263.2 859.8,260.8 860.9,259.9 862.1,257.7 863.3,256.5 864.2,254.7 864.5,253.7 865.6,251.7 866.6,249.5 867.8,249.1 868.8,246.8 868.5,245.3 870.0,244.2 870.8,243.0 870.0,241.9 869.5,239.9 867.9,238.0 867.9,237.4 866.8,236.2 867.0,234.1 866.3,232.5 867.2,230.6"/>
<polygon fill="none" stroke="#222" stroke-opacity="0.75" stroke-width="0.8" stroke-linejoin="round" points="633.8,235.1 635.4,233.8 636.5,232.0 638.5,231.4 640.2,230.5 642.1,229.7 643.2,227.7 644.9,226.4 646.5,225.0 646.0,222.0 648.2,221.1 649.8,220.2 652.0,220.4 653.1,218.6 654.7,217.5 656.5,216.7 656.4,214.0 658.4,213.3 659.8,212.0 660.8,210.1 662.7,209.2 664.2,207.8 665.5,206.2 665.6,203.9 667.1,202.5 668.8,201.2 669.8,199.2 672.4,198.6 673.0,196.3 674.9,196.1 675.9,193.9 677.9,193.8 679.8,192.1 680.4,189.7 680.9,187.1 682.9,185.5 684.5,183.1 686.4,181.9 687.2,179.6 689.5,178.9 690.2,176.1 692.8,174.8 694.5,173.1 696.6,173.1 697.8,171.5 699.4,169.0 701.5,168.9 703.5,169.5 705.2,170.7 706.0,167.4 705.2,164.9 702.7,164.0 704.8,164.0 705.8,161.9 707.7,161.6 710.2,161.8 711.8,159.9 713.8,158.7 715.9,157.7 717.5,156.0 718.7,154.0 721.6,154.0 722.5,151.7 724.3,150.9 725.5,149.3 728.3,149.1 729.9,146.9 731.8,146.2 731.9,143.8 733.2,142.5 734.1,140.8 735.9,140.0 738.1,138.2 740.9,138.0 742.4,136.0 744.6,135.6 746.8,135.0 748.9,134.8 750.8,134.0 752.2,131.8 755.1,132.1 756.9,130.6 758.4,129.2 760.1,128.0 762.1,127.3 764.1,127.4 765.4,125.9 767.0,124.8 768.8,124.6 770.6,124.1 772.5,124.2 774.1,123.3 776.3,122.7 777.8,125.3 780.0,124.6 781.5,122.9 783.8,124.2 785.8,123.9 787.0,121.4 789.2,122.0 791.3,123.1 793.7,122.5 795.8,123.3 798.1,122.8 799.8,120.8 802.4,121.3 804.6,121.1 806.1,122.2 806.9,124.8 809.1,124.6 811.9,124.3 814.4,125.5 816.4,126.4 818.5,127.0 820.6,127.3 822.8,126.0 824.9,126.6 827.2,126.7 829.3,127.5 831.5,127.9 833.6,129.0 836.1,127.8 838.1,129.2 839.7,130.8 841.9,131.3 842.7,133.3 843.9,135.0 845.9,135.9 848.4,134.4 851.2,135.3 852.5,137.0 855.0,135.7 856.4,137.3 858.3,137.8 859.8,139.3 861.7,139.9 862.3,142.0 864.6,142.3 865.7,143.9 868.3,145.9 869.5,147.9 871.8,148.2 873.6,149.2 875.9,150.5 877.6,152.5 879.4,153.5 881.1,154.6 882.0,156.5 884.1,157.9 884.5,160.5 886.5,161.2 886.8,163.5 888.5,164.5 888.9,166.8 891.8,166.9 892.5,169.0 894.8,168.5 896.2,171.3 898.5,170.7 900.3,170.9 902.2,170.7 904.0,171.1 906.0,170.8 907.7,171.9 909.6,172.0 911.5,172.7 913.3,171.6 915.2,171.6 917.6,171.6 919.9,172.0 921.9,171.1 923.6,172.5 925.4,175.3 925.9,178.1 922.7,179.0 918.9,182.3 917.1,185.5 917.1,191.1 916.1,194.8 912.4,197.6 910.1,200.4 911.5,203.2 913.3,204.1 915.2,200.4 918.9,199.0 922.7,200.4 925.4,203.2 923.6,206.9 920.8,211.0 915.1,225.8 909.2,235.7 903.2,247.6 895.0,258.5 888.0,267.8 878.7,276.0 870.7,282.2 860.0,291.5 854.4,295.5 848.0,299.0 843.0,302.3 839.2,304.9 832.6,313.1 826.0,326.4 821.0,337.9 812.8,347.9 802.9,356.1 791.3,362.7 787.5,367.2 785.5,361.0 785.5,357.8 786.2,356.1 786.9,354.3 788.0,352.8 788.3,351.2 788.0,349.5 788.6,347.9 788.8,346.2 790.0,344.5 791.3,342.9 792.6,341.7 794.2,341.3 795.4,340.1 797.1,339.6 797.7,338.1 798.1,336.4 798.7,335.0 799.7,333.6 800.4,332.1 802.1,331.8 803.6,330.7 805.3,330.5 806.9,331.3 808.1,332.6 809.4,333.9 811.1,334.6 812.8,333.6 814.4,332.3 816.1,331.3 817.2,329.8 817.0,327.9 818.4,326.5 818.6,324.7 819.4,323.1 818.7,321.5 818.4,319.8 818.2,318.2 818.3,316.4 817.7,314.8 816.7,313.0 816.3,310.9 815.5,309.0 815.1,308.7 813.7,309.6 812.6,310.8 811.2,311.7 811.8,313.7 812.9,315.6 813.2,317.7 811.9,319.0 810.3,319.9 808.6,320.5 807.2,321.6 805.6,322.3 804.1,323.0 802.4,323.3 800.9,324.0 799.3,324.6 797.7,324.6 796.1,323.9 794.5,323.8 792.9,324.0 791.3,323.6 790.0,322.6 788.7,321.6 787.6,320.4 786.2,319.5 784.6,318.8 783.4,317.7 783.0,316.0 781.6,314.9 781.1,313.2 780.4,311.7 780.0,309.8 778.9,308.2 778.6,306.4 777.6,304.7 777.4,302.8 776.0,301.9 774.6,301.1 773.0,300.5 771.5,299.8 769.6,299.1 767.5,299.3 765.6,298.8 764.2,297.4 762.7,296.3 761.1,295.1 759.6,293.9 758.2,293.0 757.0,291.8 755.6,290.8 754.0,290.2 752.7,288.9 751.5,287.5 749.8,286.6 748.8,285.0 747.3,284.0 745.7,283.3 744.2,282.2 742.5,281.5 740.8,281.0 739.1,280.9 737.5,280.5 735.9,279.9 734.2,279.7 732.2,279.0 730.6,277.5 728.9,276.4 727.1,275.8 725.4,275.1 723.8,274.3 722.3,273.1 721.5,271.6 720.0,270.7 719.1,269.3 718.3,267.8 716.9,266.8 715.9,265.4 714.1,264.9 713.0,263.6 711.7,262.5 709.8,261.1 707.8,259.8 706.5,260.9 705.6,262.3 704.5,263.6 703.8,265.1 702.1,266.2 700.3,267.0 698.5,267.8 696.2,267.6 693.9,267.1 694.1,265.4 694.0,263.6 693.2,262.0 693.0,260.2 693.2,258.5 692.0,257.3 690.9,256.0 690.0,254.5 689.0,253.2 687.9,251.9 686.8,250.7 685.6,249.5 684.9,247.9 684.0,246.5 682.4,245.6 681.1,244.5 679.8,243.2 678.2,242.5 676.6,241.6 675.1,240.6 673.6,239.7 672.2,238.3 670.4,237.5 669.4,235.7 667.7,234.7 666.3,233.7 664.9,232.9 663.3,232.2 661.7,231.7 659.7,232.0 657.8,232.3 655.8,232.8 653.8,232.7 652.4,234.3 651.5,236.3 649.9,237.7 648.3,238.3 646.7,238.4 645.1,238.6 643.5,238.6 641.9,238.7 639.8,238.6 638.0,237.7"/>
<clipPath id="clip4"><polygon points="931.5,235.1 933.1,233.8 934.2,232.0 936.2,231.4 937.9,230.5 939.8,229.7 940.9,227.7 942.6,226.4 944.2,225.0 943.7,222.0 945.9,221.1 947.5,220.2 949.7,220.4 950.8,218.6 952.4,217.5 954.2,216.7 954.1,214.0 956.1,213.3 957.5,212.0 958.5,210.1 960.4,209.2 961.9,207.8 963.2,206.2 963.3,203.9 964.8,202.5 966.5,201.2 967.5,199.2 970.1,198.6 970.7,196.3 972.6,196.1 973.6,193.9 975.6,193.8 977.5,192.1 978.1,189.7 978.6,187.1 980.6,185.5 982.2,183.1 984.1,181.9 984.9,179.6 987.2,178.9 987.9,176.1 990.5,174.8 992.2,173.1 994.3,173.1 995.5,171.5 997.1,169.0 999.2,168.9 1001.2,169.5 1002.9,170.7 1003.7,167.4 1002.9,164.9 1000.4,164.0 1002.5,164.0 1003.5,161.9 1005.4,161.6 1007.9,161.8 1009.5,159.9 1011.5,158.7 1013.6,157.7 1015.2,156.0 1016.4,154.0 1019.3,154.0 1020.2,151.7 1022.0,150.9 1023.2,149.3 1026.0,149.1 1027.6,146.9 1029.5,146.2 1029.6,143.8 1030.9,142.5 1031.8,140.8 1033.6,140.0 1035.8,138.2 1038.6,138.0 1040.1,136.0 1042.3,135.6 1044.5,135.0 1046.6,134.8 1048.5,134.0 1049.9,131.8 1052.8,132.1 1054.6,130.6 1056.1,129.2 1057.8,128.0 1059.8,127.3 1061.8,127.4 1063.1,125.9 1064.7,124.8 1066.5,124.6 1068.3,124.1 1070.2,124.2 1071.8,123.3 1074.0,122.7 1075.5,125.3 1077.7,124.6 1079.2,122.9 1081.5,124.2 1083.5,123.9 1084.7,121.4 1086.9,122.0 1089.0,123.1 1091.4,122.5 1093.5,123.3 1095.8,122.8 1097.5,120.8 1100.1,121.3 1102.3,121.1 1103.8,122.2 1104.6,124.8 1106.8,124.6 1109.6,124.3 1112.1,125.5 1114.1,126.4 1116.2,127.0 1118.3,127.3 1120.5,126.0 1122.6,126.6 1124.9,126.7 1127.0,127.5 1129.2,127.9 1131.3,129.0 1133.8,127.8 1135.8,129.2 1137.4,130.8 1139.6,131.3 1140.4,133.3 1141.6,135.0 1143.6,135.9 1146.1,134.4 1148.9,135.3 1150.2,137.0 1152.7,135.7 1154.1,137.3 1156.0,137.8 1157.5,139.3 1159.4,139.9 1160.0,142.0 1162.3,142.3 1163.4,143.9 1166.0,145.9 1167.2,147.9 1169.5,148.2 1171.3,149.2 1173.6,150.5 1175.3,152.5 1177.1,153.5 1178.8,154.6 1179.7,156.5 1181.8,157.9 1182.2,160.5 1184.2,161.2 1184.5,163.5 1186.2,164.5 1186.6,166.8 1189.5,166.9 1190.2,169.0 1192.5,168.5 1193.9,171.3 1196.2,170.7 1198.0,170.9 1199.9,170.7 1201.7,171.1 1203.7,170.8 1205.4,171.9 1207.3,172.0 1209.2,172.7 1211.0,171.6 1212.9,171.6 1215.3,171.6 1217.6,172.0 1219.6,171.1 1221.3,172.5 1223.1,175.3 1223.6,178.1 1220.4,179.0 1216.6,182.3 1214.8,185.5 1214.8,191.1 1213.8,194.8 1210.1,197.6 1207.8,200.4 1209.2,203.2 1211.0,204.1 1212.9,200.4 1216.6,199.0 1220.4,200.4 1223.1,203.2 1221.3,206.9 1218.5,211.0 1212.8,225.8 1206.9,235.7 1200.9,247.6 1192.7,258.5 1185.7,267.8 1176.4,276.0 1168.4,282.2 1157.7,291.5 1152.1,295.5 1145.7,299.0 1140.7,302.3 1136.9,304.9 1130.3,313.1 1123.7,326.4 1118.7,337.9 1110.5,347.9 1100.6,356.1 1089.0,362.7 1085.2,367.2 1083.2,361.0 1083.2,357.8 1083.9,356.1 1084.6,354.3 1085.7,352.8 1086.0,351.2 1085.7,349.5 1086.3,347.9 1086.5,346.2 1087.7,344.5 1089.0,342.9 1090.3,341.7 1091.9,341.3 1093.1,340.1 1094.8,339.6 1095.4,338.1 1095.8,336.4 1096.4,335.0 1097.4,333.6 1098.1,332.1 1099.8,331.8 1101.3,330.7 1103.0,330.5 1104.6,331.3 1105.8,332.6 1107.1,333.9 1108.8,334.6 1110.5,333.6 1112.1,332.3 1113.8,331.3 1114.9,329.8 1114.7,327.9 1116.1,326.5 1116.3,324.7 1117.1,323.1 1116.4,321.5 1116.1,319.8 1115.9,318.2 1116.0,316.4 1115.4,314.8 1114.4,313.0 1114.0,310.9 1113.2,309.0 1112.8,308.7 1111.4,309.6 1110.3,310.8 1108.9,311.7 1109.5,313.7 1110.6,315.6 1110.9,317.7 1109.6,319.0 1108.0,319.9 1106.3,320.5 1104.9,321.6 1103.3,322.3 1101.8,323.0 1100.1,323.3 1098.6,324.0 1097.0,324.6 1095.4,324.6 1093.8,323.9 1092.2,323.8 1090.6,324.0 1089.0,323.6 1087.7,322.6 1086.4,321.6 1085.3,320.4 1083.9,319.5 1082.3,318.8 1081.1,317.7 1080.7,316.0 1079.3,314.9 1078.8,313.2 1078.1,311.7 1077.7,309.8 1076.6,308.2 1076.3,306.4 1075.3,304.7 1075.1,302.8 1073.7,301.9 1072.3,301.1 1070.7,300.5 1069.2,299.8 1067.3,299.1 1065.2,299.3 1063.3,298.8 1061.9,297.4 1060.4,296.3 1058.8,295.1 1057.3,293.9 1055.9,293.0 1054.7,291.8 1053.3,290.8 1051.7,290.2 1050.4,288.9 1049.2,287.5 1047.5,286.6 1046.5,285.0 1045.0,284.0 1043.4,283.3 1041.9,282.2 1040.2,281.5 1038.5,281.0 1036.8,280.9 1035.2,280.5 1033.6,279.9 1031.9,279.7 1029.9,279.0 1028.3,277.5 1026.6,276.4 1024.8,275.8 1023.1,275.1 1021.5,274.3 1020.0,273.1 1019.2,271.6 1017.7,270.7 1016.8,269.3 1016.0,267.8 1014.6,266.8 1013.6,265.4 1011.8,264.9 1010.7,263.6 1009.4,262.5 1007.5,261.1 1005.5,259.8 1004.2,260.9 1003.3,262.3 1002.2,263.6 1001.5,265.1 999.8,266.2 998.0,267.0 996.2,267.8 993.9,267.6 991.6,267.1 991.8,265.4 991.7,263.6 990.9,262.0 990.7,260.2 990.9,258.5 989.7,257.3 988.6,256.0 987.7,254.5 986.7,253.2 985.6,251.9 984.5,250.7 983.3,249.5 982.6,247.9 981.7,246.5 980.1,245.6 978.8,244.5 977.5,243.2 975.9,242.5 974.3,241.6 972.8,240.6 971.3,239.7 969.9,238.3 968.1,237.5 967.1,235.7 965.4,234.7 964.0,233.7 962.6,232.9 961.0,232.2 959.4,231.7 957.4,232.0 955.5,232.3 953.5,232.8 951.5,232.7 950.1,234.3 949.2,236.3 947.6,237.7 946.0,238.3 944.4,238.4 942.8,238.6 941.2,238.6 939.6,238.7 937.5,238.6 935.7,237.7"/></clipPath>
<g clip-path="url(#clip4)" stroke="#1a1a00" stroke-opacity="0.52" stroke-width="0.8" stroke-linejoin="round">
<polygon fill="#FFC200" points="897.8,249.5 897.7,249.1 897.5,246.2 897.8,246.2 898.1,243.2 897.0,243.0 898.2,240.4 897.8,239.6 897.1,237.8 898.2,236.1 897.6,235.1 897.7,232.8 897.6,232.3 898.0,229.7 897.6,229.2 897.2,226.8 898.5,226.0 897.2,224.0 897.6,222.7 898.2,221.1 897.3,219.4 897.8,218.2 897.7,216.3 898.0,215.2 897.3,213.3 897.8,212.0 898.2,210.4 896.9,208.9 898.2,207.4 897.8,205.9 897.3,204.3 897.9,202.9 897.7,201.1 897.8,200.0 897.3,198.0 898.2,197.0 897.6,194.9 897.1,193.9 898.5,192.0 897.3,190.7 897.6,189.3 898.0,187.3 897.6,186.5 897.7,184.0 897.5,183.7 898.3,180.9 897.1,180.6 899.8,179.7 900.8,178.9 901.7,178.3 903.4,178.0 904.4,177.6 906.8,177.1 908.2,176.3 908.6,175.5 910.6,175.0 911.9,174.8 913.7,174.8 915.5,174.8 915.7,174.4 917.6,173.7 919.4,172.8 920.7,172.0 922.6,171.5 923.0,171.2 924.5,170.8 926.9,170.2 927.8,169.4 929.5,168.6 930.4,168.2 931.5,168.1 934.1,168.1 935.1,168.0 936.3,167.5 937.7,166.7 938.7,165.9 941.2,165.2 942.5,164.7 943.2,164.4 945.0,164.0 946.0,163.3 948.2,162.5 949.8,161.8 950.1,161.4 952.1,161.3 953.5,161.4 955.2,161.2 957.1,160.6 957.3,159.8 959.0,159.0 961.0,158.3 962.2,158.0 964.1,157.6 964.6,157.1 966.0,156.4 968.4,155.6 969.4,154.9 971.0,154.6 972.0,154.6 973.0,154.6 975.7,154.4 976.7,153.7 977.8,152.9 979.3,152.1 980.2,151.5 982.7,151.2 984.1,150.9 984.7,150.3 986.5,149.5 987.6,148.7 989.7,148.1 991.5,147.9 991.7,147.9 993.6,147.9 995.1,147.5 996.6,146.8 998.6,146.0 998.9,145.2 1000.5,144.8 1002.6,144.4 1003.7,144.0 1005.6,143.4 1006.3,142.6 1007.4,141.8 1010.0,141.3 1011.0,141.2 1012.5,141.2 1013.7,141.1 1014.5,140.7 1015.8,140.9 1015.0,143.9 1015.2,144.3 1015.2,146.7 1015.5,147.9 1014.9,149.6 1015.2,151.2 1015.7,152.9 1014.4,154.1 1015.8,156.5 1015.7,157.3 1015.9,159.1 1016.2,160.8 1017.3,162.4 1015.3,163.5 1014.3,164.7 1012.4,165.4 1010.4,166.2 1009.4,167.9 1008.7,170.3 1009.2,171.5 1006.9,172.5 1005.9,173.3 1003.9,174.1 1002.5,175.3 1001.3,177.0 1002.7,176.6 1004.4,178.8 1005.0,178.3 1007.6,180.3 1008.4,179.5 1010.2,180.5 1011.8,181.5 1012.2,182.8 1013.1,184.9 1014.6,186.5 1014.8,187.4 1016.1,189.1 1017.1,191.3 1017.8,193.2 1018.0,194.2 1018.1,196.2 1018.0,197.8 1019.5,199.1 1020.0,199.2 1021.8,200.5 1024.8,200.6 1025.2,201.0 1027.2,202.7 1028.9,202.4 1031.1,204.5 1032.8,204.7 1034.0,205.3 1034.8,207.2 1034.5,208.0 1034.1,210.7 1033.6,210.9 1034.4,214.0 1032.4,214.7 1030.9,215.0 1030.3,215.5 1029.8,216.6 1027.3,217.0 1026.4,217.4 1024.6,215.8 1023.7,218.4 1024.6,219.2 1023.7,221.0 1023.4,222.4 1022.8,224.2 1021.4,224.9 1020.4,225.6 1020.2,228.0 1019.2,228.7 1016.9,229.4 1015.8,230.1 1013.8,230.8 1011.7,231.4 1010.8,232.0 1009.0,231.9 1008.4,231.8 1006.4,232.2 1004.4,233.0 1004.4,234.9 1004.2,235.9 1004.4,238.0 1003.8,239.4 1002.9,240.9 1002.3,241.1 1000.2,241.4 999.2,241.9 997.0,242.7 995.4,243.5 993.3,244.3 991.6,244.7 991.1,244.6 989.1,244.2 988.1,244.3 985.5,244.9 984.6,245.9 983.6,246.7 981.8,247.1 980.7,247.3 981.8,250.3 980.9,250.7 980.8,253.0 979.7,254.4 980.3,255.6 980.2,257.8 979.5,258.8 979.1,260.6 978.7,262.3 979.5,263.6 978.3,265.3 978.3,267.1 977.4,267.9 978.3,270.7 976.0,269.6 974.6,269.3 973.0,270.4 972.2,270.6 969.6,269.5 968.8,269.4 967.3,270.6 965.7,270.5 963.6,269.4 963.2,269.6 960.9,270.7 959.4,270.3 958.1,269.3 957.0,269.8 954.5,270.7 953.7,270.1 952.3,269.3 950.4,270.0 948.7,270.7 948.0,270.0 945.9,269.3 944.2,270.1 943.2,270.7 941.7,269.8 939.5,269.4 938.6,270.3 937.3,270.6 935.2,269.7 933.8,269.5 932.8,270.4 930.8,270.4 929.1,269.6 928.2,269.6 926.5,270.4 924.5,270.3 923.4,269.6 922.2,269.8 919.9,270.4 918.9,270.1 917.6,269.6 915.7,269.9 913.9,270.4 913.3,270.0 911.2,269.7 909.5,270.0 908.3,270.3 907.2,270.0 904.7,269.8 904.0,270.1 902.4,270.2 900.7,269.9 898.8,269.9 898.3,270.1 897.6,268.5 897.4,266.7 897.9,265.8 897.7,263.3 897.7,262.9 897.3,260.1 898.3,259.9 897.3,257.1 897.5,256.6 898.4,254.4 897.1,253.0 897.9,251.8"/>
<polygon fill="#FF6633" points="981.8,247.1 983.6,246.7 984.6,245.9 985.5,244.9 988.1,244.3 989.1,244.2 991.1,244.6 991.6,244.7 993.3,244.3 995.4,243.5 997.0,242.7 999.2,241.9 1000.2,241.4 1002.3,241.1 1002.9,240.9 1003.8,239.4 1004.4,238.0 1004.2,235.9 1004.4,234.9 1004.4,233.0 1006.4,232.2 1008.4,231.8 1009.0,231.9 1010.8,232.0 1011.7,231.4 1013.8,230.8 1015.8,230.1 1016.9,229.4 1019.2,228.7 1020.2,228.0 1021.8,228.0 1024.1,230.1 1024.6,230.1 1026.6,231.4 1028.7,233.5 1029.6,232.8 1031.9,232.1 1032.8,231.5 1034.7,231.1 1035.8,230.6 1037.0,230.1 1039.5,229.5 1040.6,228.9 1042.9,228.3 1044.1,227.7 1045.1,227.0 1047.1,226.3 1047.9,225.6 1049.8,224.9 1051.6,224.2 1053.3,224.1 1055.2,224.2 1055.5,224.1 1057.9,223.8 1060.4,225.0 1061.3,225.6 1063.0,226.2 1065.5,226.6 1066.1,227.7 1068.2,227.2 1067.1,229.6 1067.9,230.7 1067.2,232.0 1067.1,234.1 1066.3,235.1 1065.3,236.6 1065.9,238.7 1066.5,239.0 1067.9,240.1 1068.9,241.1 1070.9,242.7 1070.8,242.3 1072.5,244.4 1074.2,245.1 1072.2,245.8 1070.9,246.4 1069.7,247.0 1068.1,247.7 1066.7,249.2 1065.9,250.2 1065.0,251.0 1063.6,252.2 1061.9,253.9 1060.4,253.6 1058.3,254.1 1057.0,255.0 1056.3,255.6 1054.0,253.4 1052.5,254.1 1050.6,251.8 1050.1,252.1 1047.2,250.5 1046.2,250.9 1045.0,250.8 1042.9,250.8 1041.2,250.8 1039.7,250.2 1038.7,250.5 1036.8,250.9 1035.1,251.7 1033.3,252.5 1031.2,253.2 1030.0,253.8 1027.5,254.5 1026.9,256.1 1027.7,258.5 1027.0,259.8 1025.8,261.5 1024.5,262.5 1023.3,264.9 1023.5,266.3 1025.2,267.7 1024.8,269.5 1025.6,270.8 1025.4,272.7 1026.8,275.0 1028.0,276.8 1027.0,278.9 1027.2,279.5 1027.0,282.3 1027.6,282.4 1026.7,285.5 1026.9,285.4 1027.7,288.5 1026.4,288.6 1027.1,291.3 1026.9,292.0 1027.1,294.1 1026.3,295.4 1027.0,296.8 1027.1,298.7 1026.0,299.8 1025.4,299.6 1023.7,300.3 1022.4,300.3 1019.9,299.7 1019.8,299.8 1017.4,300.2 1016.1,300.2 1014.4,299.8 1013.7,299.9 1010.9,300.2 1010.3,300.1 1008.6,299.9 1007.2,300.0 1004.9,300.1 1004.7,300.0 1002.3,300.0 1000.9,300.0 999.4,300.0 998.5,300.0 995.8,300.1 995.1,300.0 993.6,299.9 991.9,300.0 989.9,300.2 989.4,299.9 987.2,299.8 985.6,300.1 984.4,300.2 983.2,299.8 980.8,299.7 979.9,300.3 978.6,300.3 976.6,299.7 975.0,299.7 974.2,300.4 972.2,300.2 970.4,299.5 969.4,299.8 967.9,300.5 967.7,298.3 968.0,296.8 969.3,296.0 969.2,293.7 970.3,292.6 969.6,291.2 970.1,289.5 970.8,287.9 971.1,287.2 972.4,284.4 971.7,284.3 972.3,281.8 972.3,280.7 973.0,279.2 974.2,278.0 973.9,275.7 974.7,275.5 974.0,272.7 974.9,272.0 975.7,270.4 976.0,268.6 976.9,267.4 976.1,266.0 976.9,264.0 977.1,263.1 978.0,261.5 978.8,259.4 978.3,259.0 979.1,256.4 978.7,255.6 979.9,254.0 980.6,252.5 980.6,250.6 981.2,250.2 980.5,247.2"/>
<polygon fill="#FF6633" points="1028.0,276.8 1026.8,275.0 1025.4,272.7 1025.6,270.8 1024.8,269.5 1025.2,267.7 1023.5,266.3 1023.3,264.9 1024.5,262.5 1025.8,261.5 1027.0,259.8 1027.7,258.5 1026.9,256.1 1027.5,254.5 1030.0,253.8 1031.2,253.2 1033.3,252.5 1035.1,251.7 1036.8,250.9 1038.7,250.5 1039.7,250.2 1041.2,250.8 1042.9,250.8 1045.0,250.8 1046.2,250.9 1047.2,250.5 1050.1,252.1 1050.6,251.8 1052.5,254.1 1054.0,253.4 1056.3,255.6 1057.0,255.0 1058.3,254.1 1060.4,253.6 1061.9,253.9 1063.6,252.2 1065.0,251.0 1065.9,250.2 1066.7,249.2 1068.1,247.7 1069.7,247.0 1070.9,246.4 1072.2,245.8 1074.2,245.1 1073.5,246.9 1072.7,247.7 1072.4,250.3 1072.9,251.7 1072.5,253.5 1074.2,255.3 1074.1,256.6 1076.8,256.4 1077.6,258.7 1078.3,258.1 1081.0,260.0 1081.0,260.6 1082.8,261.1 1084.8,262.8 1084.7,262.8 1085.6,265.0 1085.1,266.4 1084.9,268.0 1084.0,269.5 1084.1,271.6 1082.6,272.2 1081.9,272.9 1079.9,273.6 1078.3,274.3 1077.1,274.9 1074.6,275.6 1073.2,276.4 1073.1,277.7 1072.6,280.0 1072.5,280.2 1072.8,283.2 1071.4,283.6 1071.4,285.6 1070.4,287.0 1070.7,288.7 1070.8,289.4 1069.8,292.3 1069.7,292.4 1068.3,294.9 1068.7,296.1 1068.6,297.6 1069.3,300.2 1069.2,300.9 1069.3,303.3 1068.7,304.1 1069.2,306.3 1069.5,307.5 1068.2,309.0 1069.4,310.9 1068.8,311.8 1068.8,314.3 1068.6,314.8 1069.2,317.5 1068.7,317.9 1068.2,320.4 1067.3,320.7 1065.8,319.5 1064.4,319.4 1062.1,320.6 1061.8,320.5 1059.5,319.3 1058.1,319.6 1056.6,320.7 1055.7,320.3 1053.1,319.2 1052.5,319.8 1050.8,320.8 1049.2,320.1 1047.2,319.2 1046.9,320.0 1044.3,320.8 1043.2,319.9 1041.7,319.2 1040.6,320.2 1038.0,320.7 1037.7,319.6 1035.7,319.3 1034.1,320.4 1032.4,320.6 1031.9,319.5 1029.1,319.5 1028.3,320.6 1026.8,320.5 1025.4,319.3 1023.1,319.6 1022.8,320.7 1020.5,320.3 1019.1,319.2 1017.6,319.8 1017.4,318.4 1018.8,317.3 1018.7,315.3 1019.6,314.2 1018.7,312.8 1019.6,310.6 1020.0,310.3 1020.7,307.5 1021.0,307.1 1020.5,305.0 1021.3,303.7 1021.3,302.2 1022.8,300.9 1022.2,298.8 1022.7,298.4 1022.5,295.5 1023.3,295.5 1024.1,292.8 1024.0,292.0 1024.5,290.3 1023.9,288.8 1025.3,287.3 1025.3,286.2 1026.2,283.8 1025.7,283.6 1026.0,280.9 1026.6,280.3 1027.1,278.5"/>
<polygon fill="#FFC200" points="1034.0,205.3 1036.4,204.5 1037.3,203.9 1039.8,203.5 1041.4,204.3 1043.3,204.4 1044.7,205.5 1046.3,204.8 1048.6,205.6 1049.8,206.6 1051.4,206.5 1054.0,206.2 1054.5,206.0 1055.9,205.8 1057.6,205.5 1059.0,206.4 1060.3,207.1 1061.7,209.2 1063.2,208.5 1065.3,207.6 1065.7,206.7 1067.5,206.0 1068.9,205.6 1070.7,205.4 1072.9,205.4 1073.6,206.0 1075.4,207.0 1076.9,207.8 1079.4,208.4 1080.1,210.4 1082.0,210.1 1083.1,212.3 1084.1,213.7 1084.1,215.6 1083.7,216.8 1084.8,219.7 1081.6,220.6 1081.7,222.4 1081.8,224.4 1080.7,224.6 1080.7,227.1 1079.4,228.1 1078.8,229.6 1078.8,230.7 1081.2,229.9 1081.8,229.3 1083.7,228.8 1084.7,228.4 1086.2,228.2 1088.5,228.6 1089.9,228.5 1091.4,227.8 1092.0,227.1 1094.8,227.2 1095.8,227.7 1097.6,227.6 1096.5,228.1 1094.9,228.6 1093.4,229.5 1092.3,230.7 1091.4,232.1 1090.3,233.3 1088.6,233.9 1087.3,234.8 1086.4,236.4 1085.5,238.0 1083.8,239.0 1081.8,239.7 1080.6,240.5 1079.4,241.3 1077.3,242.3 1075.9,243.3 1075.5,244.2 1074.2,245.1 1072.5,244.4 1070.8,242.3 1070.9,242.7 1068.9,241.1 1067.9,240.1 1066.5,239.0 1065.9,238.7 1065.3,236.6 1066.3,235.1 1067.1,234.1 1067.2,232.0 1067.9,230.7 1067.1,229.6 1068.2,227.2 1066.1,227.7 1065.5,226.6 1063.0,226.2 1061.3,225.6 1060.4,225.0 1057.9,223.8 1055.5,224.1 1055.2,224.2 1053.3,224.1 1051.6,224.2 1049.8,224.9 1047.9,225.6 1047.1,226.3 1045.1,227.0 1044.1,227.7 1042.9,228.3 1040.6,228.9 1039.5,229.5 1037.0,230.1 1035.8,230.6 1034.7,231.1 1032.8,231.5 1031.9,232.1 1029.6,232.8 1028.7,233.5 1026.6,231.4 1024.6,230.1 1024.1,230.1 1021.8,228.0 1020.2,228.0 1020.4,225.6 1021.4,224.9 1022.8,224.2 1023.4,222.4 1023.7,221.0 1024.6,219.2 1023.7,218.4 1024.6,215.8 1026.4,217.4 1027.3,217.0 1029.8,216.6 1030.3,215.5 1030.9,215.0 1032.4,214.7 1034.4,214.0 1033.6,210.9 1034.1,210.7 1034.5,208.0 1034.8,207.2"/>
<polygon fill="#FDFBB0" points="1168.3,281.9 1170.0,283.1 1171.2,282.5 1172.9,283.7 1174.2,283.8 1175.7,283.9 1177.2,285.0 1178.6,284.5 1180.2,285.6 1181.5,285.7 1183.1,285.8 1184.5,286.9 1186.0,286.5 1187.5,287.5 1188.9,287.7 1190.5,287.8 1191.8,288.8 1193.4,288.5 1194.7,289.4 1196.3,289.7 1197.7,289.7 1196.3,291.3 1195.2,292.5 1194.5,293.3 1193.8,293.9 1192.4,294.8 1190.5,295.9 1189.1,297.1 1188.6,298.1 1188.3,299.1 1187.1,300.1 1185.1,301.3 1183.4,302.4 1182.7,303.2 1182.4,303.8 1181.5,304.7 1179.8,306.0 1178.2,307.5 1177.1,308.9 1176.4,309.6 1175.5,309.9 1174.2,310.5 1173.0,311.7 1171.9,313.4 1170.8,315.0 1169.4,315.9 1168.2,316.3 1167.5,316.7 1166.8,317.7 1165.5,319.2 1163.6,320.8 1162.2,321.9 1161.6,322.5 1161.3,323.1 1160.2,324.0 1158.2,325.3 1156.5,326.5 1155.7,327.5 1155.4,328.4 1154.5,329.5 1152.9,330.6 1151.2,331.6 1150.1,332.5 1149.4,333.2 1148.5,334.1 1147.2,335.4 1146.0,337.0 1145.0,338.1 1143.8,338.7 1142.4,339.1 1141.2,339.8 1140.5,341.2 1139.8,343.0 1138.5,344.4 1136.7,345.1 1135.2,345.4 1134.6,345.9 1134.3,347.1 1133.2,348.7 1131.3,350.2 1129.5,351.2 1128.7,351.7 1128.4,352.3 1127.6,353.3 1126.0,354.6 1124.3,355.9 1123.2,356.9 1122.5,357.8 1121.5,358.8 1120.3,359.9 1119.0,360.9 1118.0,361.7 1116.8,362.5 1115.5,363.5 1114.2,364.9 1113.5,366.3 1112.8,367.4 1111.6,367.9 1109.8,368.3 1108.2,369.2 1107.6,370.7 1107.3,372.4 1106.3,373.7 1104.4,374.3 1102.6,374.5 1101.7,375.2 1101.4,376.5 1100.6,378.2 1099.0,379.7 1097.3,380.5 1096.9,378.8 1094.1,379.1 1094.0,377.3 1091.7,377.7 1090.4,375.9 1089.5,376.3 1087.4,374.4 1086.4,374.9 1085.0,373.0 1083.3,373.4 1082.0,371.6 1080.9,372.0 1078.5,370.2 1078.5,370.5 1078.7,368.6 1078.9,367.2 1079.9,365.1 1080.6,363.5 1080.5,362.8 1081.2,360.9 1082.5,359.8 1083.2,357.1 1083.8,356.1 1084.6,353.9 1085.8,352.8 1086.4,351.2 1085.4,349.5 1086.6,347.8 1086.5,346.4 1087.7,344.3 1088.8,343.6 1089.7,342.8 1091.8,341.9 1093.7,341.0 1094.8,340.1 1095.4,337.4 1095.7,336.7 1097.0,335.1 1098.2,334.1 1098.3,332.0 1099.0,331.6 1101.2,331.1 1102.7,330.6 1104.8,331.7 1106.0,332.1 1106.7,334.1 1109.5,334.3 1110.5,332.8 1112.5,331.8 1114.5,331.2 1115.1,329.2 1115.0,327.8 1115.4,326.6 1116.4,325.1 1117.0,323.3 1117.4,322.0 1115.7,319.0 1116.4,318.4 1115.9,317.0 1115.4,314.0 1114.3,313.3 1114.1,312.2 1113.7,310.5 1113.5,309.6 1114.0,308.4 1114.9,306.9 1116.6,305.8 1118.3,304.9 1119.8,303.8 1120.6,302.2 1121.1,300.6 1121.9,299.5 1122.8,299.3 1124.2,297.8 1124.5,296.1 1124.9,295.0 1126.3,293.1 1128.5,292.1 1130.1,291.1 1131.2,290.2 1133.4,291.0 1133.9,291.7 1136.1,291.1 1138.1,290.8 1139.7,291.0 1141.2,290.6 1142.3,290.0 1144.3,289.9 1146.1,290.3 1147.8,289.5 1150.0,288.7 1151.0,287.9 1153.4,287.1 1154.5,286.4 1154.9,285.6 1156.2,284.7 1158.1,283.7 1159.4,282.6 1160.9,281.9 1163.2,281.2 1164.2,280.5 1166.2,279.8 1166.6,281.6"/>
<polygon fill="#FFC200" points="1074.2,245.1 1075.5,244.2 1075.9,243.3 1077.3,242.3 1079.4,241.3 1080.6,240.5 1081.8,239.7 1083.8,239.0 1085.5,238.0 1086.4,236.4 1087.3,234.8 1088.6,233.9 1090.3,233.3 1091.4,232.1 1092.3,230.7 1093.4,229.5 1094.9,228.6 1096.5,228.1 1097.6,227.6 1099.0,227.9 1099.9,229.0 1102.5,230.0 1103.7,231.3 1104.8,231.7 1106.5,233.0 1106.9,233.9 1108.2,235.5 1110.5,235.3 1110.6,236.8 1113.0,236.6 1114.4,236.0 1115.7,237.2 1118.2,238.2 1119.3,240.0 1119.6,240.7 1122.3,241.3 1122.4,242.7 1124.2,242.7 1126.1,244.1 1125.9,245.5 1124.7,246.9 1123.7,248.0 1125.1,249.9 1125.2,251.9 1126.7,252.9 1127.5,254.2 1128.4,256.0 1130.8,256.2 1131.4,257.1 1132.2,259.3 1133.6,261.8 1133.3,261.5 1131.2,260.5 1129.6,260.9 1127.8,261.9 1127.1,261.5 1124.9,260.5 1123.2,260.9 1121.5,261.9 1121.0,262.6 1118.7,262.6 1117.4,262.1 1115.0,261.9 1114.6,262.4 1112.4,261.7 1110.1,261.3 1109.4,261.2 1107.1,260.9 1106.1,261.3 1105.1,264.1 1105.1,264.2 1104.6,267.3 1105.6,267.3 1104.5,270.3 1104.4,270.5 1104.6,273.1 1104.8,274.3 1103.8,275.8 1104.4,278.2 1104.5,278.7 1103.8,281.6 1103.9,282.1 1104.2,284.6 1104.5,286.6 1105.9,287.4 1106.1,288.5 1106.4,290.8 1106.8,293.4 1107.5,294.0 1108.4,295.7 1106.3,296.5 1105.1,297.2 1102.7,297.6 1101.0,297.0 1099.8,297.6 1098.3,297.2 1096.4,296.3 1095.2,297.0 1094.0,296.8 1091.4,295.6 1091.1,296.3 1088.7,296.7 1086.9,295.3 1085.5,295.3 1084.9,296.1 1083.1,297.0 1081.3,297.9 1080.2,299.0 1078.9,300.0 1077.2,301.0 1076.2,301.9 1074.6,300.7 1072.8,300.7 1070.8,300.4 1069.3,300.2 1068.6,297.6 1068.7,296.1 1068.3,294.9 1069.7,292.4 1069.8,292.3 1070.8,289.4 1070.7,288.7 1070.4,287.0 1071.4,285.6 1071.4,283.6 1072.8,283.2 1072.5,280.2 1072.6,280.0 1073.1,277.7 1073.2,276.4 1074.6,275.6 1077.1,274.9 1078.3,274.3 1079.9,273.6 1081.9,272.9 1082.6,272.2 1084.1,271.6 1084.0,269.5 1084.9,268.0 1085.1,266.4 1085.6,265.0 1084.7,262.8 1084.8,262.8 1082.8,261.1 1081.0,260.6 1081.0,260.0 1078.3,258.1 1077.6,258.7 1076.8,256.4 1074.1,256.6 1074.2,255.3 1072.5,253.5 1072.9,251.7 1072.4,250.3 1072.7,247.7 1073.5,246.9"/>
<polygon fill="#FF6633" points="1076.2,301.9 1077.2,301.0 1078.9,300.0 1080.2,299.0 1081.3,297.9 1083.1,297.0 1084.9,296.1 1085.5,295.3 1086.9,295.3 1088.7,296.7 1091.1,296.3 1091.4,295.6 1094.0,296.8 1095.2,297.0 1096.4,296.3 1098.3,297.2 1099.8,297.6 1101.0,297.0 1102.7,297.6 1105.1,297.2 1106.3,296.5 1108.4,295.7 1106.1,296.7 1105.1,297.7 1102.6,298.7 1101.1,299.7 1098.2,300.2 1100.3,301.1 1103.0,302.0 1104.6,303.0 1107.1,304.0 1107.1,305.4 1108.1,307.4 1107.3,308.8 1108.5,309.4 1108.8,312.0 1110.0,313.8 1109.9,314.4 1110.3,316.2 1110.4,317.4 1109.4,318.6 1107.3,319.9 1105.8,321.0 1105.0,322.0 1103.1,322.5 1101.9,323.0 1100.8,323.5 1098.5,324.0 1097.5,324.4 1094.6,323.9 1094.3,324.9 1092.3,324.1 1090.2,323.1 1089.2,324.1 1086.9,321.9 1087.0,322.3 1085.0,320.5 1083.1,319.2 1083.2,319.4 1080.8,317.1 1080.4,316.4 1079.9,315.1 1078.9,313.2 1078.8,312.2 1077.6,310.5 1077.3,308.0 1076.0,307.3 1076.0,305.9 1075.6,304.4 1075.6,303.3 1072.9,301.6 1072.9,301.8 1070.2,300.1 1069.3,300.2 1070.8,300.4 1072.8,300.7 1074.6,300.7"/>
<polygon fill="#FFC200" points="1106.1,261.3 1107.1,260.9 1109.4,261.2 1110.1,261.3 1112.4,261.7 1114.6,262.4 1115.0,261.9 1117.4,262.1 1118.7,262.6 1121.0,262.6 1121.5,261.9 1123.2,260.9 1124.9,260.5 1127.1,261.5 1127.8,261.9 1129.6,260.9 1131.2,260.5 1133.3,261.5 1133.6,261.8 1136.4,260.9 1137.3,261.6 1138.9,262.3 1140.5,261.9 1142.2,262.3 1143.3,262.7 1143.8,265.0 1145.3,265.7 1145.5,266.9 1145.9,269.2 1145.7,270.6 1146.3,271.8 1146.7,274.3 1147.8,274.2 1149.7,275.0 1149.0,275.6 1146.8,276.4 1144.9,277.1 1143.8,277.9 1141.7,278.8 1140.4,279.6 1140.2,281.0 1139.2,282.8 1138.5,283.5 1139.4,286.0 1138.3,287.3 1137.7,289.0 1137.3,289.9 1136.1,292.1 1134.9,293.9 1133.9,294.4 1131.4,295.0 1130.0,294.8 1127.6,294.7 1126.7,295.6 1125.2,296.3 1123.8,297.6 1122.9,299.4 1120.8,298.5 1119.4,298.2 1117.9,298.1 1116.5,297.9 1114.2,297.8 1112.6,298.9 1110.1,299.4 1108.8,299.9 1106.4,300.3 1105.4,300.7 1103.4,301.1 1102.6,301.1 1100.4,299.7 1098.2,300.2 1101.1,299.7 1102.6,298.7 1105.1,297.7 1106.1,296.7 1108.4,295.7 1107.5,294.0 1106.8,293.4 1106.4,290.8 1106.1,288.5 1105.9,287.4 1104.5,286.6 1104.2,284.6 1103.9,282.1 1103.8,281.6 1104.5,278.7 1104.4,278.2 1103.8,275.8 1104.8,274.3 1104.6,273.1 1104.4,270.5 1104.5,270.3 1105.6,267.3 1104.6,267.3 1105.1,264.2 1105.1,264.1"/>
<polygon fill="#FF6633" points="1098.2,300.2 1100.4,299.7 1102.6,301.1 1103.4,301.1 1105.4,300.7 1106.4,300.3 1108.8,299.9 1110.1,299.4 1112.6,298.9 1114.2,297.8 1116.5,297.9 1117.9,298.1 1119.4,298.2 1120.8,298.5 1122.9,299.4 1121.9,299.5 1120.7,300.9 1119.8,303.0 1118.9,304.4 1117.5,305.3 1115.9,305.9 1114.7,306.7 1113.9,307.7 1112.3,309.4 1110.3,310.9 1108.8,312.0 1108.5,309.4 1107.3,308.8 1108.1,307.4 1107.1,305.4 1107.1,304.0 1104.6,303.0 1103.0,302.0 1100.3,301.1"/>
<polygon fill="#FFC200" points="1123.7,248.0 1125.1,246.9 1126.1,244.5 1126.3,243.2 1127.0,242.8 1129.4,242.4 1130.8,243.7 1132.2,244.5 1134.2,245.0 1135.6,247.2 1136.2,247.0 1138.1,248.5 1139.3,249.8 1140.3,250.2 1142.4,249.6 1144.1,249.4 1146.4,249.5 1147.8,249.3 1150.2,248.3 1151.5,247.4 1153.8,246.7 1155.3,245.9 1156.4,244.5 1157.1,242.7 1158.3,241.7 1159.9,241.1 1157.2,238.7 1159.9,238.0 1161.4,237.6 1163.9,236.9 1165.0,236.1 1166.4,238.1 1166.6,238.7 1167.7,240.4 1168.1,241.9 1168.8,242.4 1169.5,244.2 1170.0,245.5 1171.2,246.3 1171.4,248.5 1172.9,249.8 1172.0,251.2 1171.9,252.4 1170.9,254.4 1169.7,255.4 1169.5,255.7 1168.9,258.0 1167.5,259.7 1167.0,260.1 1166.7,261.6 1165.3,263.0 1164.5,264.3 1164.3,266.1 1163.2,266.6 1162.0,267.6 1161.8,270.2 1161.0,271.0 1159.6,271.6 1159.2,273.5 1158.8,274.7 1157.4,276.1 1155.8,275.4 1155.2,275.4 1152.2,275.1 1151.4,275.1 1150.0,273.9 1147.5,274.3 1146.7,274.3 1146.3,271.8 1145.7,270.6 1145.9,269.2 1145.5,266.9 1145.3,265.7 1143.8,265.0 1143.3,262.7 1142.2,262.3 1140.5,261.9 1138.9,262.3 1137.3,261.6 1136.4,260.9 1133.6,261.8 1132.2,259.3 1131.4,257.1 1130.8,256.2 1128.4,256.0 1127.5,254.2 1126.7,252.9 1125.2,251.9 1125.1,249.9"/>
<polygon fill="#FFC200" points="1199.4,209.0 1202.3,207.6 1203.7,206.2 1204.7,205.3 1204.7,207.3 1204.7,208.7 1207.7,210.0 1206.2,207.6 1205.8,206.2 1204.7,204.7 1207.0,204.3 1208.3,203.7 1207.7,201.8 1206.8,200.8 1208.3,199.3 1211.2,198.4 1211.7,196.8 1212.7,196.2 1214.1,194.7 1214.3,193.6 1214.8,192.0 1216.1,191.9 1218.4,191.7 1218.7,191.6 1220.9,191.6 1222.4,191.4 1224.4,191.0 1224.9,190.9 1227.0,191.1 1228.7,191.1 1230.4,190.6 1231.1,190.1 1233.0,190.2 1235.0,190.6 1236.3,190.5 1237.4,189.8 1237.6,191.8 1237.9,192.7 1237.7,194.9 1237.6,195.7 1237.4,197.9 1238.4,198.8 1237.2,200.7 1237.6,202.1 1238.4,203.4 1237.1,205.3 1237.9,206.2 1237.9,208.6 1237.6,209.1 1237.6,211.6 1237.7,212.1 1238.2,214.5 1237.0,215.4 1238.0,217.2 1238.0,218.7 1237.0,219.9 1238.2,222.1 1237.7,222.6 1237.6,225.3 1237.6,225.5 1237.9,228.3 1237.9,228.7 1237.1,231.0 1238.4,232.0 1237.6,233.7 1237.2,235.5 1238.3,236.3 1237.4,238.8 1237.6,239.0 1237.7,242.0 1237.9,242.0 1237.6,244.9 1237.4,245.3 1238.4,247.5 1237.1,248.7 1237.6,250.1 1238.3,252.2 1237.2,252.7 1237.8,255.5 1237.8,255.5 1237.8,258.6 1237.4,258.6 1237.7,261.4 1238.2,261.9 1236.9,264.0 1238.1,265.4 1238.0,266.5 1237.1,268.9 1238.1,269.2 1237.7,272.1 1237.7,272.1 1237.5,275.1 1238.0,275.3 1237.9,277.9 1237.0,278.7 1238.4,280.4 1237.5,282.1 1237.3,283.0 1238.2,285.5 1237.5,285.7 1237.7,288.7 1237.6,288.7 1238.1,291.6 1237.5,292.0 1237.4,294.3 1238.5,295.4 1237.1,296.9 1237.7,298.8 1238.2,299.5 1236.0,299.8 1234.7,299.4 1233.6,298.5 1231.3,299.0 1230.9,297.8 1228.3,297.8 1227.7,297.6 1225.8,296.6 1224.3,296.9 1223.3,296.0 1221.0,295.8 1220.5,295.7 1218.1,294.8 1217.3,294.9 1215.5,294.3 1214.0,293.9 1212.9,293.7 1210.8,293.0 1210.1,292.9 1207.9,292.4 1206.9,292.0 1205.3,291.7 1203.6,291.3 1202.6,290.9 1200.6,290.5 1199.6,290.2 1197.7,289.7 1196.5,289.5 1195.0,289.0 1193.3,288.6 1192.2,288.4 1190.4,287.7 1189.2,287.6 1187.5,287.1 1186.1,286.6 1184.6,286.6 1183.1,285.7 1181.7,285.7 1180.2,285.3 1178.7,284.5 1177.2,284.9 1175.8,283.8 1174.3,283.8 1172.9,283.6 1171.3,282.5 1170.0,283.0 1168.3,281.9 1166.8,281.8 1165.0,280.4 1164.4,280.4 1163.5,278.1 1163.5,277.3 1163.8,275.3 1163.8,274.1 1163.7,272.5 1163.3,270.9 1164.4,269.7 1163.4,267.7 1165.4,266.5 1166.9,265.6 1167.4,265.1 1167.8,264.6 1169.1,263.8 1171.1,262.4 1172.9,260.8 1173.7,259.3 1174.1,258.3 1175.0,257.7 1176.2,257.0 1177.6,255.3 1178.3,254.4 1178.7,253.0 1179.7,250.6 1181.2,249.7 1182.2,248.9 1182.7,247.2 1183.4,246.4 1184.7,245.1 1185.7,242.7 1186.0,241.9 1186.8,241.3 1188.2,239.5 1188.9,238.2 1189.1,236.8 1189.9,234.7 1189.5,232.6 1188.0,231.2 1187.1,230.3 1186.5,228.1 1187.1,227.4 1185.9,225.2 1186.9,224.0 1186.7,222.2 1185.9,220.6 1187.6,219.9 1189.4,219.2 1190.4,218.4 1192.6,217.6 1194.3,217.2 1196.7,217.4 1197.5,217.2 1199.8,216.3 1200.0,215.0 1200.5,213.8 1200.3,211.5"/>
<polygon fill="#FFC200" points="1168.5,215.2 1169.6,214.3 1171.5,213.4 1172.4,212.7 1174.8,212.0 1176.2,212.4 1177.3,213.2 1178.7,212.9 1180.7,211.8 1181.3,214.1 1182.8,215.5 1181.7,217.1 1180.5,217.9 1177.9,218.5 1177.8,221.3 1179.3,220.4 1181.7,220.2 1183.3,220.8 1185.4,221.0 1185.9,220.6 1186.7,222.2 1186.9,224.0 1185.9,225.2 1187.1,227.4 1186.5,228.1 1187.1,230.3 1188.0,231.2 1189.5,232.6 1189.9,234.7 1189.1,236.8 1187.6,238.0 1186.4,238.7 1185.7,239.7 1185.0,241.2 1183.7,242.8 1181.9,243.9 1180.1,244.3 1178.1,243.6 1177.8,243.5 1174.8,243.4 1174.0,243.2 1172.4,243.4 1170.8,242.9 1170.0,241.6 1168.8,240.2 1168.4,239.9 1166.4,238.2 1167.1,235.9 1165.4,235.0 1166.0,233.2 1165.7,230.9 1165.1,230.2 1164.0,228.2 1163.6,227.3 1162.5,226.2 1163.2,223.4 1164.7,221.5 1166.1,221.4 1168.2,220.9 1169.4,220.0 1169.5,218.8 1168.3,217.7"/>
<polygon fill="#FFC200" points="1167.4,204.3 1169.6,203.5 1171.0,202.7 1173.2,202.1 1174.7,202.4 1176.2,202.6 1178.3,202.0 1179.3,201.7 1181.4,200.4 1183.0,202.7 1184.3,202.0 1185.8,204.0 1186.9,205.0 1188.1,206.2 1188.3,208.3 1190.0,209.9 1190.6,210.7 1192.5,210.9 1194.6,211.0 1195.8,210.4 1198.3,209.7 1199.4,209.0 1200.3,211.5 1200.5,213.8 1200.0,215.0 1199.8,216.3 1197.5,217.2 1196.7,217.4 1194.3,217.2 1192.6,217.6 1190.4,218.4 1189.4,219.2 1187.6,219.9 1185.9,220.6 1185.4,221.0 1183.3,220.8 1181.7,220.2 1179.3,220.4 1177.8,221.3 1177.9,218.5 1180.5,217.9 1181.7,217.1 1182.8,215.5 1181.3,214.1 1180.7,211.8 1178.7,212.9 1177.3,213.2 1176.2,212.4 1174.8,212.0 1172.4,212.7 1171.5,213.4 1169.6,214.3 1168.5,215.2 1168.9,213.3 1169.1,212.5 1168.6,210.1 1169.1,209.7 1169.8,207.0 1168.2,205.9"/>
<polygon fill="#FFC200" points="1149.0,202.3 1151.8,203.4 1154.3,203.6 1155.2,203.1 1156.9,203.0 1157.7,202.8 1160.1,202.4 1161.7,201.9 1164.4,202.7 1165.5,203.1 1167.0,202.5 1168.6,204.3 1169.2,204.5 1171.0,205.7 1169.7,208.2 1170.2,208.6 1170.5,211.7 1169.9,212.2 1170.2,214.6 1170.3,216.0 1169.2,217.4 1169.4,220.0 1168.2,220.9 1166.1,221.4 1164.7,221.5 1163.2,223.4 1162.5,226.2 1161.9,225.8 1160.0,224.8 1158.6,225.2 1156.1,226.2 1156.0,224.2 1154.3,223.3 1154.2,222.0 1152.8,220.2 1152.5,219.6 1150.5,220.5 1149.2,221.2 1148.4,221.9 1148.9,220.3 1148.6,219.3 1149.0,216.4 1150.1,214.9 1149.1,213.4 1149.7,211.2 1151.0,209.5 1150.1,207.5 1150.4,205.2 1150.0,204.8"/>
<polygon fill="#FF6633" points="1134.3,221.5 1133.7,220.8 1134.1,218.3 1133.9,216.9 1135.2,215.4 1134.3,213.2 1136.3,214.6 1137.4,215.3 1138.1,215.8 1140.5,217.8 1141.4,218.2 1142.2,219.2 1144.0,221.6 1146.1,222.2 1148.4,221.9 1149.2,221.2 1150.5,220.5 1152.5,219.6 1152.8,220.2 1154.2,222.0 1154.3,223.3 1156.0,224.2 1156.1,226.2 1158.6,225.2 1160.0,224.8 1161.9,225.8 1162.5,226.2 1164.4,226.1 1163.4,226.3 1161.2,226.8 1160.0,227.5 1158.1,228.3 1156.6,229.2 1156.3,229.9 1154.1,230.6 1152.8,231.4 1151.2,232.1 1150.8,233.6 1151.0,235.7 1151.7,236.7 1150.6,239.8 1151.3,240.0 1151.1,242.9 1150.7,243.7 1149.8,245.7 1148.9,246.8 1147.8,249.3 1146.4,249.5 1144.1,249.4 1142.4,249.6 1140.3,250.2 1139.3,249.8 1138.1,248.5 1136.2,247.0 1135.6,247.2 1134.2,245.0 1132.2,244.5 1133.5,243.3 1133.3,241.2 1133.3,240.5 1133.0,237.7 1133.8,237.5 1133.6,234.4 1132.9,234.3 1134.2,231.4 1133.4,230.9 1133.6,228.6 1133.5,227.4 1134.2,225.5 1133.0,223.9"/>
<polygon fill="#FFC200" points="1151.2,232.1 1152.8,231.4 1154.1,230.6 1156.3,229.9 1156.8,229.2 1158.4,228.4 1160.0,227.7 1160.9,226.9 1163.3,226.1 1164.7,226.6 1165.0,229.1 1164.9,230.6 1164.0,232.5 1164.7,234.1 1165.0,236.1 1163.9,236.9 1161.4,237.6 1159.9,238.0 1157.2,238.7 1159.9,241.1 1158.3,241.7 1157.1,242.7 1156.4,244.5 1155.3,245.9 1153.8,246.7 1151.5,247.4 1150.2,248.3 1147.8,249.3 1148.9,246.8 1149.8,245.7 1150.7,243.7 1151.1,242.9 1151.3,240.0 1150.6,239.8 1151.7,236.7 1151.0,235.7 1150.8,233.6"/>
<polygon fill="#FF6633" points="1079.0,205.0 1081.2,204.8 1081.8,204.7 1084.0,205.9 1085.1,205.8 1087.8,204.9 1088.5,203.9 1089.9,203.3 1091.3,204.1 1093.8,204.8 1094.5,204.0 1096.4,205.8 1096.7,206.4 1098.3,208.1 1098.4,208.7 1099.3,209.4 1098.2,212.4 1097.1,213.3 1096.1,215.3 1095.1,217.3 1095.4,218.6 1096.0,220.1 1095.3,222.5 1096.7,224.4 1097.7,225.2 1098.3,227.1 1097.4,227.7 1096.3,228.3 1094.6,228.7 1093.6,229.1 1091.0,229.6 1089.8,230.2 1088.7,230.7 1087.4,230.9 1085.7,230.7 1083.4,230.6 1083.1,231.1 1081.1,231.8 1079.9,232.1 1078.6,230.4 1079.3,228.0 1079.1,227.8 1077.9,225.7 1078.2,223.8 1079.2,222.5 1080.3,221.8 1081.5,221.4 1082.5,220.6 1082.8,218.1 1081.4,216.2 1081.0,215.6 1080.7,213.8 1080.7,212.6 1080.6,210.5 1079.1,209.2 1079.7,208.6 1079.3,205.7"/>
<polygon fill="#FF6633" points="1098.2,212.4 1100.9,211.5 1102.4,210.8 1103.5,213.1 1104.1,215.3 1105.1,216.3 1105.1,217.9 1105.5,219.4 1105.8,220.7 1107.9,222.3 1109.4,221.4 1110.8,223.3 1112.5,222.8 1114.1,222.2 1116.2,221.7 1117.3,221.1 1119.1,221.8 1122.0,222.3 1122.7,223.5 1124.1,222.6 1125.7,221.1 1126.8,219.5 1127.1,218.5 1129.0,218.4 1130.1,218.6 1132.4,218.6 1132.9,220.5 1134.3,221.5 1133.0,223.9 1134.2,225.5 1133.5,227.4 1133.6,228.6 1133.4,230.9 1134.2,231.4 1132.9,234.3 1133.6,234.4 1133.8,237.5 1133.0,237.7 1133.3,240.5 1133.3,241.2 1133.5,243.3 1132.2,244.5 1130.8,243.7 1129.4,242.4 1127.0,242.8 1126.3,243.2 1124.2,242.7 1122.4,242.7 1122.3,241.3 1119.6,240.7 1119.3,240.0 1117.5,238.9 1115.6,237.9 1114.0,238.7 1111.6,239.5 1110.7,240.2 1109.3,241.0 1109.8,241.8 1108.4,243.5 1108.4,245.2 1107.3,246.4 1106.3,247.0 1106.0,248.9 1105.2,250.9 1103.8,251.4 1103.1,251.8 1101.9,250.9 1101.5,249.6 1099.8,247.5 1099.2,247.2 1098.8,246.2 1096.7,243.8 1095.5,243.2 1094.5,242.5 1093.1,240.3 1093.0,239.1 1091.5,237.5 1091.5,235.3 1092.6,234.7 1093.9,233.8 1095.2,232.1 1096.1,231.0 1096.6,230.5 1097.2,229.0 1098.3,227.1 1097.7,225.2 1096.7,224.4 1095.3,222.5 1096.0,220.1 1095.4,218.6 1095.1,217.3 1096.1,215.3 1097.1,213.3"/>
<polygon fill="#FFC200" points="1093.4,196.3 1095.6,197.5 1095.9,197.6 1098.6,196.5 1099.9,197.3 1102.2,195.3 1103.5,194.3 1104.5,196.6 1104.6,197.8 1106.1,199.0 1106.1,201.0 1106.5,203.4 1108.2,203.1 1109.0,205.0 1111.8,204.4 1112.6,203.8 1115.0,203.0 1116.2,201.9 1118.7,201.0 1120.2,200.9 1121.2,202.7 1121.2,204.4 1123.0,204.4 1125.3,205.9 1126.9,207.2 1127.9,206.9 1130.9,209.1 1131.6,209.7 1131.9,210.1 1133.6,211.8 1134.4,212.5 1136.4,214.7 1134.9,215.3 1136.3,217.5 1135.2,219.5 1134.4,220.3 1134.3,221.5 1132.9,220.5 1132.4,218.6 1130.1,218.6 1129.0,218.4 1127.1,218.5 1126.8,219.5 1125.7,221.1 1124.1,222.6 1122.7,223.5 1122.0,222.3 1119.1,221.8 1117.3,221.1 1116.2,221.7 1114.1,222.2 1112.5,222.8 1110.8,223.3 1109.4,221.4 1107.9,222.3 1105.8,220.7 1105.5,219.4 1105.1,217.9 1105.1,216.3 1104.1,215.3 1103.5,213.1 1102.4,210.8 1100.9,211.5 1098.4,211.3 1097.2,211.0 1096.9,209.3 1094.4,208.4 1093.2,207.5 1093.1,205.6 1094.2,204.9 1093.0,202.3 1093.5,202.1 1093.7,199.2 1093.5,199.1"/>
<polygon fill="#FF6633" points="1120.2,200.9 1123.7,200.4 1124.5,199.4 1125.6,198.5 1127.5,197.5 1128.5,196.6 1129.7,195.7 1132.3,195.2 1133.4,195.0 1135.9,194.4 1136.9,193.9 1138.1,193.4 1139.7,193.0 1140.6,192.5 1143.6,192.9 1144.7,193.4 1145.6,192.9 1147.3,194.8 1147.5,195.9 1148.8,197.5 1148.8,200.0 1149.3,200.1 1149.0,202.3 1150.0,204.8 1150.4,205.2 1150.1,207.5 1151.0,209.5 1149.7,211.2 1149.1,213.4 1150.1,214.9 1149.0,216.4 1148.6,219.3 1148.9,220.3 1148.4,221.9 1146.1,222.2 1144.0,221.6 1142.2,219.2 1141.4,218.2 1140.5,217.8 1138.0,215.8 1136.9,214.6 1136.4,214.7 1134.4,212.5 1133.6,211.8 1131.9,210.1 1131.6,209.7 1130.9,209.1 1127.9,206.9 1126.9,207.2 1125.3,205.9 1123.0,204.4 1121.2,204.4 1121.2,202.7"/>
<polygon fill="#FF6633" points="1101.2,194.2 1103.2,193.8 1104.1,193.2 1105.9,192.7 1108.2,192.1 1109.2,191.4 1111.1,190.7 1110.9,187.9 1111.2,186.1 1112.5,184.1 1112.2,182.8 1112.1,181.8 1112.3,179.1 1113.1,178.7 1115.8,177.8 1117.0,176.9 1118.0,175.4 1120.7,175.7 1122.2,176.0 1123.3,176.0 1125.8,178.2 1128.3,178.5 1128.6,178.8 1131.1,179.0 1132.2,179.4 1133.3,179.4 1132.5,180.4 1132.4,183.1 1131.4,184.0 1130.5,185.7 1130.6,186.5 1130.6,189.1 1129.3,190.6 1128.9,192.6 1129.9,194.5 1129.7,195.7 1128.5,196.6 1127.5,197.5 1125.6,198.5 1124.5,199.4 1123.7,200.4 1120.2,200.9 1118.7,201.0 1116.2,201.9 1115.0,203.0 1112.6,203.8 1111.8,204.4 1109.0,205.0 1108.2,203.1 1106.5,203.4 1106.1,201.0 1106.1,199.0 1104.6,197.8 1104.5,196.6 1103.5,194.3"/>
<polygon fill="#FFC200" points="1133.3,179.4 1135.5,179.1 1137.2,178.9 1137.9,178.8 1139.7,178.6 1141.0,178.2 1143.1,177.3 1144.6,175.7 1145.5,174.2 1146.7,173.3 1149.0,172.9 1150.6,172.2 1152.7,171.5 1154.1,172.0 1155.6,171.6 1158.1,173.4 1159.4,173.5 1160.0,175.3 1160.6,176.9 1160.4,178.2 1159.8,181.0 1159.3,183.1 1160.4,185.0 1158.5,185.1 1156.5,185.4 1155.7,185.7 1153.9,186.1 1153.0,186.3 1150.2,186.4 1149.2,186.7 1147.1,187.3 1147.7,189.2 1147.0,189.8 1147.1,192.8 1145.6,192.9 1144.7,193.4 1143.6,192.9 1140.6,192.5 1139.7,193.0 1138.1,193.4 1136.9,193.9 1135.9,194.4 1133.4,195.0 1132.3,195.2 1129.7,195.7 1129.9,194.5 1128.9,192.6 1129.3,190.6 1130.6,189.1 1130.6,186.5 1130.5,185.7 1131.4,184.0 1132.4,183.1 1132.5,180.4"/>
<polygon fill="#FFC200" points="1100.2,168.9 1101.4,168.3 1102.9,167.8 1104.8,167.7 1106.6,167.5 1108.1,167.4 1109.9,169.6 1112.7,169.5 1113.5,169.0 1115.6,168.5 1115.6,169.5 1117.0,171.2 1117.2,173.5 1118.0,175.4 1117.0,176.9 1115.8,177.8 1113.1,178.7 1112.3,179.1 1109.7,180.0 1108.7,181.0 1107.4,181.5 1106.0,181.5 1104.4,181.1 1102.0,181.0 1102.5,180.4 1101.9,179.0 1102.1,177.1 1100.8,175.7 1101.1,174.0 1100.9,171.7 1099.9,170.6"/>
<polygon fill="#FF6633" points="1110.3,144.7 1112.1,146.2 1112.1,147.2 1113.6,148.7 1116.0,150.2 1117.0,151.1 1117.8,152.1 1120.1,153.2 1121.9,152.6 1122.7,153.0 1124.6,153.7 1126.4,153.2 1127.9,152.4 1128.9,152.2 1130.7,152.4 1132.4,152.7 1134.6,152.5 1136.2,151.2 1138.3,149.9 1139.9,151.7 1141.3,151.4 1141.7,153.8 1142.3,155.1 1141.4,156.4 1142.7,159.1 1143.0,159.0 1144.9,160.5 1146.7,162.2 1148.3,161.1 1149.7,161.9 1150.5,163.2 1151.4,165.4 1153.2,166.2 1154.7,167.3 1155.4,168.8 1154.7,169.9 1154.1,172.0 1152.7,171.5 1150.6,172.2 1149.0,172.9 1146.7,173.3 1145.5,174.2 1144.6,175.7 1143.1,177.3 1141.0,178.2 1139.7,178.6 1137.9,178.8 1137.2,178.9 1135.5,179.1 1133.3,179.4 1132.2,179.4 1131.1,179.0 1128.6,178.8 1128.3,178.5 1125.8,178.2 1123.3,176.0 1122.2,176.0 1120.7,175.7 1118.0,175.4 1117.2,173.5 1117.0,171.2 1115.6,169.5 1115.6,168.5 1115.4,166.4 1114.9,164.4 1113.4,162.9 1114.7,162.2 1114.1,159.8 1114.3,159.1 1114.2,156.7 1112.6,155.2 1112.1,154.0 1111.4,152.5 1109.8,152.1 1108.9,151.0 1108.0,148.9 1108.3,147.3 1106.8,145.7 1109.2,145.1"/>
<polygon fill="#FF6633" points="1112.1,110.4 1114.1,109.8 1114.7,109.6 1116.6,110.3 1118.4,110.4 1119.6,109.7 1120.8,109.7 1123.1,110.4 1124.1,110.3 1125.3,109.5 1127.3,109.7 1128.9,110.5 1129.7,110.2 1131.7,109.4 1133.5,109.9 1134.4,110.6 1136.0,110.0 1138.1,109.4 1139.1,110.0 1140.3,110.6 1142.5,109.9 1143.8,109.4 1143.0,112.2 1144.4,112.3 1143.4,115.3 1143.5,115.5 1143.8,118.1 1143.8,118.9 1143.6,120.7 1143.3,122.3 1144.4,123.5 1143.1,125.6 1143.6,126.4 1144.2,128.7 1143.1,129.4 1143.8,131.6 1143.6,132.6 1143.8,134.5 1143.3,135.8 1143.7,137.5 1143.5,139.2 1142.8,140.5 1143.0,142.5 1143.3,143.7 1142.5,145.8 1142.2,146.7 1141.8,148.8 1142.6,150.3 1141.3,151.4 1139.9,151.7 1138.3,149.9 1136.2,151.2 1134.6,152.5 1132.4,152.7 1130.7,152.4 1128.9,152.2 1127.9,152.4 1126.4,153.2 1124.6,153.7 1122.7,153.0 1121.9,152.6 1120.1,153.2 1117.8,152.1 1117.0,151.1 1116.0,150.2 1113.6,148.7 1112.1,147.2 1112.1,146.2 1110.3,144.7 1110.5,143.7 1110.6,141.5 1110.0,140.3 1111.2,138.4 1110.8,136.6 1111.2,135.3 1111.1,132.8 1112.3,132.0 1111.3,129.8 1111.8,128.8 1111.7,126.9 1112.8,125.5 1111.4,124.0 1112.3,122.4 1112.4,120.7 1111.7,119.5 1112.3,117.4 1112.1,116.7 1112.3,114.1 1111.6,113.7 1112.6,111.0"/>
<polygon fill="#663300" points="1143.8,109.4 1144.9,110.2 1146.7,110.7 1148.8,109.7 1149.4,109.3 1151.4,110.3 1153.1,110.7 1154.8,109.6 1155.3,109.3 1158.0,110.4 1159.1,110.6 1160.7,109.6 1161.6,109.4 1164.5,110.4 1163.3,111.2 1163.5,113.4 1164.0,114.5 1163.5,116.1 1163.6,118.0 1163.4,118.8 1164.2,121.4 1163.0,121.6 1163.7,124.7 1164.0,124.6 1162.9,127.6 1163.8,128.0 1163.5,130.4 1163.6,131.4 1163.1,133.1 1163.9,134.8 1163.6,135.9 1162.8,138.0 1164.2,139.0 1163.1,141.1 1163.3,142.2 1163.6,144.0 1161.9,144.9 1160.4,146.6 1159.3,148.1 1158.5,148.7 1157.4,149.8 1156.0,151.5 1154.3,153.1 1153.1,153.8 1151.7,155.6 1151.9,157.9 1152.1,160.3 1148.3,161.1 1146.7,162.2 1144.9,160.5 1143.0,159.0 1142.7,159.1 1141.4,156.4 1142.3,155.1 1141.7,153.8 1141.3,151.4 1142.6,150.3 1141.8,148.8 1142.2,146.7 1142.5,145.8 1143.3,143.7 1143.0,142.5 1142.8,140.5 1143.5,139.2 1143.7,137.5 1143.3,135.8 1143.8,134.5 1143.6,132.6 1143.8,131.6 1143.1,129.4 1144.2,128.7 1143.6,126.4 1143.1,125.6 1144.4,123.5 1143.3,122.3 1143.6,120.7 1143.8,118.9 1143.8,118.1 1143.5,115.5 1143.4,115.3 1144.4,112.3 1143.0,112.2"/>
<polygon fill="#FF6633" points="1164.5,110.4 1164.8,110.5 1166.8,109.5 1168.1,109.6 1170.3,110.5 1170.5,110.3 1173.2,109.5 1174.2,109.7 1175.9,110.5 1176.8,110.2 1179.6,109.5 1179.8,109.9 1181.9,110.5 1183.3,110.1 1185.3,109.6 1185.6,110.0 1188.4,110.4 1189.3,109.9 1190.9,109.6 1191.9,110.1 1194.7,110.3 1194.8,109.9 1197.0,109.7 1198.4,110.1 1200.3,110.2 1200.7,109.9 1203.6,109.9 1204.4,110.1 1206.0,110.1 1207.2,109.9 1209.7,109.9 1209.9,110.1 1212.1,110.0 1213.6,110.0 1215.3,110.0 1215.9,110.0 1218.6,110.0 1219.5,110.1 1221.0,110.0 1222.4,109.9 1224.7,110.0 1225.1,110.2 1227.2,110.0 1228.8,109.8 1230.2,110.0 1231.1,110.2 1233.7,109.9 1234.6,109.7 1236.0,110.1 1237.7,110.3 1238.2,111.0 1237.3,113.6 1237.8,113.9 1237.7,116.7 1238.0,117.0 1237.3,119.5 1237.8,120.2 1238.2,122.2 1236.9,123.6 1238.2,124.9 1237.9,126.9 1237.3,127.7 1238.0,130.1 1237.7,130.6 1237.8,133.1 1237.3,133.8 1238.1,135.9 1237.8,137.0 1237.0,138.7 1238.5,140.3 1237.4,141.5 1237.4,143.5 1238.1,144.4 1237.6,146.5 1237.7,147.5 1237.5,149.5 1238.2,150.6 1237.3,152.4 1237.5,153.7 1238.4,155.3 1237.0,156.9 1237.8,158.2 1238.0,159.9 1237.5,161.2 1237.7,162.9 1237.7,164.3 1238.1,165.9 1237.1,167.4 1237.9,168.9 1238.1,170.4 1236.9,171.9 1238.2,173.3 1237.7,175.0 1237.4,176.3 1237.8,178.1 1237.8,179.3 1237.8,181.1 1237.2,182.3 1238.3,184.1 1237.6,185.4 1237.1,186.9 1238.4,188.6 1237.4,189.8 1236.3,190.5 1235.0,190.6 1233.0,190.2 1231.1,190.1 1230.4,190.6 1228.7,191.1 1227.0,191.1 1224.9,190.9 1224.4,191.0 1222.4,191.4 1220.9,191.6 1218.7,191.6 1218.4,191.7 1216.1,191.9 1214.8,192.0 1214.3,193.6 1214.1,194.7 1212.7,196.2 1211.7,196.8 1211.2,198.4 1208.3,199.3 1206.8,200.8 1207.7,201.8 1208.3,203.7 1207.0,204.3 1204.7,204.7 1205.8,206.2 1206.2,207.6 1207.7,210.0 1204.7,208.7 1204.7,207.3 1204.7,205.3 1203.7,206.2 1202.3,207.6 1199.4,209.0 1198.3,209.7 1195.8,210.4 1194.6,211.0 1192.5,210.9 1190.6,210.7 1190.0,209.9 1188.3,208.3 1188.1,206.2 1186.9,205.0 1185.8,204.0 1184.3,202.0 1183.0,202.7 1181.4,200.4 1181.7,200.4 1181.9,197.7 1181.1,196.3 1180.6,195.3 1181.5,192.9 1182.5,192.1 1183.4,189.9 1182.5,188.6 1182.9,186.3 1180.3,185.4 1179.4,185.5 1177.9,184.5 1175.8,184.8 1174.9,185.3 1173.8,185.8 1171.6,186.0 1170.2,186.1 1168.6,185.6 1167.5,186.1 1165.3,186.0 1163.5,184.8 1162.8,185.2 1160.4,185.0 1159.3,183.1 1159.8,181.0 1160.4,178.2 1160.6,176.9 1160.0,175.3 1159.4,173.5 1158.1,173.4 1155.6,171.6 1154.1,172.0 1154.7,169.9 1155.4,168.8 1154.7,167.3 1153.2,166.2 1151.4,165.4 1150.5,163.2 1149.7,161.9 1148.3,161.1 1152.1,160.3 1151.9,157.9 1151.7,155.6 1153.1,153.8 1154.3,153.1 1156.0,151.5 1157.4,149.8 1158.5,148.7 1159.3,148.1 1160.4,146.6 1161.9,144.9 1163.6,144.0 1163.3,142.2 1163.1,141.1 1164.2,139.0 1162.8,138.0 1163.6,135.9 1163.9,134.8 1163.1,133.1 1163.6,131.4 1163.5,130.4 1163.8,128.0 1162.9,127.6 1164.0,124.6 1163.7,124.7 1163.0,121.6 1164.2,121.4 1163.4,118.8 1163.6,118.0 1163.5,116.1 1164.0,114.5 1163.5,113.4 1163.3,111.2"/>
<polygon fill="#FF6633" points="1147.1,187.3 1149.2,186.7 1150.2,186.4 1153.0,186.3 1153.9,186.1 1155.7,185.7 1156.5,185.4 1158.5,185.1 1160.4,185.0 1162.8,185.2 1163.5,184.8 1165.3,186.0 1167.5,186.1 1168.6,185.6 1170.2,186.1 1171.6,186.0 1173.8,185.8 1174.9,185.3 1175.8,184.8 1177.9,184.5 1179.4,185.5 1180.3,185.4 1182.9,186.3 1182.5,188.6 1183.4,189.9 1182.5,192.1 1181.5,192.9 1180.6,195.3 1181.1,196.3 1181.9,197.7 1181.7,200.4 1181.4,200.4 1179.3,201.7 1178.3,202.0 1176.2,202.6 1174.7,202.4 1173.2,202.1 1170.7,202.7 1169.4,203.5 1166.6,203.5 1165.4,203.4 1163.1,203.9 1161.8,204.7 1160.1,204.9 1158.8,204.9 1156.9,204.9 1155.1,205.1 1153.0,205.5 1152.1,204.4 1151.3,203.4 1149.0,202.3 1149.3,200.1 1148.8,200.0 1148.8,197.5 1147.5,195.9 1147.3,194.8 1145.6,192.9 1147.1,192.8 1147.0,189.8 1147.7,189.2"/>
<polygon fill="#FFC200" points="1010.2,180.5 1013.2,180.6 1014.0,181.4 1015.4,181.5 1017.9,180.7 1019.0,182.2 1020.6,182.2 1022.0,181.5 1023.8,183.1 1024.6,182.8 1027.0,182.4 1027.7,183.9 1029.5,183.4 1031.0,184.8 1032.4,184.6 1033.3,186.8 1035.9,186.0 1036.2,186.9 1037.6,184.7 1039.2,183.5 1040.9,182.7 1042.3,183.5 1043.4,184.2 1046.1,185.4 1048.6,186.1 1048.9,187.8 1050.1,188.8 1050.9,189.2 1051.5,191.2 1052.6,188.4 1053.7,187.5 1056.5,187.7 1057.1,188.5 1059.0,188.4 1059.7,187.8 1062.2,186.9 1063.5,186.8 1065.1,188.2 1066.7,187.7 1069.0,186.9 1070.0,186.2 1071.6,185.4 1073.4,184.7 1073.9,184.5 1076.2,186.0 1077.6,186.9 1079.2,187.9 1080.2,189.1 1081.5,189.8 1082.7,190.8 1083.9,191.9 1086.8,193.0 1088.1,193.2 1089.5,195.0 1090.7,194.5 1092.3,196.8 1093.4,196.3 1093.5,199.1 1093.7,199.2 1093.5,202.1 1093.0,202.3 1094.2,204.9 1093.1,205.6 1093.2,207.5 1091.7,207.4 1089.6,206.3 1088.6,206.9 1086.5,206.0 1084.0,205.9 1082.5,206.6 1081.2,207.2 1080.5,207.7 1079.4,208.4 1076.9,207.8 1075.4,207.0 1073.6,206.0 1072.9,205.4 1070.7,205.4 1068.9,205.6 1067.5,206.0 1065.7,206.7 1065.3,207.6 1063.2,208.5 1061.7,209.2 1060.3,207.1 1059.0,206.4 1057.6,205.5 1055.9,205.8 1054.5,206.0 1054.0,206.2 1051.4,206.5 1049.8,206.6 1048.6,205.6 1046.3,204.8 1044.7,205.5 1043.3,204.4 1041.4,204.3 1039.8,203.5 1037.3,203.9 1036.4,204.5 1034.0,205.3 1032.8,204.7 1031.1,204.5 1028.9,202.4 1027.2,202.7 1025.2,201.0 1024.8,200.6 1021.8,200.5 1020.0,199.2 1019.5,199.1 1018.0,197.8 1018.1,196.2 1018.0,194.2 1017.8,193.2 1017.1,191.3 1016.1,189.1 1014.8,187.4 1014.6,186.5 1013.1,184.9 1012.2,182.8 1011.8,181.5"/>
<polygon fill="#FF6633" points="1051.5,191.2 1052.4,189.7 1051.5,188.6 1051.1,186.1 1050.3,185.0 1050.4,184.4 1050.6,181.5 1051.9,181.1 1052.3,180.6 1053.8,180.0 1055.5,179.4 1056.6,178.6 1058.3,177.8 1060.4,176.9 1061.5,174.4 1062.2,175.2 1064.1,176.8 1065.4,176.8 1066.6,178.6 1068.0,177.0 1069.2,175.4 1070.2,174.3 1071.2,173.6 1072.8,172.7 1075.3,172.3 1075.9,171.9 1077.8,171.9 1079.8,173.0 1081.9,173.3 1084.1,175.3 1084.7,173.7 1086.1,173.0 1087.1,171.2 1087.3,169.0 1087.3,168.5 1088.0,166.4 1088.2,163.9 1089.3,162.6 1093.3,162.4 1094.4,162.8 1096.5,162.3 1099.6,162.4 1100.7,165.3 1099.6,166.3 1100.2,168.9 1099.9,170.6 1100.9,171.7 1101.1,174.0 1100.8,175.7 1102.1,177.1 1101.9,179.0 1102.5,180.4 1102.0,181.0 1104.4,181.1 1106.0,181.5 1107.4,181.5 1108.7,181.0 1109.7,180.0 1112.3,179.1 1112.1,181.8 1112.2,182.8 1112.5,184.1 1111.8,186.6 1112.6,187.7 1111.8,189.7 1111.3,191.4 1110.3,191.9 1108.0,192.4 1107.1,193.0 1104.8,193.6 1103.5,194.3 1102.2,195.3 1099.9,197.3 1098.6,196.5 1095.9,197.6 1095.6,197.5 1093.4,196.3 1092.3,196.8 1090.7,194.5 1089.5,195.0 1088.1,193.2 1086.8,193.0 1083.9,191.9 1082.7,190.8 1081.5,189.8 1080.2,189.1 1079.2,187.9 1077.6,186.9 1076.2,186.0 1073.9,184.5 1073.4,184.7 1071.6,185.4 1070.0,186.2 1069.0,186.9 1066.7,187.7 1065.1,188.2 1063.5,186.8 1062.2,186.9 1059.7,187.8 1059.0,188.4 1057.1,188.5 1056.5,187.7 1053.7,187.5 1052.6,188.4"/>
<polygon fill="#FFC200" points="1015.8,156.5 1016.2,156.4 1018.6,156.4 1020.4,158.0 1021.0,157.4 1023.7,158.2 1026.3,158.3 1026.6,160.0 1029.0,159.0 1030.1,161.0 1031.3,160.3 1034.0,161.0 1034.4,161.7 1036.5,161.8 1037.0,163.1 1036.9,166.2 1038.6,166.7 1039.5,167.1 1040.8,169.2 1041.3,169.7 1043.5,170.9 1043.8,169.5 1044.5,168.2 1045.9,167.1 1046.9,165.6 1048.1,164.0 1049.8,163.1 1049.6,160.9 1050.0,159.1 1048.7,159.0 1047.9,158.8 1044.8,158.5 1044.5,157.4 1042.4,158.2 1040.8,156.8 1040.2,156.8 1041.1,156.1 1042.8,155.4 1044.6,154.6 1045.0,153.7 1046.8,152.8 1048.3,152.0 1049.5,151.2 1052.0,150.4 1053.0,150.1 1055.5,150.7 1056.6,151.2 1057.2,153.5 1060.0,153.3 1061.7,154.5 1063.5,156.3 1064.1,156.8 1066.6,157.2 1067.3,159.5 1067.9,160.4 1068.6,162.6 1068.0,164.2 1066.9,165.2 1065.3,165.9 1063.4,167.2 1062.1,168.7 1061.1,170.5 1060.4,171.6 1060.4,174.3 1061.5,174.4 1060.4,176.9 1058.3,177.8 1056.6,178.6 1055.5,179.4 1053.8,180.0 1052.3,180.6 1051.9,181.1 1050.6,181.5 1050.4,184.4 1050.3,185.0 1051.1,186.1 1051.5,188.6 1052.4,189.7 1051.5,191.2 1050.9,189.2 1050.1,188.8 1048.9,187.8 1048.6,186.1 1046.1,185.4 1043.4,184.2 1042.3,183.5 1040.9,182.7 1039.2,183.5 1037.6,184.7 1036.2,186.9 1035.9,186.0 1033.3,186.8 1032.4,184.6 1031.0,184.8 1029.5,183.4 1027.7,183.9 1027.0,182.4 1024.6,182.8 1023.8,183.1 1022.0,181.5 1020.6,182.2 1019.0,182.2 1017.9,180.7 1015.4,181.5 1014.0,181.4 1013.2,180.6 1010.2,180.5 1008.4,179.5 1007.6,180.3 1005.0,178.3 1004.4,178.8 1002.7,176.6 1001.3,177.0 1002.5,175.3 1003.9,174.1 1005.9,173.3 1006.9,172.5 1009.2,171.5 1008.7,170.3 1009.4,167.9 1010.4,166.2 1012.4,165.4 1014.3,164.7 1015.3,163.5 1017.3,162.4 1016.2,160.8 1015.9,159.1 1015.7,157.3"/>
<polygon fill="#FF6633" points="1015.8,156.5 1014.4,154.1 1015.7,152.9 1015.2,151.2 1014.9,149.6 1015.5,147.9 1015.2,146.7 1015.2,144.3 1015.0,143.9 1015.8,140.9 1014.5,140.7 1017.5,139.9 1018.3,139.2 1019.9,140.0 1021.2,140.8 1023.7,140.0 1022.6,141.6 1023.5,143.0 1023.6,144.7 1022.5,146.3 1023.7,147.5 1023.1,149.7 1024.9,151.7 1026.3,152.0 1028.0,151.3 1030.7,151.9 1032.3,152.0 1033.7,151.6 1035.9,153.4 1035.8,153.7 1038.0,154.5 1040.2,156.8 1040.8,156.8 1042.4,158.2 1044.5,157.4 1044.8,158.5 1047.9,158.8 1048.7,159.0 1050.0,159.1 1049.6,160.9 1049.8,163.1 1048.1,164.0 1046.9,165.6 1045.9,167.1 1044.5,168.2 1043.8,169.5 1043.5,170.9 1041.3,169.7 1040.8,169.2 1039.5,167.1 1038.6,166.7 1036.9,166.2 1037.0,163.1 1036.5,161.8 1034.4,161.7 1034.0,161.0 1031.3,160.3 1030.1,161.0 1029.0,159.0 1026.6,160.0 1026.3,158.3 1023.7,158.2 1021.0,157.4 1020.4,158.0 1018.6,156.4 1016.2,156.4"/>
<polygon fill="#FDFBB0" points="1023.1,149.7 1023.7,147.6 1022.5,146.4 1023.4,144.8 1023.6,143.1 1022.5,142.0 1023.6,139.9 1023.2,139.0 1023.1,136.9 1023.1,136.0 1023.3,134.0 1023.4,132.8 1022.5,131.1 1023.8,129.7 1023.1,128.2 1022.7,126.6 1023.8,125.2 1022.9,123.5 1023.1,122.1 1023.2,120.6 1023.4,119.1 1023.1,117.6 1022.8,116.0 1023.9,114.5 1022.6,113.0 1023.1,111.5 1023.8,110.1 1024.6,109.5 1026.2,110.0 1027.3,110.5 1030.0,110.0 1030.1,109.5 1032.4,110.1 1033.7,110.5 1035.5,109.8 1036.0,109.5 1038.9,110.2 1039.4,110.4 1041.2,109.7 1042.5,109.6 1044.9,110.3 1044.9,110.3 1046.1,111.4 1045.9,113.1 1045.2,114.7 1046.1,116.1 1045.6,117.8 1045.7,119.3 1045.4,120.8 1046.1,122.6 1045.5,123.7 1045.3,125.7 1046.5,126.9 1045.1,128.6 1045.8,130.3 1046.0,131.4 1045.5,133.8 1045.7,134.1 1046.8,135.8 1049.8,135.8 1050.4,136.4 1051.9,137.0 1055.0,138.5 1056.5,137.7 1056.0,140.3 1057.9,142.8 1058.6,144.2 1060.0,144.2 1061.7,146.4 1063.2,148.3 1061.9,149.4 1062.5,151.1 1062.5,153.4 1063.5,156.3 1061.7,154.5 1060.0,153.3 1057.2,153.5 1056.6,151.2 1055.5,150.7 1053.0,150.1 1052.0,150.4 1049.5,151.2 1048.3,152.0 1046.8,152.8 1045.0,153.7 1044.6,154.6 1042.8,155.4 1041.1,156.1 1040.2,156.8 1038.0,154.5 1035.8,153.7 1035.9,153.4 1033.7,151.6 1032.3,152.0 1030.7,151.9 1028.0,151.3 1026.3,152.0 1024.9,151.7"/>
<polygon fill="#FF6633" points="1077.6,110.4 1077.6,111.1 1077.6,113.8 1078.2,114.5 1077.0,116.7 1078.2,118.1 1077.7,119.6 1077.3,121.5 1078.2,123.0 1077.5,124.3 1077.9,126.6 1078.3,127.0 1077.7,129.5 1078.5,130.5 1078.7,132.0 1078.0,133.8 1079.4,135.2 1079.7,136.5 1079.3,137.5 1080.0,140.2 1080.1,140.9 1081.1,142.1 1080.3,144.9 1080.9,145.0 1080.3,145.3 1078.1,144.5 1077.9,143.9 1075.0,143.4 1074.3,144.7 1072.2,145.2 1070.2,145.8 1069.3,146.4 1067.4,146.0 1065.6,146.7 1064.1,145.6 1063.2,148.3 1061.7,146.4 1060.0,144.2 1058.6,144.2 1057.9,142.8 1056.0,140.3 1056.5,137.7 1055.0,138.5 1051.9,137.0 1050.4,136.4 1049.8,135.8 1046.8,135.8 1045.7,134.1 1045.5,133.8 1046.0,131.4 1045.8,130.3 1045.1,128.6 1046.5,126.9 1045.3,125.7 1045.5,123.7 1046.1,122.6 1045.4,120.8 1045.7,119.3 1045.6,117.8 1046.1,116.1 1045.2,114.7 1045.9,113.1 1046.1,111.4 1044.9,110.3 1047.6,109.7 1048.7,109.8 1050.5,110.3 1051.1,110.2 1054.0,109.8 1054.6,109.9 1056.3,110.2 1057.7,110.0 1060.1,109.9 1060.3,110.0 1062.6,110.0 1064.1,110.0 1065.7,110.1 1066.4,110.0 1069.1,109.8 1070.0,110.0 1071.4,110.3 1073.0,110.0 1075.2,109.6 1075.8,110.1"/>
<polygon fill="#663300" points="1077.5,124.3 1078.2,123.0 1077.3,121.5 1077.7,119.6 1078.2,118.1 1077.0,116.7 1078.2,114.5 1077.6,113.8 1077.6,111.1 1077.6,110.4 1079.6,109.8 1080.9,109.4 1082.0,110.2 1083.9,110.7 1086.1,109.8 1086.7,109.2 1088.6,110.3 1090.2,110.7 1092.3,109.7 1092.6,109.3 1095.2,110.2 1096.5,110.6 1098.4,109.8 1098.8,109.6 1101.7,110.1 1102.7,110.2 1104.3,110.0 1105.4,110.0 1108.1,110.0 1108.8,109.8 1110.3,110.1 1112.1,110.4 1112.6,111.0 1111.6,113.7 1112.3,114.1 1112.1,116.7 1112.3,117.4 1111.7,119.5 1112.4,120.7 1112.3,122.4 1111.4,124.0 1112.8,125.5 1111.7,126.9 1111.8,128.8 1111.3,129.8 1112.3,132.0 1111.1,132.8 1111.2,135.3 1110.8,136.6 1111.2,138.4 1110.0,140.3 1110.6,141.5 1110.5,143.7 1110.3,144.7 1109.2,145.1 1106.8,145.7 1108.3,147.3 1108.0,148.9 1108.9,151.0 1107.0,149.9 1104.7,150.2 1102.1,148.7 1100.4,147.6 1099.3,147.0 1098.0,144.4 1099.1,144.2 1098.5,142.0 1097.5,140.1 1096.9,140.1 1095.6,138.4 1093.4,137.5 1093.1,136.2 1091.4,136.9 1090.1,138.5 1089.3,140.2 1089.1,141.5 1087.9,143.2 1087.8,144.0 1085.5,145.4 1084.2,146.6 1082.5,146.5 1080.9,145.0 1080.3,144.9 1081.1,142.1 1080.1,140.9 1080.0,140.2 1079.3,137.5 1079.7,136.5 1079.4,135.2 1078.0,133.8 1078.7,132.0 1078.5,130.5 1077.7,129.5 1078.3,127.0 1077.9,126.6"/>
<polygon fill="#FF6633" points="1063.2,148.3 1064.1,145.6 1065.6,146.7 1067.4,146.0 1069.3,146.4 1070.2,145.8 1072.2,145.2 1074.3,144.7 1075.0,143.4 1077.9,143.9 1078.1,144.5 1080.3,145.3 1080.9,145.0 1081.7,147.5 1081.4,150.1 1079.7,150.7 1078.3,152.3 1079.7,154.8 1082.3,155.9 1083.2,156.9 1084.3,160.2 1087.5,161.3 1088.1,161.8 1089.3,162.6 1088.2,163.9 1088.0,166.4 1087.3,168.5 1087.3,169.0 1087.1,171.2 1086.1,173.0 1084.7,173.7 1084.1,175.3 1081.9,173.3 1079.8,173.0 1077.8,171.9 1075.9,171.9 1075.3,172.3 1072.8,172.7 1071.2,173.6 1070.2,174.3 1069.2,175.4 1068.0,177.0 1066.6,178.6 1065.4,176.8 1064.1,176.8 1062.2,175.2 1061.5,174.4 1060.4,174.3 1060.4,171.6 1061.1,170.5 1062.1,168.7 1063.4,167.2 1065.3,165.9 1066.9,165.2 1068.0,164.2 1068.6,162.6 1067.9,160.4 1067.3,159.5 1066.6,157.2 1064.1,156.8 1063.5,156.3 1062.5,153.4 1062.5,151.1 1061.9,149.4"/>
<polygon fill="#FFC200" points="1080.9,145.0 1082.5,146.5 1084.2,146.6 1085.5,145.4 1087.8,144.0 1087.9,143.2 1089.1,141.5 1089.3,140.2 1090.1,138.5 1091.4,136.9 1093.1,136.2 1093.4,137.5 1095.6,138.4 1096.9,140.1 1097.5,140.1 1098.5,142.0 1099.1,144.2 1098.0,144.4 1099.3,147.0 1100.4,147.6 1102.1,148.7 1104.7,150.2 1107.0,149.9 1108.9,151.0 1109.8,152.1 1111.4,152.5 1112.1,154.0 1112.6,155.2 1114.2,156.7 1114.3,159.1 1114.1,159.8 1114.7,162.2 1113.4,162.9 1114.9,164.4 1115.4,166.4 1115.6,168.5 1113.5,169.0 1112.7,169.5 1109.9,169.6 1108.1,167.4 1106.6,167.5 1104.8,167.7 1102.9,167.8 1101.4,168.3 1100.2,168.9 1099.6,166.3 1100.7,165.3 1099.6,162.4 1096.5,162.3 1094.4,162.8 1093.3,162.4 1089.3,162.6 1088.1,161.8 1087.5,161.3 1084.3,160.2 1083.2,156.9 1082.3,155.9 1079.7,154.8 1078.3,152.3 1079.7,150.7 1081.4,150.1 1081.7,147.5"/>
</g>
<polygon fill="#fff" stroke="#6a6a6a" stroke-width="0.6" points="1165.0,229.1 1166.0,230.3 1166.8,232.2 1165.3,234.1 1166.9,235.2 1167.2,237.4 1168.2,239.2 1170.0,241.1 1172.3,240.7 1174.5,240.6 1176.2,241.1 1177.5,243.2 1178.8,242.0 1181.4,240.5 1183.9,240.7 1186.1,239.0 1186.9,237.9 1188.0,235.3 1190.6,236.5 1192.2,238.7 1192.1,240.7 1192.2,242.3 1192.0,244.3 1190.0,246.2 1189.0,248.4 1188.0,249.7 1187.6,252.3 1187.6,253.3 1188.0,255.5 1187.6,256.6 1186.3,258.0 1184.9,258.8 1182.6,259.0 1181.9,260.4 1181.0,261.3 1179.8,262.4 1178.1,264.0 1176.5,265.6 1175.5,266.0 1172.9,266.3 1171.9,266.7 1169.7,267.0 1170.6,269.0 1169.8,270.6 1168.4,272.3 1169.3,274.8 1168.8,275.1 1169.1,278.0 1167.6,278.0 1168.4,281.0 1168.0,281.1 1166.1,281.6 1165.6,282.3 1164.3,283.2 1161.8,284.1 1160.8,285.0 1159.6,286.3 1157.6,287.6 1155.7,288.7 1154.9,289.7 1154.0,290.5 1152.5,291.3 1151.1,292.2 1150.3,293.2 1148.4,293.5 1146.2,293.7 1145.5,294.1 1143.2,294.9 1142.4,295.5 1140.1,296.1 1139.1,296.5 1138.1,297.7 1136.5,298.4 1134.6,299.4 1134.9,302.5 1134.6,304.5 1132.8,305.8 1130.9,303.6 1132.2,302.8 1131.4,300.8 1130.5,298.8 1131.0,297.2 1131.1,296.1 1131.1,294.3 1133.2,293.6 1135.2,293.1 1135.7,292.8 1137.1,292.6 1137.3,290.2 1138.0,288.3 1138.3,287.2 1139.0,285.2 1138.6,283.4 1138.9,281.2 1140.4,280.6 1141.3,278.4 1141.8,277.5 1143.2,276.6 1145.0,275.8 1145.9,275.0 1148.2,274.1 1149.8,274.1 1150.8,274.7 1151.9,272.7 1153.1,271.7 1154.3,270.1 1155.5,267.6 1156.8,266.5 1158.3,266.0 1159.0,264.4 1158.4,263.2 1157.5,260.8 1158.6,259.9 1159.8,257.7 1161.0,256.5 1161.9,254.7 1162.2,253.7 1163.3,251.7 1164.3,249.5 1165.5,249.1 1166.5,246.8 1166.2,245.3 1167.7,244.2 1168.5,243.0 1167.7,241.9 1167.2,239.9 1165.6,238.0 1165.6,237.4 1164.5,236.2 1164.7,234.1 1164.0,232.5 1164.9,230.6"/>
<polygon fill="none" stroke="#222" stroke-opacity="0.75" stroke-width="0.8" stroke-linejoin="round" points="931.5,235.1 933.1,233.8 934.2,232.0 936.2,231.4 937.9,230.5 939.8,229.7 940.9,227.7 942.6,226.4 944.2,225.0 943.7,222.0 945.9,221.1 947.5,220.2 949.7,220.4 950.8,218.6 952.4,217.5 954.2,216.7 954.1,214.0 956.1,213.3 957.5,212.0 958.5,210.1 960.4,209.2 961.9,207.8 963.2,206.2 963.3,203.9 964.8,202.5 966.5,201.2 967.5,199.2 970.1,198.6 970.7,196.3 972.6,196.1 973.6,193.9 975.6,193.8 977.5,192.1 978.1,189.7 978.6,187.1 980.6,185.5 982.2,183.1 984.1,181.9 984.9,179.6 987.2,178.9 987.9,176.1 990.5,174.8 992.2,173.1 994.3,173.1 995.5,171.5 997.1,169.0 999.2,168.9 1001.2,169.5 1002.9,170.7 1003.7,167.4 1002.9,164.9 1000.4,164.0 1002.5,164.0 1003.5,161.9 1005.4,161.6 1007.9,161.8 1009.5,159.9 1011.5,158.7 1013.6,157.7 1015.2,156.0 1016.4,154.0 1019.3,154.0 1020.2,151.7 1022.0,150.9 1023.2,149.3 1026.0,149.1 1027.6,146.9 1029.5,146.2 1029.6,143.8 1030.9,142.5 1031.8,140.8 1033.6,140.0 1035.8,138.2 1038.6,138.0 1040.1,136.0 1042.3,135.6 1044.5,135.0 1046.6,134.8 1048.5,134.0 1049.9,131.8 1052.8,132.1 1054.6,130.6 1056.1,129.2 1057.8,128.0 1059.8,127.3 1061.8,127.4 1063.1,125.9 1064.7,124.8 1066.5,124.6 1068.3,124.1 1070.2,124.2 1071.8,123.3 1074.0,122.7 1075.5,125.3 1077.7,124.6 1079.2,122.9 1081.5,124.2 1083.5,123.9 1084.7,121.4 1086.9,122.0 1089.0,123.1 1091.4,122.5 1093.5,123.3 1095.8,122.8 1097.5,120.8 1100.1,121.3 1102.3,121.1 1103.8,122.2 1104.6,124.8 1106.8,124.6 1109.6,124.3 1112.1,125.5 1114.1,126.4 1116.2,127.0 1118.3,127.3 1120.5,126.0 1122.6,126.6 1124.9,126.7 1127.0,127.5 1129.2,127.9 1131.3,129.0 1133.8,127.8 1135.8,129.2 1137.4,130.8 1139.6,131.3 1140.4,133.3 1141.6,135.0 1143.6,135.9 1146.1,134.4 1148.9,135.3 1150.2,137.0 1152.7,135.7 1154.1,137.3 1156.0,137.8 1157.5,139.3 1159.4,139.9 1160.0,142.0 1162.3,142.3 1163.4,143.9 1166.0,145.9 1167.2,147.9 1169.5,148.2 1171.3,149.2 1173.6,150.5 1175.3,152.5 1177.1,153.5 1178.8,154.6 1179.7,156.5 1181.8,157.9 1182.2,160.5 1184.2,161.2 1184.5,163.5 1186.2,164.5 1186.6,166.8 1189.5,166.9 1190.2,169.0 1192.5,168.5 1193.9,171.3 1196.2,170.7 1198.0,170.9 1199.9,170.7 1201.7,171.1 1203.7,170.8 1205.4,171.9 1207.3,172.0 1209.2,172.7 1211.0,171.6 1212.9,171.6 1215.3,171.6 1217.6,172.0 1219.6,171.1 1221.3,172.5 1223.1,175.3 1223.6,178.1 1220.4,179.0 1216.6,182.3 1214.8,185.5 1214.8,191.1 1213.8,194.8 1210.1,197.6 1207.8,200.4 1209.2,203.2 1211.0,204.1 1212.9,200.4 1216.6,199.0 1220.4,200.4 1223.1,203.2 1221.3,206.9 1218.5,211.0 1212.8,225.8 1206.9,235.7 1200.9,247.6 1192.7,258.5 1185.7,267.8 1176.4,276.0 1168.4,282.2 1157.7,291.5 1152.1,295.5 1145.7,299.0 1140.7,302.3 1136.9,304.9 1130.3,313.1 1123.7,326.4 1118.7,337.9 1110.5,347.9 1100.6,356.1 1089.0,362.7 1085.2,367.2 1083.2,361.0 1083.2,357.8 1083.9,356.1 1084.6,354.3 1085.7,352.8 1086.0,351.2 1085.7,349.5 1086.3,347.9 1086.5,346.2 1087.7,344.5 1089.0,342.9 1090.3,341.7 1091.9,341.3 1093.1,340.1 1094.8,339.6 1095.4,338.1 1095.8,336.4 1096.4,335.0 1097.4,333.6 1098.1,332.1 1099.8,331.8 1101.3,330.7 1103.0,330.5 1104.6,331.3 1105.8,332.6 1107.1,333.9 1108.8,334.6 1110.5,333.6 1112.1,332.3 1113.8,331.3 1114.9,329.8 1114.7,327.9 1116.1,326.5 1116.3,324.7 1117.1,323.1 1116.4,321.5 1116.1,319.8 1115.9,318.2 1116.0,316.4 1115.4,314.8 1114.4,313.0 1114.0,310.9 1113.2,309.0 1112.8,308.7 1111.4,309.6 1110.3,310.8 1108.9,311.7 1109.5,313.7 1110.6,315.6 1110.9,317.7 1109.6,319.0 1108.0,319.9 1106.3,320.5 1104.9,321.6 1103.3,322.3 1101.8,323.0 1100.1,323.3 1098.6,324.0 1097.0,324.6 1095.4,324.6 1093.8,323.9 1092.2,323.8 1090.6,324.0 1089.0,323.6 1087.7,322.6 1086.4,321.6 1085.3,320.4 1083.9,319.5 1082.3,318.8 1081.1,317.7 1080.7,316.0 1079.3,314.9 1078.8,313.2 1078.1,311.7 1077.7,309.8 1076.6,308.2 1076.3,306.4 1075.3,304.7 1075.1,302.8 1073.7,301.9 1072.3,301.1 1070.7,300.5 1069.2,299.8 1067.3,299.1 1065.2,299.3 1063.3,298.8 1061.9,297.4 1060.4,296.3 1058.8,295.1 1057.3,293.9 1055.9,293.0 1054.7,291.8 1053.3,290.8 1051.7,290.2 1050.4,288.9 1049.2,287.5 1047.5,286.6 1046.5,285.0 1045.0,284.0 1043.4,283.3 1041.9,282.2 1040.2,281.5 1038.5,281.0 1036.8,280.9 1035.2,280.5 1033.6,279.9 1031.9,279.7 1029.9,279.0 1028.3,277.5 1026.6,276.4 1024.8,275.8 1023.1,275.1 1021.5,274.3 1020.0,273.1 1019.2,271.6 1017.7,270.7 1016.8,269.3 1016.0,267.8 1014.6,266.8 1013.6,265.4 1011.8,264.9 1010.7,263.6 1009.4,262.5 1007.5,261.1 1005.5,259.8 1004.2,260.9 1003.3,262.3 1002.2,263.6 1001.5,265.1 999.8,266.2 998.0,267.0 996.2,267.8 993.9,267.6 991.6,267.1 991.8,265.4 991.7,263.6 990.9,262.0 990.7,260.2 990.9,258.5 989.7,257.3 988.6,256.0 987.7,254.5 986.7,253.2 985.6,251.9 984.5,250.7 983.3,249.5 982.6,247.9 981.7,246.5 980.1,245.6 978.8,244.5 977.5,243.2 975.9,242.5 974.3,241.6 972.8,240.6 971.3,239.7 969.9,238.3 968.1,237.5 967.1,235.7 965.4,234.7 964.0,233.7 962.6,232.9 961.0,232.2 959.4,231.7 957.4,232.0 955.5,232.3 953.5,232.8 951.5,232.7 950.1,234.3 949.2,236.3 947.6,237.7 946.0,238.3 944.4,238.4 942.8,238.6 941.2,238.6 939.6,238.7 937.5,238.6 935.7,237.7"/>
<rect x="190.5" y="376.5" width="26.5" height="15.5" fill="#FDFCAE" stroke="#111" stroke-width="1.4"/>
<rect x="190.5" y="400.0" width="26.5" height="15.5" fill="#FFFF77" stroke="#111" stroke-width="1.4"/>
<rect x="190.5" y="423.8" width="26.5" height="15.5" fill="#E0E68A" stroke="#111" stroke-width="1.4"/>
<rect x="318.8" y="378.0" width="26.5" height="15.5" fill="#BFD57F" stroke="#111" stroke-width="1.4"/>
<rect x="318.8" y="401.5" width="26.5" height="15.5" fill="#A0B073" stroke="#111" stroke-width="1.4"/>
<rect x="318.8" y="425.5" width="26.5" height="15.5" fill="#013333" stroke="#111" stroke-width="1.4"/>
<rect x="818.8" y="380.8" width="26.5" height="15.5" fill="#FDFBB0" stroke="#111" stroke-width="1.4"/>
<rect x="818.8" y="404.8" width="26.5" height="15.5" fill="#FFC200" stroke="#111" stroke-width="1.4"/>
<rect x="926.5" y="382.3" width="26.5" height="15.5" fill="#FF6633" stroke="#111" stroke-width="1.4"/>
<rect x="926.5" y="406.0" width="26.5" height="15.5" fill="#663300" stroke="#111" stroke-width="1.4"/>
<g font-family="Liberation Sans, sans-serif" fill="#2b2b2b" stroke="#2b2b2b" stroke-width="0.2" font-size="14" letter-spacing="0.35">
<text x="231.2" y="390.5" letter-spacing="0.3">até 190</text>
<text x="230.7" y="414.2">190</text><rect x="260.0" y="410.6" width="4.8" height="1.3" stroke="none"/><rect x="265.7" y="410.6" width="4.8" height="1.3" stroke="none"/><rect x="271.0" y="403.4" width="2.4" height="14" fill="#a0a0a0" stroke="none"/><text x="277.0" y="414.2">200</text>
<text x="231.1" y="438.2">200</text><rect x="260.0" y="434.6" width="4.8" height="1.3" stroke="none"/><rect x="265.7" y="434.6" width="4.8" height="1.3" stroke="none"/><rect x="271.0" y="427.4" width="2.4" height="14" fill="#a0a0a0" stroke="none"/><text x="276.6" y="438.2">210</text>
<text x="359.7" y="391.7">210</text><rect x="388.5" y="388.1" width="4.9" height="1.3" stroke="none"/><rect x="394.2" y="388.1" width="4.9" height="1.3" stroke="none"/><rect x="399.3" y="380.9" width="2.4" height="14" fill="#a0a0a0" stroke="none"/><text x="406.1" y="391.7">220</text>
<text x="359.7" y="415.4">220</text><rect x="388.5" y="411.8" width="4.9" height="1.3" stroke="none"/><rect x="394.2" y="411.8" width="4.9" height="1.3" stroke="none"/><rect x="399.3" y="404.6" width="2.4" height="14" fill="#a0a0a0" stroke="none"/><text x="406.1" y="415.4">230</text>
<text x="359.7" y="439.3">230</text><rect x="388.5" y="435.7" width="4.9" height="1.3" stroke="none"/><rect x="394.2" y="435.7" width="4.9" height="1.3" stroke="none"/><rect x="399.3" y="428.5" width="2.4" height="14" fill="#a0a0a0" stroke="none"/><text x="406.1" y="439.3">240</text>
<text x="860.3" y="394.6" letter-spacing="0.3">até 44</text>
<text x="860.6" y="418.3">44</text><rect x="878.2" y="414.7" width="4.8" height="1.3" stroke="none"/><rect x="883.9" y="414.7" width="4.8" height="1.3" stroke="none"/><rect x="889.8" y="407.5" width="2.4" height="14" fill="#a0a0a0" stroke="none"/><text x="897.6" y="418.3">46</text>
<text x="968.7" y="396.3">46</text><rect x="986.0" y="392.7" width="5.0" height="1.3" stroke="none"/><rect x="991.8" y="392.7" width="5.0" height="1.3" stroke="none"/><rect x="997.4" y="385.5" width="2.4" height="14" fill="#a0a0a0" stroke="none"/><text x="1004.3" y="396.3">48</text>
<text x="968.7" y="420.4">48</text><rect x="986.0" y="416.8" width="5.0" height="1.3" stroke="none"/><rect x="991.8" y="416.8" width="5.0" height="1.3" stroke="none"/><rect x="997.4" y="409.6" width="2.4" height="14" fill="#a0a0a0" stroke="none"/><text x="1004.0" y="420.4">50</text>
</g>
<text font-family="Liberation Sans, sans-serif" x="32" y="465.8" font-size="16.3" fill="#000">FONTE DOS DADOS BRUTOS: INEP/SAEB (2013).</text>
</svg></body></html>
